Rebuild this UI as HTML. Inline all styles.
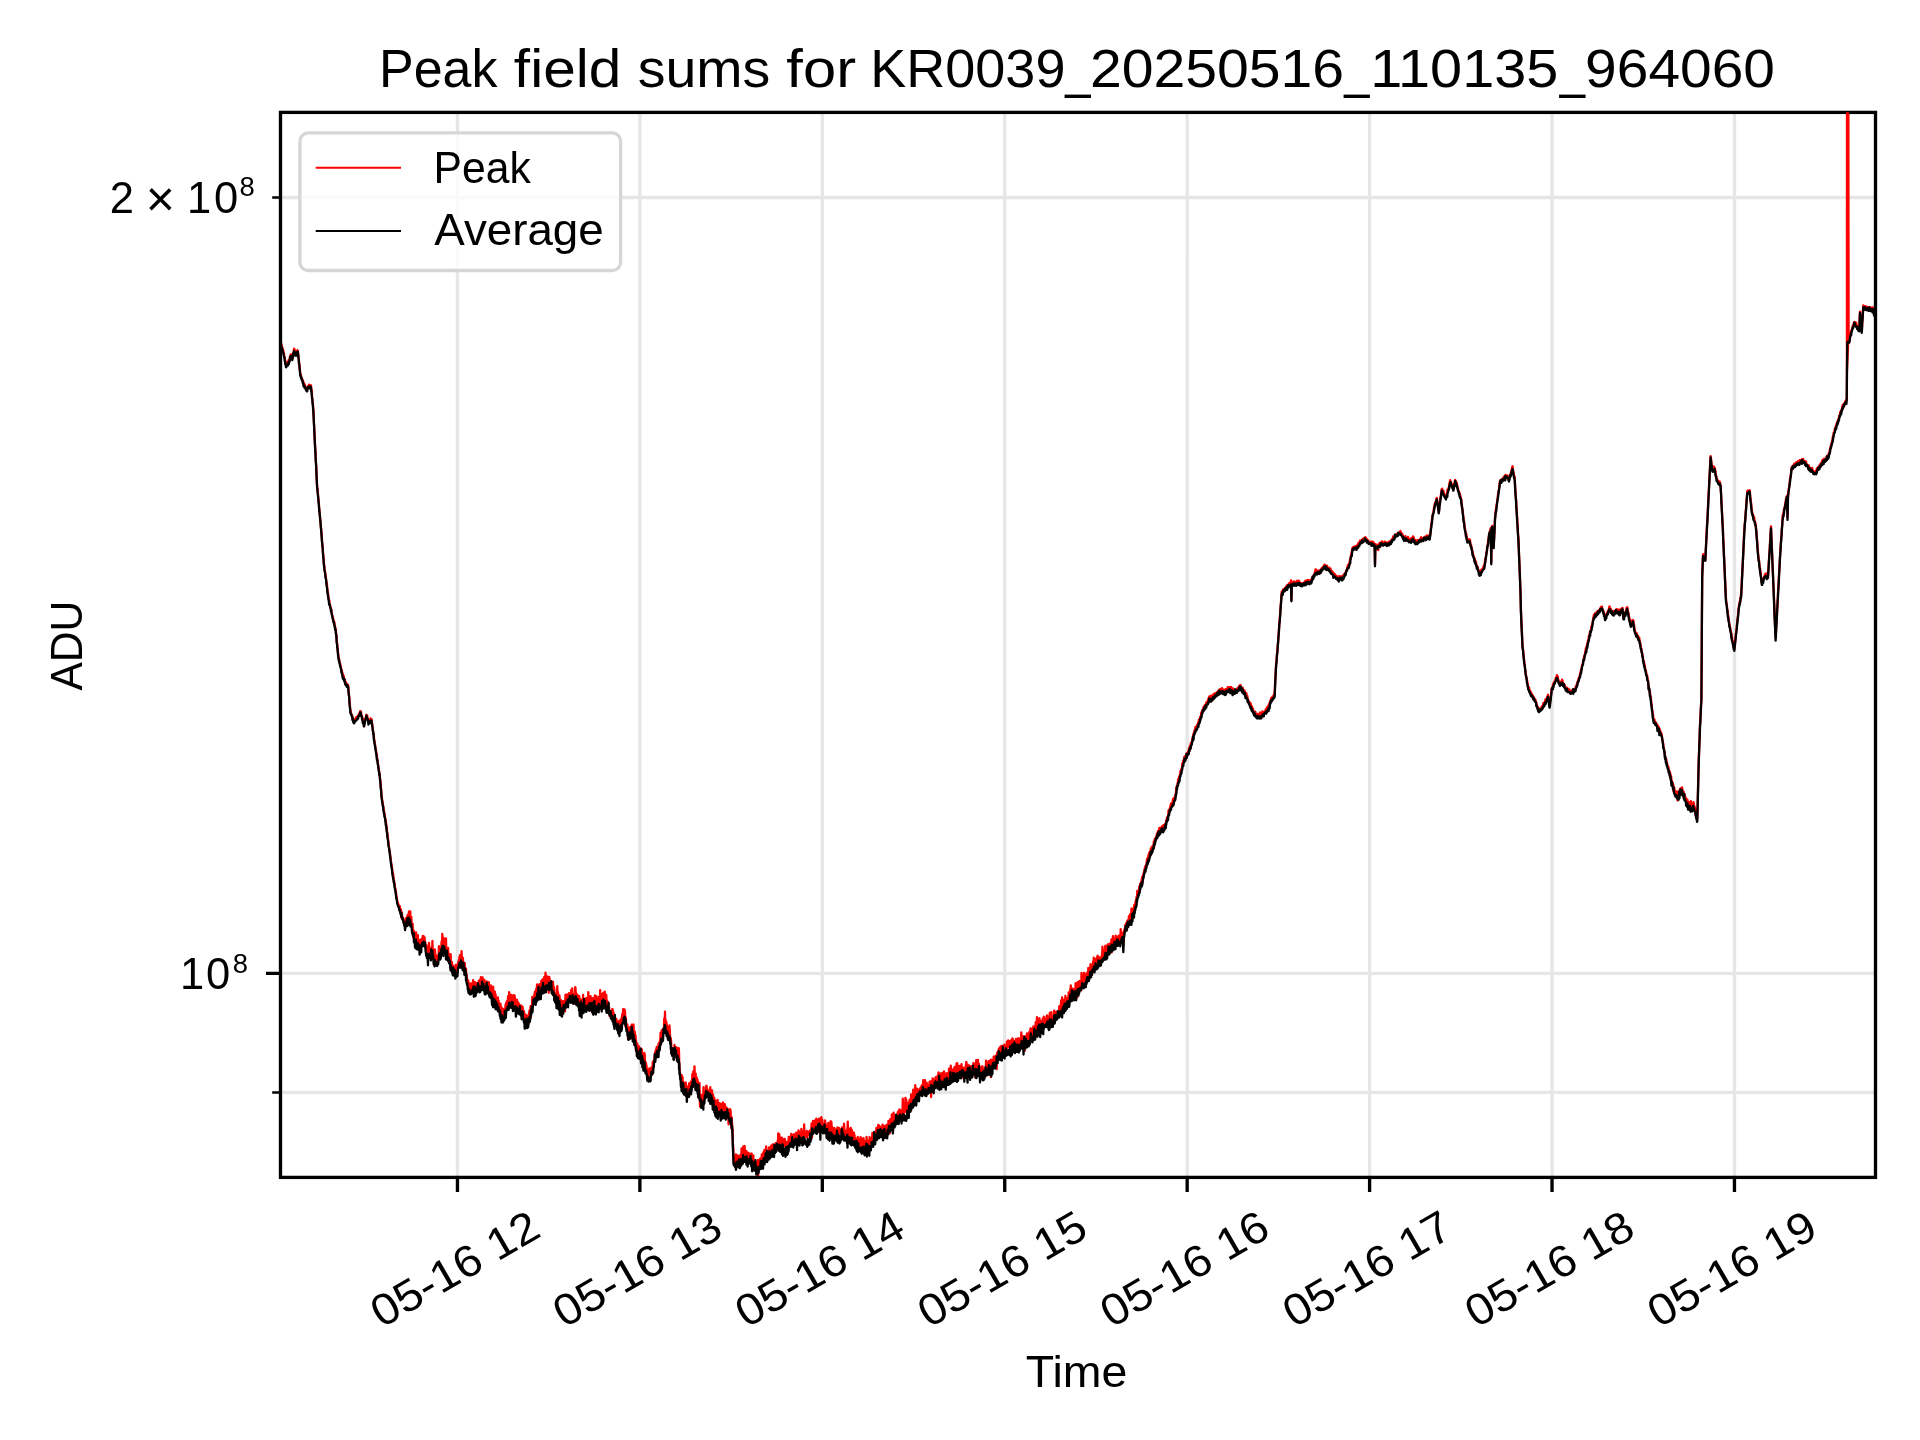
<!DOCTYPE html>
<html><head><meta charset="utf-8"><title>Peak field sums</title>
<style>html,body{margin:0;padding:0;background:#fff;width:1920px;height:1440px;overflow:hidden}svg{display:block;will-change:transform}text{font-family:"Liberation Sans",sans-serif}</style>
</head><body>
<svg width="1920" height="1440" viewBox="0 0 1920 1440">
<rect width="1920" height="1440" fill="#ffffff"/>
<defs><clipPath id="ax"><rect x="280.50" y="112.40" width="1595.00" height="1065.00"/></clipPath></defs>
<path d="M457.45 112.40V1177.40M639.88 112.40V1177.40M822.31 112.40V1177.40M1004.74 112.40V1177.40M1187.17 112.40V1177.40M1369.60 112.40V1177.40M1552.03 112.40V1177.40M1734.46 112.40V1177.40M280.50 197.50H1875.50M280.50 973.45H1875.50M280.50 1092.40H1875.50" stroke="#e6e6e6" stroke-width="3.333" fill="none" clip-path="url(#ax)"/>
<g clip-path="url(#ax)" fill="none" stroke-width="2.3" stroke-linejoin="round" stroke-linecap="butt">
<path d="M280.50 344.08L280.75 342.98L281.00 342.43L281.25 345.25L281.50 344.55L281.75 346.04L282.00 347.37L282.25 349.71L282.50 347.84L282.75 349.04L283.00 350.23L283.25 350.36L283.50 352.03L283.75 353.64L284.00 353.46L284.25 356.23L284.50 356.61L284.75 357.55L285.00 360.21L285.25 360.93L285.50 361.98L285.75 363.79L286.00 365.79L286.26 365.45L286.52 363.84L286.77 362.60L287.03 362.34L287.29 362.97L287.55 363.47L287.81 363.11L288.07 362.15L288.33 361.98L288.58 360.05L288.84 360.96L289.10 360.26L289.37 360.06L289.64 359.73L289.91 356.96L290.19 357.43L290.46 355.69L290.73 354.51L291.00 354.25L291.26 354.96L291.52 356.69L291.78 356.73L292.04 357.38L292.30 358.73L292.56 356.84L292.81 355.29L293.07 354.60L293.33 352.38L293.59 351.57L293.84 350.98L294.10 348.61L294.37 349.65L294.64 349.58L294.91 352.14L295.19 352.07L295.46 352.29L295.73 353.23L296.00 354.63L296.27 353.73L296.54 353.61L296.81 352.61L297.09 352.21L297.36 350.26L297.63 351.12L297.90 351.04L298.15 354.07L298.40 356.03L298.65 357.64L298.90 360.68L299.15 361.83L299.40 365.75L299.65 367.26L299.90 369.61L300.15 372.23L300.40 375.40L300.66 374.90L300.93 374.74L301.19 376.85L301.46 378.43L301.72 378.02L301.99 379.23L302.25 380.27L302.51 379.64L302.78 381.18L303.04 381.07L303.31 382.76L303.57 382.45L303.84 383.77L304.10 384.40L304.36 383.77L304.63 384.75L304.89 384.69L305.15 386.74L305.42 386.34L305.68 388.40L305.95 387.36L306.21 389.61L306.47 389.79L306.74 388.34L307.00 387.86L307.30 389.01L307.60 387.56L307.90 387.06L308.16 386.21L308.42 385.86L308.67 386.96L308.93 384.76L309.19 387.05L309.45 386.90L309.71 386.91L309.97 386.73L310.23 385.92L310.48 385.21L310.74 385.80L311.00 385.46L311.26 389.94L311.51 389.39L311.77 390.72L312.02 395.43L312.28 399.21L312.53 400.02L312.79 403.39L313.04 405.69L313.30 408.13L313.57 414.71L313.83 419.75L314.10 425.72L314.37 430.28L314.63 436.58L314.90 442.64L315.16 446.73L315.41 450.65L315.67 456.65L315.92 461.86L316.18 465.78L316.43 471.79L316.69 476.10L316.94 483.89L317.20 488.35L317.46 488.62L317.72 490.84L317.98 494.08L318.25 497.20L318.51 500.81L318.77 502.19L319.03 506.19L319.29 509.16L319.55 512.29L319.82 515.36L320.08 516.81L320.34 519.75L320.60 523.35L320.86 526.74L321.12 528.31L321.38 532.23L321.65 534.06L321.91 538.22L322.17 542.60L322.43 544.60L322.69 546.99L322.95 552.13L323.22 554.19L323.48 557.15L323.74 561.41L324.00 563.51L324.26 565.69L324.51 568.70L324.77 570.84L325.02 571.07L325.28 573.38L325.53 575.16L325.79 576.43L326.04 579.59L326.30 580.91L326.56 582.69L326.81 583.01L327.07 586.05L327.32 589.20L327.58 590.34L327.83 593.78L328.09 593.68L328.34 595.83L328.60 598.68L328.86 599.48L329.11 599.88L329.37 601.17L329.62 603.44L329.88 605.17L330.13 605.64L330.39 606.53L330.64 607.29L330.90 608.33L331.16 609.20L331.41 610.77L331.67 612.61L331.92 614.62L332.18 615.49L332.43 615.49L332.69 616.54L332.94 617.51L333.20 619.20L333.46 619.66L333.71 621.00L333.97 622.45L334.22 622.14L334.48 623.44L334.73 625.79L334.99 627.15L335.24 626.75L335.50 630.16L335.75 629.11L336.00 632.65L336.25 635.65L336.50 636.08L336.75 641.61L337.00 642.67L337.25 644.12L337.50 648.70L337.75 650.23L338.00 652.28L338.25 654.55L338.50 656.60L338.76 658.70L339.02 658.27L339.28 660.35L339.54 662.28L339.80 663.23L340.06 663.71L340.32 664.22L340.58 665.64L340.84 666.92L341.10 669.13L341.36 669.76L341.62 669.52L341.88 672.84L342.14 672.03L342.40 673.44L342.66 674.94L342.92 674.08L343.18 675.49L343.45 676.98L343.71 675.80L343.97 678.48L344.23 679.37L344.49 680.35L344.75 679.55L345.02 680.82L345.28 683.43L345.54 682.66L345.80 683.50L346.06 682.30L346.31 684.55L346.57 683.92L346.82 684.37L347.08 684.46L347.33 684.42L347.59 684.78L347.84 685.56L348.10 685.04L348.36 687.13L348.61 692.15L348.87 694.39L349.12 695.84L349.38 698.98L349.63 702.92L349.89 704.73L350.14 708.07L350.40 710.30L350.66 710.52L350.92 712.05L351.18 714.70L351.45 714.29L351.71 714.54L351.97 715.18L352.23 715.85L352.49 717.22L352.75 719.40L353.02 718.48L353.28 719.06L353.54 720.28L353.80 721.55L354.06 720.61L354.32 720.36L354.58 719.59L354.85 720.23L355.11 720.44L355.37 718.67L355.63 719.10L355.89 719.49L356.15 717.79L356.42 716.85L356.68 717.08L356.94 717.99L357.20 717.74L357.45 717.04L357.70 717.23L357.95 716.63L358.20 715.52L358.45 715.65L358.70 714.45L358.95 714.33L359.20 713.75L359.45 714.26L359.70 712.68L359.95 712.97L360.20 711.24L360.45 711.46L360.70 711.28L360.96 711.97L361.22 714.58L361.48 714.56L361.75 716.05L362.01 716.60L362.27 719.46L362.53 717.80L362.79 719.91L363.05 721.80L363.32 722.41L363.58 721.12L363.84 722.78L364.10 726.28L364.36 723.30L364.61 722.32L364.87 718.86L365.12 719.52L365.38 718.65L365.63 718.55L365.89 717.09L366.14 715.24L366.40 714.77L366.66 715.01L366.91 715.78L367.17 715.58L367.42 716.85L367.68 718.76L367.93 720.01L368.19 720.32L368.44 721.47L368.70 722.17L368.97 719.94L369.24 722.46L369.51 721.27L369.78 720.06L370.05 719.84L370.32 720.14L370.59 718.38L370.86 720.76L371.13 719.62L371.40 719.01L371.67 720.05L371.93 722.80L372.20 723.37L372.47 726.48L372.73 727.62L373.00 730.74L373.27 732.49L373.53 733.57L373.80 735.39L374.07 738.72L374.33 739.92L374.60 741.90L374.86 743.93L375.12 745.00L375.38 748.16L375.64 749.28L375.90 749.52L376.16 751.58L376.42 753.73L376.68 754.30L376.94 756.66L377.20 758.49L377.46 761.21L377.72 762.19L377.98 764.39L378.24 765.21L378.50 767.24L378.76 768.63L379.02 770.16L379.28 772.80L379.54 772.92L379.80 775.48L380.06 779.01L380.32 780.13L380.59 782.52L380.85 786.85L381.11 789.10L381.38 792.65L381.64 796.70L381.90 798.16L382.16 799.69L382.41 801.57L382.67 802.87L382.92 804.28L383.18 805.92L383.44 807.21L383.69 809.77L383.95 810.69L384.21 811.84L384.46 813.54L384.72 814.45L384.98 817.58L385.23 818.21L385.49 820.05L385.74 820.90L386.00 822.71L386.26 824.43L386.52 826.80L386.79 827.98L387.05 832.03L387.31 833.41L387.58 835.24L387.84 837.65L388.10 839.49L388.36 842.12L388.62 843.84L388.89 846.59L389.15 847.49L389.41 849.98L389.68 851.23L389.94 853.14L390.20 854.87L390.46 857.00L390.73 859.58L390.99 861.05L391.25 863.58L391.51 864.34L391.78 866.74L392.04 867.29L392.30 870.85L392.56 873.41L392.82 872.74L393.08 873.87L393.34 875.63L393.60 878.15L393.86 882.02L394.12 881.29L394.38 882.42L394.64 884.61L394.90 886.67L395.16 888.06L395.42 888.44L395.68 891.05L395.94 891.92L396.20 894.79L396.46 896.19L396.72 898.07L396.98 899.27L397.24 901.20L397.50 901.66L397.76 903.01L398.02 903.34L398.29 903.94L398.55 904.68L398.81 905.78L399.07 906.28L399.34 908.42L399.60 905.78L399.86 906.75L400.12 910.43L400.39 910.41L400.65 910.48L400.91 909.34L401.18 917.46L401.44 911.75L401.70 913.23L401.96 914.01L402.22 917.44L402.48 916.82L402.73 918.12L402.99 918.74L403.25 918.13L403.51 919.99L403.77 921.96L404.02 924.47L404.28 922.50L404.54 925.18L404.80 924.33L405.06 923.06L405.32 923.31L405.58 921.81L405.84 920.74L406.10 918.21L406.36 920.14L406.62 922.54L406.88 921.05L407.14 917.17L407.40 917.57L407.66 914.98L407.92 922.18L408.18 920.19L408.44 916.51L408.70 915.28L408.96 911.47L409.22 914.42L409.48 916.35L409.74 918.82L410.00 914.44L410.26 911.45L410.52 919.77L410.79 918.85L411.05 921.63L411.31 916.78L411.57 922.50L411.84 926.48L412.10 928.06L412.36 926.73L412.62 923.72L412.89 931.83L413.15 936.82L413.41 934.15L413.68 930.38L413.94 931.89L414.20 935.08L414.46 932.91L414.72 938.87L414.98 935.35L415.24 940.34L415.50 944.60L415.76 939.87L416.02 932.35L416.28 935.24L416.54 942.05L416.80 939.69L417.06 943.66L417.32 936.96L417.58 947.31L417.84 935.15L418.10 944.54L418.36 948.69L418.62 946.59L418.88 941.63L419.14 947.91L419.40 944.12L419.66 941.44L419.91 940.18L420.17 946.80L420.42 943.63L420.68 946.69L420.94 940.38L421.19 939.12L421.45 945.38L421.71 939.37L421.96 939.16L422.22 938.62L422.48 940.34L422.73 936.01L422.99 936.87L423.24 937.76L423.50 937.45L423.77 936.40L424.03 940.70L424.30 939.61L424.57 937.30L424.83 941.90L425.10 945.17L425.37 942.50L425.63 948.38L425.90 946.05L426.17 949.91L426.43 945.12L426.70 950.47L426.96 948.61L427.22 947.02L427.48 949.02L427.74 952.31L428.00 949.09L428.26 949.97L428.52 946.49L428.78 953.65L429.04 942.98L429.30 953.86L429.56 950.83L429.82 950.99L430.08 953.72L430.34 949.21L430.60 953.14L430.86 954.69L431.12 959.33L431.38 953.02L431.64 947.09L431.90 950.74L432.16 953.46L432.42 940.92L432.68 952.68L432.94 954.18L433.20 952.07L433.46 958.30L433.72 955.61L433.98 956.55L434.24 951.16L434.50 958.66L434.76 949.30L435.02 950.14L435.28 955.57L435.54 958.09L435.80 957.89L436.06 958.81L436.32 955.62L436.58 961.54L436.84 959.22L437.10 958.91L437.36 958.96L437.62 955.46L437.88 956.66L438.14 958.64L438.40 955.91L438.66 955.09L438.92 946.20L439.18 953.04L439.44 952.85L439.70 951.42L439.96 954.92L440.22 950.03L440.48 948.61L440.74 949.96L441.00 952.32L441.26 951.52L441.52 941.71L441.78 950.25L442.04 946.42L442.30 933.86L442.56 942.68L442.82 941.99L443.09 941.35L443.35 943.21L443.61 937.87L443.88 941.00L444.14 941.49L444.40 945.19L444.66 944.97L444.93 943.96L445.19 945.38L445.45 951.41L445.71 946.70L445.98 938.45L446.24 948.15L446.50 947.98L446.76 952.10L447.02 948.27L447.28 957.91L447.54 959.62L447.80 954.67L448.06 947.87L448.32 954.22L448.58 953.36L448.84 960.94L449.10 957.68L449.36 954.64L449.62 962.43L449.88 954.78L450.14 964.11L450.40 962.46L450.66 954.27L450.92 965.36L451.18 969.75L451.44 963.04L451.70 961.81L451.96 962.42L452.22 968.82L452.48 967.78L452.74 969.54L453.00 965.63L453.26 971.26L453.52 967.65L453.78 970.60L454.04 970.82L454.30 968.22L454.56 967.46L454.82 970.58L455.08 967.21L455.34 969.90L455.60 964.85L455.86 967.50L456.12 966.80L456.38 970.94L456.64 966.74L456.90 973.93L457.16 966.90L457.42 972.15L457.67 965.91L457.93 963.28L458.19 965.15L458.45 961.47L458.71 964.85L458.97 959.78L459.23 959.81L459.48 956.99L459.74 957.54L460.00 955.21L460.26 960.13L460.52 958.57L460.79 955.28L461.05 955.06L461.31 960.15L461.57 951.27L461.84 960.54L462.10 956.85L462.36 967.14L462.62 962.13L462.89 957.91L463.15 963.95L463.41 965.72L463.68 964.63L463.94 965.34L464.20 964.55L464.46 966.74L464.72 962.98L464.98 974.35L465.24 967.75L465.50 974.48L465.76 974.73L466.02 968.56L466.28 976.40L466.54 974.58L466.80 974.97L467.06 980.72L467.32 981.13L467.58 981.35L467.84 979.86L468.10 980.55L468.36 981.13L468.62 984.66L468.88 990.40L469.14 986.59L469.40 990.73L469.66 987.21L469.92 987.90L470.18 991.16L470.44 989.06L470.70 983.39L470.96 992.15L471.22 993.48L471.48 989.25L471.74 991.74L472.00 987.03L472.26 990.57L472.52 983.07L472.78 984.81L473.04 980.26L473.30 988.07L473.56 989.79L473.82 985.67L474.08 991.16L474.34 985.80L474.60 982.41L474.86 985.36L475.12 982.24L475.38 990.66L475.64 984.54L475.90 984.67L476.16 983.09L476.42 986.32L476.68 985.29L476.93 988.69L477.19 987.67L477.45 988.35L477.71 984.75L477.97 988.83L478.23 982.89L478.49 984.13L478.75 980.90L479.01 984.73L479.26 988.15L479.52 980.17L479.78 981.75L480.03 985.19L480.29 982.09L480.55 983.77L480.80 977.20L481.06 983.74L481.32 979.18L481.57 982.86L481.83 983.26L482.09 985.05L482.35 987.90L482.60 977.47L482.86 987.32L483.12 985.69L483.37 984.02L483.63 982.51L483.89 979.67L484.14 987.00L484.40 979.85L484.66 989.46L484.92 984.97L485.17 984.67L485.43 984.58L485.69 986.95L485.95 987.18L486.21 983.27L486.47 986.51L486.73 981.40L486.98 983.86L487.24 986.44L487.50 990.24L487.76 986.07L488.02 990.76L488.27 990.36L488.53 986.82L488.79 982.13L489.05 989.53L489.31 992.86L489.57 987.50L489.83 987.20L490.08 987.82L490.34 985.73L490.60 988.11L490.85 985.51L491.10 991.73L491.36 991.74L491.61 991.15L491.86 989.51L492.11 992.48L492.36 998.56L492.62 997.14L492.87 993.72L493.12 986.77L493.37 993.19L493.62 990.83L493.88 995.97L494.13 997.72L494.38 1001.66L494.63 1000.84L494.88 991.61L495.14 996.00L495.39 995.76L495.64 994.55L495.89 1001.63L496.14 998.64L496.40 1003.27L496.65 999.02L496.90 1000.27L497.15 1006.77L497.41 998.45L497.66 998.88L497.92 997.45L498.17 1000.80L498.42 1002.15L498.68 1000.97L498.93 1007.14L499.19 1005.97L499.44 1007.62L499.70 1006.33L499.95 1010.44L500.20 1011.57L500.46 1003.69L500.71 1011.10L500.97 1010.68L501.22 1006.95L501.48 1009.54L501.73 1008.10L501.98 1015.35L502.24 1009.96L502.49 1012.81L502.75 1010.21L503.00 1014.77L503.26 1017.40L503.51 1008.86L503.77 1017.03L504.02 1014.18L504.28 1016.65L504.54 1012.78L504.79 1010.37L505.05 1013.91L505.30 1009.75L505.56 1004.89L505.82 1005.49L506.07 1003.03L506.33 1005.89L506.58 1005.74L506.84 1001.11L507.10 1006.87L507.35 1009.50L507.61 1002.72L507.86 1000.82L508.12 996.05L508.38 997.64L508.63 997.69L508.89 1000.13L509.14 992.23L509.40 994.75L509.65 1001.01L509.90 997.49L510.15 1000.35L510.41 999.50L510.66 999.36L510.91 998.84L511.16 1001.55L511.41 994.84L511.66 998.25L511.92 995.92L512.17 1002.24L512.42 1003.12L512.67 1001.95L512.92 1001.63L513.17 1002.73L513.43 1000.78L513.68 995.14L513.93 1007.43L514.18 1005.97L514.43 998.65L514.68 995.71L514.94 1003.37L515.19 999.04L515.44 1005.49L515.69 1001.27L515.94 1005.08L516.19 1006.89L516.45 1009.37L516.70 1007.08L516.95 999.76L517.20 1007.93L517.46 1004.48L517.72 1007.59L517.98 1009.05L518.23 1002.48L518.49 1004.51L518.75 1004.73L519.01 1004.04L519.27 1008.03L519.52 1011.17L519.78 1004.97L520.04 1011.89L520.30 1013.77L520.56 1006.60L520.82 1013.87L521.08 1011.83L521.33 1005.76L521.59 1009.61L521.85 1011.43L522.11 1009.81L522.37 1010.63L522.62 1006.94L522.88 1010.70L523.14 1011.81L523.40 1015.90L523.66 1016.32L523.91 1010.87L524.17 1013.75L524.42 1015.81L524.68 1020.28L524.93 1016.83L525.19 1022.97L525.44 1014.53L525.70 1015.51L525.96 1019.56L526.21 1016.01L526.47 1015.61L526.72 1020.34L526.98 1015.72L527.23 1024.95L527.49 1020.64L527.74 1020.11L528.00 1018.58L528.25 1017.19L528.51 1023.32L528.76 1021.66L529.01 1012.60L529.26 1016.48L529.52 1010.28L529.77 1013.33L530.02 1017.34L530.27 1016.96L530.53 1006.20L530.78 1017.10L531.03 1007.20L531.28 1007.75L531.54 1005.67L531.79 1006.89L532.04 1006.47L532.29 997.01L532.55 1006.89L532.80 998.06L533.06 998.69L533.32 1001.73L533.58 999.77L533.84 999.23L534.11 1000.86L534.37 994.03L534.63 997.73L534.89 991.73L535.15 992.31L535.41 994.92L535.67 1000.02L535.93 997.91L536.19 989.62L536.46 988.32L536.72 993.23L536.98 985.23L537.24 984.46L537.50 988.87L537.75 988.13L538.00 993.14L538.25 987.43L538.50 988.37L538.75 989.66L539.00 986.85L539.25 994.13L539.50 984.21L539.75 986.53L540.00 987.00L540.25 985.68L540.50 984.24L540.75 990.15L541.00 988.49L541.25 981.02L541.50 985.18L541.75 982.17L542.00 981.53L542.25 988.66L542.50 979.34L542.75 985.38L543.00 984.41L543.25 985.96L543.50 985.83L543.75 987.26L544.00 982.63L544.25 976.87L544.50 983.71L544.75 983.29L545.00 984.76L545.25 983.44L545.50 972.71L545.75 977.06L546.00 986.87L546.25 982.97L546.50 984.46L546.75 981.73L547.00 982.55L547.25 976.48L547.50 979.97L547.75 986.37L548.00 979.88L548.25 987.10L548.50 983.76L548.75 992.82L549.00 979.68L549.25 977.01L549.50 980.01L549.75 978.87L550.00 982.35L550.25 983.08L550.50 983.23L550.75 982.67L551.00 986.35L551.25 981.20L551.50 981.29L551.75 983.28L552.00 983.59L552.25 989.02L552.50 986.12L552.75 989.30L553.00 981.79L553.25 988.99L553.50 993.59L553.75 986.75L554.00 992.70L554.25 988.14L554.50 991.40L554.75 993.28L555.00 998.60L555.25 1001.87L555.50 994.80L555.75 994.01L556.00 995.80L556.25 998.19L556.50 996.55L556.75 1001.31L557.00 997.30L557.25 986.06L557.50 995.22L557.75 998.73L558.00 992.27L558.25 998.37L558.50 998.06L558.75 999.74L559.00 1003.87L559.25 1000.72L559.50 995.34L559.75 1005.41L560.00 1003.70L560.25 999.30L560.50 1005.32L560.75 1012.60L561.00 1000.04L561.25 1008.84L561.50 1005.45L561.75 1007.08L562.00 1001.98L562.25 1007.76L562.50 1001.77L562.75 1001.27L563.00 1005.02L563.25 1010.40L563.50 1004.04L563.75 1001.05L564.00 1001.03L564.25 1002.35L564.50 1001.40L564.75 1002.76L565.00 1011.38L565.25 1000.75L565.50 994.57L565.75 999.20L566.00 998.39L566.25 999.55L566.50 1002.43L566.75 997.07L567.00 998.42L567.25 1002.81L567.50 994.52L567.75 998.24L568.00 995.77L568.25 995.95L568.50 999.87L568.75 996.59L569.00 993.11L569.25 995.56L569.50 998.54L569.75 996.07L570.00 997.20L570.25 998.27L570.50 998.19L570.75 998.17L571.00 998.27L571.25 989.97L571.50 994.04L571.75 997.34L572.00 996.64L572.25 988.46L572.50 995.21L572.75 996.95L573.00 996.83L573.25 993.95L573.50 995.23L573.75 1003.76L574.00 994.25L574.25 995.85L574.50 999.51L574.75 994.92L575.00 995.14L575.25 987.15L575.50 987.92L575.75 994.26L576.00 992.85L576.25 995.04L576.50 998.75L576.75 1000.47L577.00 995.28L577.25 995.36L577.50 994.66L577.75 1004.41L578.00 997.92L578.25 997.78L578.50 1000.29L578.75 1000.92L579.00 1004.21L579.25 996.09L579.50 1002.78L579.75 1001.14L580.00 1006.53L580.25 1011.97L580.50 1002.62L580.75 999.69L581.00 1005.09L581.25 1012.77L581.50 1003.37L581.76 1002.30L582.01 1008.03L582.26 1006.60L582.51 1000.14L582.77 1003.56L583.02 994.98L583.27 998.70L583.52 1005.98L583.78 1000.94L584.03 1003.08L584.28 1002.36L584.54 1003.10L584.79 1003.22L585.04 1006.63L585.29 998.94L585.55 1001.65L585.80 1001.79L586.05 1006.90L586.30 997.84L586.56 1003.40L586.81 1004.88L587.06 999.47L587.31 1005.89L587.57 1001.33L587.82 1000.43L588.07 1005.56L588.33 992.16L588.58 1003.46L588.83 1004.40L589.08 999.43L589.34 1005.53L589.59 1001.12L589.84 1010.59L590.09 1002.59L590.35 1000.72L590.60 996.20L590.85 1007.29L591.10 998.61L591.36 1000.64L591.61 1002.75L591.86 1002.67L592.11 1002.40L592.36 1007.60L592.62 998.05L592.87 1007.00L593.12 1005.78L593.37 1003.92L593.62 1000.84L593.88 998.55L594.13 1009.58L594.38 1007.64L594.63 998.61L594.88 995.43L595.14 999.21L595.39 1000.14L595.64 1004.14L595.89 1008.90L596.14 1002.65L596.40 996.07L596.65 1002.94L596.90 1005.25L597.15 1002.52L597.40 999.43L597.65 1005.13L597.91 1005.02L598.16 1006.32L598.41 1004.53L598.66 1002.64L598.91 996.80L599.16 1004.00L599.42 1005.00L599.67 1009.56L599.92 1001.28L600.17 990.18L600.42 1002.93L600.67 999.36L600.93 996.97L601.18 993.87L601.43 998.87L601.68 1009.21L601.93 996.25L602.18 998.64L602.44 998.81L602.69 997.78L602.94 993.11L603.19 998.53L603.44 1000.79L603.69 992.55L603.95 995.72L604.20 996.45L604.45 994.69L604.70 991.53L604.96 997.34L605.22 997.85L605.48 1001.06L605.74 1002.05L606.01 1001.74L606.27 994.96L606.53 1001.83L606.79 1005.15L607.05 1000.57L607.31 1007.00L607.57 1002.73L607.83 1002.39L608.09 1001.99L608.36 1006.74L608.62 1007.57L608.88 1007.71L609.14 1007.30L609.40 1012.83L609.66 1016.14L609.92 1015.44L610.17 1011.63L610.43 1013.23L610.69 1014.91L610.95 1012.32L611.21 1015.78L611.47 1017.03L611.73 1011.48L611.98 1013.11L612.24 1009.06L612.50 1009.13L612.76 1010.05L613.02 1014.27L613.27 1019.24L613.53 1012.34L613.79 1016.23L614.05 1016.50L614.31 1015.71L614.57 1016.76L614.83 1019.34L615.08 1017.83L615.34 1020.95L615.60 1020.17L615.86 1021.14L616.12 1018.87L616.38 1026.14L616.64 1019.48L616.89 1024.10L617.15 1024.32L617.41 1025.43L617.67 1022.84L617.93 1022.52L618.19 1024.41L618.45 1025.81L618.71 1025.85L618.96 1027.77L619.22 1020.93L619.48 1026.75L619.74 1032.67L620.00 1021.00L620.26 1020.32L620.52 1021.08L620.79 1023.27L621.05 1019.28L621.31 1024.09L621.58 1018.23L621.84 1021.28L622.10 1014.52L622.36 1015.97L622.62 1018.32L622.89 1016.55L623.15 1009.10L623.41 1018.75L623.68 1011.88L623.94 1011.17L624.20 1014.69L624.46 1009.36L624.71 1018.56L624.97 1010.61L625.23 1017.38L625.48 1026.37L625.74 1017.32L625.99 1021.68L626.25 1023.81L626.51 1027.83L626.76 1024.17L627.02 1030.28L627.27 1024.34L627.53 1029.21L627.79 1029.11L628.04 1039.11L628.30 1037.38L628.56 1037.82L628.82 1033.62L629.09 1027.40L629.35 1029.57L629.61 1029.87L629.88 1039.03L630.14 1030.76L630.40 1032.66L630.66 1029.65L630.92 1026.28L631.19 1027.87L631.45 1028.89L631.71 1024.76L631.98 1027.28L632.24 1024.94L632.50 1029.86L632.75 1028.68L633.01 1034.36L633.26 1025.88L633.52 1024.53L633.77 1031.02L634.02 1031.78L634.28 1037.16L634.53 1040.36L634.78 1031.67L635.04 1038.04L635.29 1040.55L635.55 1035.42L635.80 1044.05L636.06 1040.38L636.32 1051.19L636.59 1045.29L636.85 1043.02L637.11 1047.55L637.38 1044.16L637.64 1049.99L637.90 1053.47L638.16 1050.73L638.42 1050.36L638.69 1048.75L638.95 1046.42L639.21 1052.39L639.48 1049.58L639.74 1052.64L640.00 1048.51L640.26 1052.30L640.52 1053.13L640.79 1057.06L641.05 1048.75L641.31 1057.46L641.58 1054.76L641.84 1049.35L642.10 1057.13L642.36 1055.50L642.62 1059.01L642.89 1054.81L643.15 1058.91L643.41 1054.94L643.68 1063.49L643.94 1059.45L644.20 1053.02L644.46 1053.71L644.71 1054.49L644.97 1061.37L645.23 1066.30L645.48 1065.77L645.74 1062.46L645.99 1062.97L646.25 1067.58L646.51 1065.49L646.76 1069.79L647.02 1069.29L647.27 1069.61L647.53 1073.51L647.79 1070.79L648.04 1077.17L648.30 1081.16L648.56 1071.59L648.82 1073.01L649.08 1074.61L649.35 1068.41L649.61 1071.45L649.87 1069.69L650.13 1069.68L650.39 1069.80L650.65 1068.38L650.92 1073.49L651.18 1070.03L651.44 1068.29L651.70 1067.05L651.95 1067.58L652.21 1069.59L652.46 1074.15L652.72 1062.29L652.97 1062.20L653.22 1061.49L653.48 1062.77L653.73 1064.14L653.98 1062.61L654.24 1061.35L654.49 1060.39L654.75 1056.60L655.00 1053.55L655.25 1052.03L655.50 1055.31L655.75 1052.59L656.00 1049.50L656.25 1052.97L656.50 1048.86L656.75 1046.88L657.00 1052.71L657.25 1048.44L657.50 1051.31L657.75 1051.71L658.00 1048.03L658.25 1049.62L658.50 1045.70L658.75 1043.23L659.00 1048.01L659.25 1043.01L659.50 1046.20L659.75 1043.47L660.00 1040.35L660.25 1044.70L660.50 1032.80L660.75 1041.15L661.00 1032.84L661.25 1039.66L661.50 1038.24L661.75 1030.23L662.00 1033.83L662.25 1034.15L662.50 1033.24L662.75 1030.07L663.00 1030.36L663.25 1029.76L663.50 1028.96L663.75 1029.19L664.00 1026.41L664.25 1018.46L664.50 1028.86L664.75 1024.32L665.00 1011.74L665.25 1024.01L665.50 1019.39L665.75 1024.88L666.00 1026.41L666.25 1021.74L666.50 1023.14L666.75 1024.23L667.00 1030.44L667.25 1026.59L667.50 1031.15L667.75 1031.11L668.00 1031.34L668.25 1038.59L668.50 1032.34L668.75 1039.16L669.00 1039.32L669.25 1034.26L669.50 1025.45L669.75 1030.19L670.00 1034.85L670.28 1038.81L670.57 1041.34L670.85 1038.31L671.13 1042.56L671.42 1053.64L671.70 1048.23L671.95 1053.51L672.21 1052.05L672.46 1048.18L672.72 1049.29L672.97 1050.53L673.22 1053.72L673.48 1050.00L673.73 1049.06L673.98 1047.39L674.24 1054.44L674.49 1044.93L674.75 1050.93L675.00 1049.45L675.25 1054.94L675.51 1050.70L675.76 1054.56L676.02 1047.07L676.27 1052.15L676.52 1055.09L676.78 1050.90L677.03 1052.57L677.28 1049.63L677.54 1055.77L677.79 1057.99L678.05 1047.91L678.30 1050.76L678.55 1062.31L678.80 1048.22L679.05 1053.47L679.30 1064.57L679.55 1067.20L679.80 1073.04L680.05 1072.98L680.30 1076.66L680.55 1074.71L680.80 1076.07L681.05 1076.65L681.30 1083.62L681.55 1083.65L681.80 1075.25L682.05 1081.18L682.30 1078.51L682.55 1077.09L682.80 1086.38L683.05 1086.12L683.30 1082.67L683.55 1084.36L683.80 1086.81L684.05 1085.53L684.30 1084.57L684.55 1086.32L684.80 1087.96L685.05 1082.39L685.30 1090.26L685.55 1089.02L685.80 1082.62L686.06 1085.42L686.32 1088.46L686.59 1089.03L686.85 1092.14L687.11 1093.52L687.38 1092.58L687.64 1089.48L687.90 1088.89L688.16 1086.29L688.42 1087.69L688.69 1086.50L688.95 1087.27L689.21 1083.26L689.48 1090.56L689.74 1089.15L690.00 1088.61L690.26 1084.16L690.52 1088.20L690.79 1087.95L691.05 1081.34L691.31 1083.84L691.58 1086.09L691.84 1083.10L692.10 1081.71L692.36 1074.14L692.62 1078.94L692.89 1075.28L693.15 1073.89L693.41 1071.25L693.68 1072.73L693.94 1074.36L694.20 1078.54L694.45 1066.36L694.71 1073.09L694.96 1075.40L695.22 1074.04L695.47 1077.38L695.72 1073.65L695.98 1082.09L696.23 1084.60L696.48 1082.27L696.74 1077.69L696.99 1080.86L697.25 1079.69L697.50 1079.61L697.75 1083.82L698.00 1081.81L698.25 1087.34L698.50 1092.04L698.75 1088.47L699.00 1090.54L699.25 1090.34L699.50 1083.09L699.75 1097.99L700.00 1106.51L700.25 1095.48L700.50 1096.81L700.75 1096.48L701.00 1095.14L701.25 1099.76L701.50 1099.49L701.75 1104.41L702.00 1102.33L702.25 1098.81L702.50 1094.54L702.76 1101.51L703.02 1098.00L703.29 1099.82L703.55 1087.14L703.81 1093.10L704.08 1099.57L704.34 1098.59L704.60 1094.18L704.86 1093.68L705.12 1093.72L705.39 1096.77L705.65 1093.13L705.91 1096.60L706.18 1085.94L706.44 1085.68L706.70 1086.75L706.96 1089.92L707.21 1090.66L707.47 1089.33L707.73 1091.58L707.98 1093.12L708.24 1094.60L708.49 1091.41L708.75 1092.15L709.01 1092.20L709.26 1093.26L709.52 1090.71L709.77 1092.47L710.03 1097.10L710.29 1087.19L710.54 1092.76L710.80 1092.44L711.05 1091.25L711.30 1094.61L711.55 1096.67L711.80 1094.14L712.05 1090.34L712.30 1099.38L712.55 1095.71L712.80 1103.75L713.05 1094.46L713.30 1103.25L713.55 1105.55L713.80 1106.06L714.05 1106.42L714.30 1097.80L714.55 1103.76L714.80 1107.54L715.05 1107.90L715.30 1106.64L715.55 1100.60L715.80 1105.43L716.06 1107.97L716.32 1107.52L716.57 1111.66L716.83 1106.12L717.09 1105.96L717.35 1107.43L717.60 1099.95L717.86 1112.36L718.12 1112.99L718.38 1102.88L718.63 1111.14L718.89 1105.62L719.15 1110.54L719.41 1105.31L719.67 1105.02L719.92 1103.28L720.18 1109.34L720.44 1111.59L720.70 1107.04L720.95 1103.94L721.21 1115.46L721.47 1110.93L721.73 1115.23L721.98 1108.23L722.24 1111.58L722.50 1104.95L722.75 1110.60L723.00 1102.51L723.25 1108.16L723.50 1112.72L723.75 1107.12L724.00 1109.51L724.25 1104.56L724.50 1110.23L724.75 1104.14L725.00 1108.12L725.25 1110.87L725.50 1112.98L725.75 1110.67L726.00 1108.82L726.25 1107.33L726.50 1110.05L726.75 1113.06L727.00 1110.94L727.25 1108.96L727.50 1108.62L727.76 1112.08L728.01 1109.83L728.27 1110.04L728.52 1124.33L728.78 1114.79L729.03 1110.38L729.29 1113.39L729.54 1113.04L729.80 1114.46L730.06 1109.27L730.31 1113.72L730.57 1109.98L730.82 1119.69L731.08 1117.43L731.33 1128.56L731.59 1116.95L731.84 1121.91L732.10 1123.38L732.35 1130.42L732.60 1129.04L732.85 1143.17L733.10 1146.55L733.35 1147.72L733.60 1163.02L733.86 1157.50L734.12 1157.72L734.38 1159.66L734.64 1161.39L734.91 1156.95L735.17 1163.08L735.43 1163.94L735.69 1166.83L735.95 1154.36L736.21 1160.02L736.47 1157.77L736.73 1157.48L736.99 1161.46L737.26 1158.73L737.52 1158.33L737.78 1155.46L738.04 1159.08L738.30 1157.05L738.55 1158.88L738.80 1162.11L739.06 1158.62L739.31 1162.70L739.56 1156.20L739.81 1159.76L740.06 1162.04L740.32 1157.37L740.57 1154.77L740.82 1156.62L741.07 1155.33L741.32 1157.72L741.58 1148.30L741.83 1152.31L742.08 1155.23L742.33 1162.11L742.58 1148.33L742.84 1152.70L743.09 1159.77L743.34 1146.36L743.59 1156.83L743.84 1156.73L744.10 1153.07L744.35 1156.19L744.60 1145.93L744.86 1151.42L745.12 1157.27L745.38 1151.25L745.63 1152.71L745.89 1153.87L746.15 1150.98L746.41 1156.77L746.67 1151.61L746.92 1156.74L747.18 1153.38L747.44 1153.63L747.70 1158.96L747.96 1157.02L748.22 1158.36L748.48 1152.79L748.73 1153.26L748.99 1158.37L749.25 1158.37L749.51 1153.55L749.77 1163.32L750.02 1157.15L750.28 1160.77L750.54 1154.75L750.80 1154.71L751.05 1158.91L751.30 1157.42L751.56 1153.38L751.81 1159.54L752.06 1158.99L752.31 1160.35L752.56 1165.41L752.82 1162.16L753.07 1164.02L753.32 1155.33L753.57 1163.66L753.82 1163.23L754.08 1170.31L754.33 1162.71L754.58 1161.79L754.83 1162.24L755.08 1161.55L755.34 1165.16L755.59 1169.59L755.84 1163.98L756.09 1162.79L756.34 1168.55L756.60 1169.44L756.85 1164.72L757.10 1164.05L757.36 1165.80L757.62 1160.16L757.88 1164.43L758.13 1175.88L758.39 1160.16L758.65 1161.91L758.91 1160.51L759.17 1160.89L759.42 1160.70L759.68 1165.21L759.94 1166.15L760.20 1158.72L760.46 1162.08L760.72 1160.27L760.98 1160.55L761.23 1159.26L761.49 1162.98L761.75 1154.51L762.01 1157.93L762.27 1162.01L762.52 1156.84L762.78 1159.87L763.04 1163.13L763.30 1152.50L763.56 1153.34L763.82 1156.30L764.08 1159.13L764.34 1149.93L764.60 1156.48L764.86 1154.90L765.12 1157.16L765.38 1155.30L765.64 1150.78L765.90 1155.00L766.16 1146.49L766.42 1154.95L766.68 1156.36L766.94 1154.19L767.20 1152.02L767.46 1154.60L767.72 1151.26L767.98 1152.38L768.24 1155.99L768.50 1153.98L768.75 1151.42L769.00 1147.28L769.25 1151.38L769.50 1149.30L769.75 1151.88L770.00 1149.43L770.25 1150.75L770.50 1149.86L770.75 1155.95L771.00 1147.29L771.25 1145.66L771.50 1147.18L771.75 1146.60L772.00 1147.40L772.25 1149.29L772.50 1144.61L772.75 1148.09L773.00 1144.78L773.25 1151.25L773.50 1144.50L773.75 1151.50L774.00 1146.13L774.25 1147.90L774.50 1153.26L774.75 1148.33L775.00 1148.16L775.25 1145.39L775.50 1146.39L775.75 1143.08L776.00 1147.04L776.25 1144.54L776.50 1144.03L776.75 1144.13L777.00 1143.12L777.25 1143.37L777.50 1144.36L777.75 1140.43L778.00 1145.29L778.25 1133.44L778.50 1146.27L778.75 1150.57L779.00 1137.19L779.25 1134.07L779.50 1142.15L779.75 1146.46L780.00 1140.20L780.25 1145.84L780.50 1137.73L780.75 1140.61L781.00 1142.22L781.25 1146.73L781.50 1142.85L781.75 1137.53L782.00 1143.51L782.25 1143.80L782.50 1140.58L782.75 1138.94L783.00 1144.07L783.25 1140.35L783.50 1141.23L783.75 1143.96L784.00 1146.21L784.25 1145.16L784.50 1145.17L784.75 1138.98L785.00 1140.60L785.25 1145.93L785.50 1144.88L785.75 1143.47L786.00 1145.24L786.25 1146.12L786.50 1148.74L786.75 1141.85L787.00 1145.26L787.25 1149.99L787.50 1142.70L787.75 1143.32L788.00 1143.58L788.25 1143.16L788.50 1144.06L788.75 1136.97L789.00 1145.04L789.25 1137.46L789.50 1137.05L789.75 1141.44L790.00 1139.68L790.25 1143.07L790.50 1141.61L790.75 1137.59L791.00 1142.73L791.25 1133.83L791.50 1135.73L791.75 1141.47L792.00 1141.30L792.25 1143.59L792.50 1143.15L792.75 1136.07L793.00 1138.52L793.25 1138.23L793.51 1135.16L793.76 1134.30L794.01 1137.96L794.26 1139.52L794.51 1135.35L794.76 1137.07L795.02 1136.26L795.27 1139.29L795.52 1134.11L795.77 1138.65L796.02 1136.81L796.27 1132.72L796.52 1137.84L796.78 1138.14L797.03 1135.54L797.28 1136.34L797.53 1140.67L797.78 1137.74L798.03 1132.35L798.28 1133.40L798.54 1130.45L798.79 1131.42L799.04 1141.73L799.29 1135.20L799.54 1139.88L799.79 1134.99L800.05 1137.87L800.30 1141.02L800.55 1134.05L800.80 1134.39L801.06 1137.79L801.32 1128.95L801.57 1133.51L801.83 1131.07L802.09 1136.21L802.35 1143.50L802.61 1137.60L802.87 1135.94L803.12 1138.20L803.38 1132.16L803.64 1135.78L803.90 1133.24L804.16 1124.43L804.42 1134.51L804.67 1134.71L804.93 1131.62L805.19 1134.93L805.45 1136.10L805.71 1135.37L805.97 1137.17L806.23 1135.02L806.48 1133.39L806.74 1131.00L807.00 1137.39L807.25 1133.53L807.50 1136.96L807.76 1134.09L808.01 1134.56L808.26 1134.20L808.51 1131.54L808.76 1132.19L809.02 1134.42L809.27 1134.91L809.52 1134.12L809.77 1133.27L810.02 1130.55L810.28 1135.67L810.53 1130.28L810.78 1129.59L811.03 1133.08L811.28 1134.68L811.54 1123.48L811.79 1128.27L812.04 1137.75L812.29 1126.14L812.54 1125.58L812.80 1128.59L813.05 1120.79L813.30 1124.17L813.55 1129.85L813.80 1124.21L814.06 1122.11L814.31 1127.10L814.56 1124.69L814.81 1120.75L815.06 1129.00L815.31 1130.27L815.57 1124.27L815.82 1120.29L816.07 1124.40L816.32 1118.59L816.57 1123.00L816.82 1122.81L817.08 1123.87L817.33 1127.49L817.58 1124.73L817.83 1125.84L818.08 1119.75L818.33 1126.08L818.59 1125.30L818.84 1132.12L819.09 1118.64L819.34 1123.45L819.59 1123.14L819.84 1122.59L820.10 1120.75L820.35 1126.05L820.60 1118.75L820.86 1122.27L821.12 1117.92L821.38 1117.10L821.64 1125.83L821.90 1126.70L822.16 1119.52L822.42 1124.34L822.68 1131.97L822.94 1126.18L823.20 1124.49L823.46 1129.32L823.72 1128.97L823.98 1125.14L824.24 1131.31L824.50 1125.99L824.76 1123.52L825.02 1120.31L825.28 1122.10L825.54 1132.22L825.80 1132.50L826.05 1126.19L826.31 1130.86L826.56 1126.12L826.82 1127.45L827.07 1126.05L827.33 1129.33L827.58 1124.30L827.84 1126.28L828.09 1125.08L828.35 1122.83L828.60 1126.11L828.85 1130.03L829.11 1127.27L829.36 1124.49L829.62 1130.90L829.87 1134.00L830.13 1132.85L830.38 1128.30L830.64 1121.26L830.89 1132.43L831.15 1130.91L831.40 1121.88L831.65 1133.78L831.91 1126.23L832.16 1129.69L832.42 1132.32L832.67 1135.42L832.93 1128.77L833.18 1132.64L833.44 1136.67L833.69 1134.83L833.95 1129.78L834.20 1127.95L834.45 1134.99L834.70 1129.24L834.95 1131.43L835.21 1134.24L835.46 1135.88L835.71 1133.62L835.96 1138.05L836.21 1131.78L836.46 1129.46L836.72 1137.98L836.97 1130.79L837.22 1128.02L837.47 1127.48L837.72 1129.91L837.97 1128.88L838.22 1137.83L838.48 1137.57L838.73 1133.91L838.98 1127.78L839.23 1133.71L839.48 1128.64L839.73 1131.20L839.98 1131.18L840.24 1130.74L840.49 1132.96L840.74 1133.33L840.99 1132.72L841.24 1133.58L841.49 1133.87L841.75 1132.81L842.00 1127.49L842.25 1129.45L842.50 1127.54L842.75 1137.69L843.00 1128.85L843.25 1130.28L843.50 1131.95L843.75 1131.32L844.00 1123.68L844.25 1126.97L844.50 1132.19L844.75 1129.91L845.00 1137.20L845.25 1131.16L845.50 1131.47L845.75 1130.77L846.00 1138.05L846.25 1132.24L846.50 1131.43L846.75 1135.65L847.00 1132.21L847.25 1132.79L847.50 1128.92L847.75 1121.57L848.00 1137.22L848.25 1131.37L848.50 1136.94L848.75 1130.26L849.00 1134.65L849.25 1130.79L849.50 1128.85L849.75 1134.64L850.00 1134.50L850.25 1133.63L850.50 1139.87L850.75 1127.79L851.00 1130.93L851.25 1137.07L851.50 1133.61L851.75 1135.93L852.00 1130.05L852.25 1134.23L852.50 1135.33L852.75 1141.30L853.00 1137.55L853.25 1139.91L853.50 1141.54L853.75 1143.12L854.00 1132.72L854.25 1137.84L854.50 1135.34L854.75 1141.89L855.00 1139.04L855.25 1137.90L855.50 1142.60L855.75 1143.30L856.00 1144.60L856.25 1141.79L856.50 1145.61L856.75 1143.12L857.00 1142.71L857.25 1139.68L857.50 1147.20L857.76 1137.01L858.01 1141.27L858.26 1142.71L858.51 1139.36L858.76 1143.39L859.02 1145.64L859.27 1144.92L859.52 1139.69L859.77 1145.92L860.02 1144.51L860.28 1142.36L860.53 1137.16L860.78 1143.11L861.03 1145.24L861.28 1143.18L861.54 1138.58L861.79 1138.59L862.04 1148.90L862.29 1149.79L862.54 1142.33L862.80 1141.54L863.05 1145.10L863.30 1143.88L863.55 1138.03L863.80 1147.30L864.06 1140.91L864.31 1148.52L864.56 1140.99L864.81 1145.18L865.06 1142.89L865.31 1141.47L865.57 1142.18L865.82 1142.03L866.07 1146.57L866.32 1143.83L866.57 1136.89L866.82 1146.48L867.08 1145.82L867.33 1142.08L867.58 1140.29L867.83 1143.02L868.08 1144.04L868.33 1143.25L868.59 1147.97L868.84 1145.54L869.09 1148.88L869.34 1143.85L869.59 1137.08L869.84 1142.16L870.10 1140.22L870.35 1143.27L870.60 1143.97L870.85 1138.06L871.11 1142.50L871.36 1139.41L871.62 1137.98L871.87 1142.84L872.13 1139.24L872.38 1132.97L872.64 1142.60L872.89 1141.10L873.15 1139.65L873.40 1138.21L873.65 1142.82L873.91 1135.26L874.16 1132.04L874.42 1135.09L874.67 1135.24L874.93 1136.06L875.18 1134.41L875.44 1139.65L875.69 1135.02L875.95 1130.79L876.20 1129.97L876.45 1128.01L876.71 1132.46L876.96 1131.77L877.22 1129.99L877.47 1130.20L877.73 1128.77L877.98 1133.63L878.24 1124.94L878.49 1133.71L878.75 1125.25L879.00 1125.28L879.25 1130.11L879.51 1126.13L879.76 1126.61L880.02 1130.50L880.27 1126.54L880.52 1132.26L880.78 1130.85L881.03 1128.91L881.28 1128.78L881.54 1132.72L881.79 1130.38L882.05 1131.14L882.30 1132.97L882.55 1124.64L882.81 1136.96L883.06 1132.98L883.32 1130.30L883.57 1132.19L883.82 1134.42L884.08 1127.73L884.33 1132.38L884.58 1130.27L884.84 1125.86L885.09 1132.19L885.35 1128.50L885.60 1133.73L885.86 1130.37L886.12 1133.07L886.38 1133.42L886.64 1124.90L886.90 1137.81L887.16 1126.28L887.42 1128.56L887.68 1127.36L887.94 1125.35L888.20 1126.84L888.46 1120.84L888.72 1123.69L888.98 1127.45L889.24 1124.61L889.50 1128.02L889.76 1133.45L890.02 1122.58L890.28 1119.09L890.54 1124.29L890.80 1128.47L891.05 1123.51L891.31 1124.44L891.56 1122.10L891.82 1114.30L892.07 1124.53L892.33 1115.37L892.58 1122.16L892.84 1121.86L893.09 1124.94L893.35 1118.76L893.60 1112.74L893.85 1119.43L894.11 1120.71L894.36 1117.73L894.62 1116.23L894.87 1115.54L895.13 1121.46L895.38 1120.29L895.64 1122.97L895.89 1118.35L896.15 1119.43L896.40 1118.88L896.65 1118.52L896.91 1114.90L897.16 1115.89L897.42 1119.65L897.67 1113.28L897.93 1112.03L898.18 1111.43L898.44 1117.35L898.69 1113.26L898.95 1113.78L899.20 1115.09L899.46 1109.29L899.72 1113.94L899.98 1112.68L900.23 1111.85L900.49 1113.30L900.75 1115.26L901.01 1110.48L901.27 1112.43L901.52 1112.52L901.78 1111.27L902.04 1115.67L902.30 1110.64L902.56 1109.44L902.82 1098.67L903.08 1108.63L903.33 1118.22L903.59 1113.88L903.85 1117.72L904.11 1110.08L904.37 1112.58L904.62 1107.80L904.88 1103.84L905.14 1110.85L905.40 1097.85L905.66 1109.66L905.92 1111.43L906.19 1099.52L906.45 1110.53L906.71 1102.75L906.98 1106.64L907.24 1108.58L907.50 1109.12L907.76 1109.93L908.02 1110.68L908.29 1105.13L908.55 1105.20L908.81 1102.07L909.08 1111.48L909.34 1106.44L909.60 1099.77L909.86 1106.69L910.12 1099.48L910.38 1103.58L910.64 1102.60L910.90 1108.00L911.16 1094.42L911.42 1098.83L911.67 1098.35L911.93 1097.55L912.19 1101.74L912.45 1097.18L912.71 1102.31L912.97 1096.46L913.23 1089.63L913.49 1100.23L913.75 1098.81L914.00 1098.74L914.25 1092.01L914.50 1101.84L914.75 1096.22L915.00 1100.60L915.25 1085.27L915.50 1096.17L915.75 1093.20L916.00 1096.04L916.25 1102.70L916.50 1090.23L916.75 1091.72L917.00 1088.54L917.25 1093.65L917.50 1091.52L917.75 1089.72L918.00 1095.22L918.25 1096.23L918.50 1090.51L918.75 1093.10L919.00 1090.13L919.25 1096.31L919.50 1089.04L919.75 1094.07L920.00 1088.50L920.25 1090.95L920.50 1092.33L920.75 1090.02L921.01 1090.16L921.26 1086.51L921.51 1088.39L921.76 1086.05L922.01 1085.05L922.26 1091.12L922.52 1089.35L922.77 1089.69L923.02 1085.44L923.27 1080.04L923.52 1083.31L923.77 1087.64L924.02 1087.32L924.28 1085.90L924.53 1091.00L924.78 1091.92L925.03 1080.19L925.28 1085.60L925.53 1091.77L925.78 1082.47L926.04 1084.82L926.29 1086.41L926.54 1090.88L926.79 1082.84L927.04 1088.70L927.29 1084.42L927.55 1086.37L927.80 1087.07L928.05 1088.77L928.30 1086.73L928.55 1087.10L928.81 1090.28L929.06 1085.94L929.32 1089.98L929.57 1081.99L929.83 1085.91L930.08 1081.31L930.34 1083.86L930.59 1090.58L930.85 1082.93L931.10 1097.03L931.35 1084.85L931.61 1088.08L931.86 1081.01L932.12 1085.86L932.37 1085.86L932.63 1078.38L932.88 1086.71L933.14 1087.22L933.39 1080.56L933.65 1086.97L933.90 1079.56L934.15 1085.66L934.41 1085.28L934.66 1081.73L934.92 1084.68L935.17 1079.18L935.43 1080.57L935.68 1077.12L935.94 1081.69L936.19 1077.37L936.45 1081.27L936.70 1083.41L936.95 1078.61L937.20 1086.73L937.46 1085.02L937.71 1075.42L937.96 1075.04L938.21 1080.13L938.46 1072.29L938.72 1082.56L938.97 1081.35L939.22 1079.56L939.47 1076.29L939.72 1085.44L939.98 1079.38L940.23 1077.64L940.48 1075.98L940.73 1073.46L940.98 1079.81L941.24 1083.72L941.49 1077.66L941.74 1077.24L941.99 1079.04L942.24 1079.78L942.50 1072.94L942.75 1080.78L943.00 1076.20L943.25 1086.20L943.50 1079.44L943.75 1077.59L944.00 1071.30L944.25 1081.25L944.50 1073.24L944.75 1084.08L945.00 1073.50L945.25 1077.18L945.50 1081.65L945.75 1076.96L946.00 1081.24L946.25 1080.59L946.50 1078.83L946.75 1074.56L947.00 1073.09L947.25 1077.10L947.50 1082.89L947.75 1079.04L948.00 1075.28L948.25 1075.32L948.50 1076.49L948.75 1076.59L949.00 1068.62L949.25 1076.28L949.50 1077.04L949.75 1074.54L950.00 1072.43L950.25 1077.97L950.50 1075.06L950.75 1065.76L951.00 1068.45L951.25 1076.22L951.50 1073.83L951.75 1073.39L952.00 1072.20L952.25 1076.17L952.50 1073.08L952.75 1075.52L953.00 1069.66L953.25 1075.06L953.50 1069.41L953.75 1078.08L954.00 1068.06L954.25 1075.57L954.50 1075.13L954.75 1066.95L955.00 1074.62L955.25 1068.31L955.50 1071.98L955.75 1073.91L956.00 1068.65L956.25 1073.23L956.50 1063.49L956.75 1067.83L957.00 1072.52L957.25 1063.07L957.50 1070.22L957.75 1074.57L958.00 1072.65L958.25 1070.43L958.50 1066.47L958.75 1066.33L959.00 1068.06L959.26 1065.99L959.51 1073.19L959.76 1067.80L960.01 1066.37L960.26 1071.61L960.51 1075.56L960.77 1071.19L961.02 1073.49L961.27 1072.73L961.52 1064.13L961.77 1074.00L962.02 1069.66L962.28 1077.48L962.53 1072.65L962.78 1070.43L963.03 1073.51L963.28 1067.53L963.53 1073.35L963.79 1070.18L964.04 1070.82L964.29 1069.35L964.54 1071.07L964.79 1075.00L965.04 1068.18L965.30 1073.34L965.55 1070.72L965.80 1065.07L966.05 1070.47L966.31 1061.85L966.56 1066.74L966.82 1066.81L967.07 1072.25L967.33 1064.44L967.58 1068.49L967.84 1065.94L968.09 1071.71L968.35 1071.44L968.60 1073.07L968.85 1073.84L969.11 1065.52L969.36 1069.42L969.62 1068.23L969.87 1072.16L970.13 1066.03L970.38 1067.04L970.64 1068.00L970.89 1067.17L971.15 1069.73L971.40 1066.22L971.65 1066.95L971.91 1071.59L972.16 1068.00L972.42 1069.40L972.67 1067.13L972.93 1068.64L973.18 1067.57L973.44 1062.98L973.69 1071.97L973.95 1063.80L974.20 1070.28L974.45 1070.37L974.70 1066.16L974.95 1069.03L975.21 1071.84L975.46 1077.68L975.71 1066.86L975.96 1066.23L976.21 1060.21L976.46 1066.28L976.71 1069.57L976.96 1072.03L977.22 1075.02L977.47 1072.29L977.72 1065.69L977.97 1059.81L978.22 1070.79L978.47 1065.14L978.72 1065.38L978.98 1063.98L979.23 1066.99L979.48 1068.10L979.73 1070.15L979.98 1067.11L980.23 1071.80L980.48 1067.91L980.74 1071.59L980.99 1069.38L981.24 1073.84L981.49 1068.86L981.74 1071.24L981.99 1070.09L982.24 1066.50L982.49 1066.32L982.75 1074.96L983.00 1069.80L983.25 1069.07L983.50 1073.57L983.75 1078.03L984.01 1071.85L984.26 1072.94L984.52 1069.02L984.77 1068.60L985.02 1068.92L985.28 1071.89L985.53 1068.32L985.79 1067.22L986.04 1060.57L986.29 1072.02L986.55 1073.38L986.80 1069.59L987.06 1075.51L987.31 1070.72L987.56 1068.73L987.82 1069.49L988.07 1063.09L988.33 1062.82L988.58 1061.15L988.84 1072.24L989.09 1070.92L989.34 1066.71L989.60 1064.87L989.85 1067.99L990.11 1063.03L990.36 1067.62L990.61 1060.02L990.87 1077.12L991.12 1059.62L991.38 1066.71L991.63 1067.32L991.88 1061.79L992.14 1068.71L992.39 1068.77L992.65 1060.21L992.90 1062.16L993.15 1059.87L993.40 1061.87L993.66 1056.60L993.91 1062.68L994.16 1063.76L994.41 1061.77L994.66 1056.60L994.92 1061.37L995.17 1057.26L995.42 1062.49L995.67 1055.85L995.92 1056.50L996.18 1058.48L996.43 1059.78L996.68 1069.32L996.93 1053.66L997.18 1056.02L997.44 1052.06L997.69 1055.53L997.94 1052.14L998.19 1054.53L998.44 1058.77L998.70 1050.25L998.95 1048.46L999.20 1053.44L999.46 1050.21L999.72 1048.38L999.98 1050.97L1000.23 1058.86L1000.49 1046.34L1000.75 1050.87L1001.01 1050.51L1001.27 1050.45L1001.52 1048.04L1001.78 1051.01L1002.04 1045.93L1002.30 1047.91L1002.56 1045.98L1002.82 1054.29L1003.08 1047.18L1003.33 1050.88L1003.59 1052.36L1003.85 1054.15L1004.11 1057.56L1004.37 1044.74L1004.62 1055.66L1004.88 1045.86L1005.14 1055.81L1005.40 1051.10L1005.65 1047.44L1005.90 1048.59L1006.16 1047.90L1006.41 1050.89L1006.66 1046.12L1006.91 1041.58L1007.16 1047.91L1007.42 1043.85L1007.67 1043.78L1007.92 1047.37L1008.17 1040.43L1008.42 1045.67L1008.68 1046.57L1008.93 1046.95L1009.18 1043.06L1009.43 1041.96L1009.68 1044.67L1009.94 1041.11L1010.19 1043.12L1010.44 1045.58L1010.69 1044.18L1010.94 1040.89L1011.20 1042.39L1011.45 1039.78L1011.70 1042.79L1011.95 1045.08L1012.20 1038.93L1012.45 1038.41L1012.71 1039.12L1012.96 1042.08L1013.21 1044.31L1013.46 1042.52L1013.71 1044.74L1013.96 1041.54L1014.22 1041.19L1014.47 1043.89L1014.72 1042.38L1014.97 1041.45L1015.22 1043.62L1015.47 1041.27L1015.72 1040.40L1015.98 1038.82L1016.23 1039.26L1016.48 1050.36L1016.73 1043.65L1016.98 1045.50L1017.23 1040.65L1017.48 1040.52L1017.74 1039.87L1017.99 1047.05L1018.24 1038.25L1018.49 1039.44L1018.74 1044.27L1018.99 1040.56L1019.25 1045.10L1019.50 1045.50L1019.75 1038.57L1020.00 1042.59L1020.25 1044.10L1020.50 1046.70L1020.75 1045.39L1021.01 1045.06L1021.26 1032.46L1021.51 1036.85L1021.76 1039.06L1022.01 1040.60L1022.26 1042.25L1022.52 1038.24L1022.77 1043.37L1023.02 1036.07L1023.27 1036.80L1023.52 1041.14L1023.77 1041.25L1024.02 1044.72L1024.28 1038.84L1024.53 1040.62L1024.78 1050.75L1025.03 1039.88L1025.28 1036.17L1025.53 1039.45L1025.78 1039.39L1026.04 1038.30L1026.29 1039.00L1026.54 1038.66L1026.79 1036.59L1027.04 1033.42L1027.29 1046.29L1027.55 1043.42L1027.80 1037.15L1028.05 1034.52L1028.30 1039.88L1028.55 1034.27L1028.81 1033.33L1029.06 1034.24L1029.32 1031.84L1029.57 1037.75L1029.83 1033.93L1030.08 1033.39L1030.34 1029.67L1030.59 1028.45L1030.85 1034.43L1031.10 1036.17L1031.35 1038.60L1031.61 1033.26L1031.86 1034.02L1032.12 1030.10L1032.37 1028.37L1032.63 1038.44L1032.88 1031.85L1033.14 1035.88L1033.39 1026.39L1033.65 1028.01L1033.90 1032.83L1034.15 1032.73L1034.41 1030.52L1034.66 1029.34L1034.92 1026.42L1035.17 1025.96L1035.43 1027.48L1035.68 1022.19L1035.94 1032.86L1036.19 1029.70L1036.45 1029.93L1036.70 1028.48L1036.95 1017.21L1037.20 1019.53L1037.45 1022.60L1037.71 1024.04L1037.96 1025.77L1038.21 1028.47L1038.46 1020.33L1038.71 1030.39L1038.96 1030.55L1039.22 1030.81L1039.47 1018.22L1039.72 1021.52L1039.97 1023.31L1040.22 1023.77L1040.47 1024.27L1040.72 1025.85L1040.98 1031.84L1041.23 1023.80L1041.48 1023.06L1041.73 1020.87L1041.98 1023.42L1042.23 1022.32L1042.48 1026.84L1042.74 1018.73L1042.99 1023.81L1043.24 1019.08L1043.49 1021.10L1043.74 1016.64L1043.99 1019.91L1044.25 1023.16L1044.50 1025.98L1044.75 1025.33L1045.00 1022.82L1045.25 1021.52L1045.50 1018.85L1045.75 1019.84L1046.01 1021.72L1046.26 1020.48L1046.51 1016.74L1046.76 1020.92L1047.01 1015.41L1047.26 1022.58L1047.52 1025.52L1047.77 1018.02L1048.02 1017.89L1048.27 1022.57L1048.52 1028.03L1048.77 1017.07L1049.02 1016.53L1049.28 1015.96L1049.53 1020.51L1049.78 1012.92L1050.03 1016.59L1050.28 1017.60L1050.53 1019.58L1050.78 1014.58L1051.04 1020.13L1051.29 1012.08L1051.54 1017.63L1051.79 1026.81L1052.04 1020.70L1052.29 1022.84L1052.55 1017.96L1052.80 1023.07L1053.05 1016.97L1053.30 1020.45L1053.55 1022.98L1053.80 1019.85L1054.06 1010.67L1054.31 1017.02L1054.56 1017.44L1054.81 1016.45L1055.06 1015.25L1055.32 1011.96L1055.57 1018.25L1055.82 1014.60L1056.07 1016.80L1056.32 1018.15L1056.58 1016.45L1056.83 1012.08L1057.08 1012.23L1057.33 1011.25L1057.58 1012.32L1057.84 1017.92L1058.09 1013.76L1058.34 1011.95L1058.59 1014.33L1058.84 1011.21L1059.10 1009.50L1059.35 1006.23L1059.60 1011.59L1059.85 1008.82L1060.10 1012.82L1060.35 1012.80L1060.61 1011.36L1060.86 1007.14L1061.11 1000.52L1061.36 1003.56L1061.61 1011.81L1061.86 1009.67L1062.12 997.34L1062.37 1006.64L1062.62 1001.12L1062.87 1007.26L1063.12 1005.61L1063.37 1001.41L1063.62 1003.70L1063.88 1006.78L1064.13 1003.69L1064.38 999.71L1064.63 1004.61L1064.88 1002.05L1065.13 999.93L1065.38 995.84L1065.64 1003.66L1065.89 1004.82L1066.14 999.89L1066.39 1005.55L1066.64 1000.32L1066.89 999.82L1067.15 998.12L1067.40 1002.39L1067.65 1002.74L1067.90 1001.67L1068.16 997.27L1068.43 999.46L1068.69 992.37L1068.95 995.62L1069.21 1001.42L1069.47 994.15L1069.74 1001.97L1070.00 996.51L1070.26 989.26L1070.52 993.97L1070.77 985.48L1071.03 990.65L1071.29 988.46L1071.55 992.64L1071.80 993.93L1072.06 994.04L1072.32 993.80L1072.58 997.26L1072.83 988.68L1073.09 989.53L1073.35 997.84L1073.61 992.18L1073.87 993.79L1074.12 991.44L1074.38 991.14L1074.64 996.67L1074.90 992.03L1075.15 989.17L1075.41 987.82L1075.67 983.17L1075.93 988.69L1076.18 990.98L1076.44 989.99L1076.70 990.45L1076.95 991.10L1077.21 997.58L1077.46 985.79L1077.72 982.05L1077.97 987.87L1078.22 987.51L1078.48 993.85L1078.73 982.69L1078.98 985.24L1079.24 985.88L1079.49 980.84L1079.75 987.35L1080.00 984.97L1080.25 985.71L1080.51 985.70L1080.76 985.20L1081.02 987.09L1081.27 990.31L1081.52 973.01L1081.78 987.95L1082.03 980.23L1082.28 985.68L1082.54 982.07L1082.79 978.12L1083.05 980.43L1083.30 986.88L1083.55 982.55L1083.80 975.59L1084.05 972.95L1084.30 980.68L1084.55 976.49L1084.80 979.73L1085.05 974.78L1085.30 977.46L1085.55 980.41L1085.80 973.89L1086.05 979.55L1086.30 978.48L1086.55 975.81L1086.80 977.44L1087.05 974.30L1087.30 977.47L1087.55 972.13L1087.80 978.68L1088.05 976.65L1088.30 967.97L1088.55 972.48L1088.80 968.47L1089.05 970.64L1089.30 970.32L1089.55 967.97L1089.80 971.35L1090.05 971.79L1090.30 967.88L1090.55 964.20L1090.80 972.77L1091.05 967.12L1091.30 966.24L1091.55 968.84L1091.80 966.46L1092.05 965.52L1092.30 969.46L1092.55 971.41L1092.80 970.13L1093.05 961.87L1093.30 965.62L1093.55 961.53L1093.81 957.61L1094.06 968.04L1094.32 958.73L1094.57 968.54L1094.83 958.79L1095.08 967.42L1095.34 966.96L1095.59 961.17L1095.85 959.53L1096.10 959.05L1096.35 964.51L1096.61 963.64L1096.86 957.28L1097.12 964.28L1097.37 962.34L1097.63 955.61L1097.88 961.63L1098.14 964.84L1098.39 963.99L1098.65 957.77L1098.90 958.50L1099.15 957.48L1099.41 961.00L1099.66 961.15L1099.92 957.93L1100.17 963.22L1100.43 957.50L1100.68 958.26L1100.94 958.09L1101.19 957.66L1101.45 956.50L1101.70 960.77L1101.95 954.38L1102.20 953.79L1102.45 946.76L1102.70 953.22L1102.95 959.04L1103.20 956.75L1103.45 957.13L1103.70 953.50L1103.95 950.23L1104.20 957.07L1104.45 951.90L1104.70 955.16L1104.95 952.08L1105.20 946.19L1105.45 945.65L1105.70 954.95L1105.95 949.68L1106.20 952.93L1106.45 951.80L1106.70 949.85L1106.95 948.64L1107.20 945.50L1107.45 948.71L1107.70 951.11L1107.95 952.06L1108.20 944.10L1108.45 945.76L1108.70 946.34L1108.95 947.96L1109.20 945.77L1109.45 944.46L1109.70 945.17L1109.95 943.75L1110.20 945.90L1110.45 943.23L1110.70 946.77L1110.95 945.76L1111.20 944.91L1111.45 939.39L1111.70 952.37L1111.95 941.13L1112.20 946.82L1112.45 943.93L1112.70 944.81L1112.95 936.08L1113.20 942.25L1113.45 942.97L1113.70 943.97L1113.95 941.36L1114.20 940.37L1114.45 941.37L1114.70 939.38L1114.95 938.43L1115.20 940.03L1115.45 940.86L1115.70 935.65L1115.95 940.45L1116.20 941.21L1116.45 941.95L1116.70 939.82L1116.95 945.58L1117.20 942.57L1117.45 937.31L1117.70 940.37L1117.95 939.65L1118.20 936.89L1118.45 935.97L1118.70 939.47L1118.95 939.80L1119.20 935.53L1119.45 937.41L1119.70 939.63L1119.95 939.02L1120.20 941.34L1120.45 937.78L1120.70 929.24L1120.95 937.43L1121.20 938.09L1121.45 932.73L1121.70 933.83L1121.96 935.94L1122.22 942.08L1122.48 932.56L1122.74 943.36L1123.00 939.41L1123.30 945.26L1123.55 943.54L1123.80 934.29L1124.05 932.95L1124.30 929.73L1124.55 931.72L1124.80 928.07L1125.05 931.35L1125.30 924.96L1125.55 925.84L1125.80 928.83L1126.06 923.34L1126.31 925.58L1126.57 924.71L1126.83 923.35L1127.08 923.56L1127.34 920.53L1127.60 925.25L1127.85 920.57L1128.11 923.70L1128.37 920.24L1128.62 924.97L1128.88 916.15L1129.13 921.01L1129.39 919.07L1129.65 921.64L1129.90 920.43L1130.16 914.22L1130.42 919.34L1130.67 917.70L1130.93 919.64L1131.19 916.06L1131.44 908.64L1131.70 912.26L1131.96 916.95L1132.21 912.90L1132.47 913.73L1132.72 910.91L1132.98 914.87L1133.24 911.08L1133.49 912.44L1133.75 907.20L1134.01 910.08L1134.26 904.85L1134.52 906.10L1134.78 904.94L1135.03 905.30L1135.29 906.80L1135.54 901.61L1135.80 900.72L1136.05 904.23L1136.30 901.69L1136.55 896.83L1136.80 898.42L1137.05 896.25L1137.30 890.91L1137.55 896.32L1137.80 894.83L1138.05 895.03L1138.30 891.08L1138.55 892.58L1138.80 890.81L1139.05 889.30L1139.30 886.38L1139.55 891.68L1139.80 888.31L1140.05 888.35L1140.30 883.76L1140.55 886.35L1140.80 884.15L1141.05 882.43L1141.30 881.40L1141.55 883.04L1141.80 879.02L1142.05 878.28L1142.30 876.78L1142.55 882.72L1142.80 876.28L1143.05 877.38L1143.30 874.16L1143.55 875.06L1143.80 872.95L1144.05 871.95L1144.30 870.17L1144.55 871.18L1144.80 867.91L1145.05 870.88L1145.30 866.07L1145.55 867.28L1145.80 866.09L1146.05 865.06L1146.30 864.25L1146.55 865.12L1146.80 860.77L1147.05 859.32L1147.30 858.43L1147.55 860.09L1147.80 858.86L1148.05 858.59L1148.30 855.99L1148.55 855.02L1148.80 858.72L1149.05 853.16L1149.30 857.62L1149.55 854.44L1149.80 851.63L1150.05 853.06L1150.30 853.76L1150.55 854.54L1150.80 848.71L1151.05 853.92L1151.30 850.56L1151.55 847.17L1151.80 847.74L1152.05 849.79L1152.30 847.98L1152.55 846.28L1152.80 846.96L1153.05 846.84L1153.30 845.83L1153.55 846.75L1153.80 841.48L1154.05 847.50L1154.30 841.46L1154.55 841.01L1154.80 839.16L1155.05 839.12L1155.30 838.05L1155.55 838.11L1155.80 838.45L1156.05 838.20L1156.30 837.44L1156.55 835.20L1156.80 838.09L1157.05 833.39L1157.30 834.34L1157.55 835.06L1157.80 831.98L1158.05 831.01L1158.30 832.64L1158.56 830.63L1158.82 830.27L1159.07 830.78L1159.33 827.96L1159.59 830.47L1159.85 829.33L1160.10 828.33L1160.36 829.79L1160.62 829.91L1160.88 829.49L1161.13 828.22L1161.39 828.25L1161.65 826.83L1161.91 826.33L1162.17 828.53L1162.42 827.65L1162.68 826.41L1162.94 825.68L1163.20 828.20L1163.45 825.25L1163.71 829.02L1163.97 829.29L1164.23 827.46L1164.48 824.81L1164.74 826.01L1165.00 826.11L1165.25 823.92L1165.50 825.20L1165.76 823.15L1166.01 823.50L1166.26 820.23L1166.51 820.49L1166.77 819.56L1167.02 817.52L1167.27 818.08L1167.52 819.15L1167.77 816.52L1168.03 816.13L1168.28 813.94L1168.53 810.44L1168.78 812.92L1169.03 811.55L1169.29 812.07L1169.54 809.18L1169.79 809.46L1170.04 807.52L1170.30 806.49L1170.55 808.06L1170.80 804.53L1171.06 803.39L1171.33 805.41L1171.59 804.40L1171.85 804.85L1172.11 803.65L1172.38 803.33L1172.64 802.45L1172.90 799.20L1173.16 798.71L1173.42 801.43L1173.69 798.61L1173.95 801.50L1174.21 797.96L1174.47 798.76L1174.74 797.94L1175.00 799.34L1175.25 797.27L1175.50 794.34L1175.75 794.40L1176.00 792.21L1176.25 788.76L1176.50 786.87L1176.75 788.72L1177.00 785.76L1177.25 786.02L1177.50 783.39L1177.77 783.35L1178.03 781.12L1178.30 778.95L1178.57 781.90L1178.83 779.84L1179.10 776.73L1179.37 776.83L1179.63 776.73L1179.90 774.66L1180.17 774.69L1180.43 770.96L1180.70 772.53L1180.96 772.05L1181.23 769.49L1181.49 769.84L1181.75 768.54L1182.02 767.50L1182.28 763.32L1182.55 765.44L1182.81 764.66L1183.07 762.12L1183.34 760.47L1183.60 760.29L1183.86 760.83L1184.12 759.93L1184.37 756.85L1184.63 756.58L1184.89 757.31L1185.15 757.20L1185.41 755.85L1185.66 757.22L1185.92 756.06L1186.18 758.33L1186.44 753.87L1186.69 753.26L1186.95 754.38L1187.21 754.42L1187.47 753.88L1187.73 753.35L1187.98 751.95L1188.24 751.56L1188.50 752.72L1188.76 750.37L1189.03 748.50L1189.29 749.04L1189.55 746.79L1189.82 746.85L1190.08 746.64L1190.35 745.26L1190.61 748.33L1190.87 742.81L1191.14 743.68L1191.40 743.01L1191.66 742.40L1191.93 741.60L1192.19 739.42L1192.45 740.43L1192.72 737.32L1192.98 738.34L1193.25 734.87L1193.51 733.79L1193.77 733.31L1194.04 732.98L1194.30 732.01L1194.56 730.13L1194.82 730.98L1195.08 732.59L1195.34 727.18L1195.60 729.19L1195.86 729.38L1196.12 728.52L1196.38 727.49L1196.64 726.41L1196.90 726.20L1197.16 724.62L1197.42 726.01L1197.68 724.74L1197.94 724.78L1198.20 722.57L1198.45 722.47L1198.71 722.19L1198.96 719.61L1199.21 720.23L1199.46 720.80L1199.72 718.84L1199.97 718.22L1200.22 716.59L1200.47 717.10L1200.73 716.46L1200.98 717.28L1201.23 712.32L1201.48 714.19L1201.74 713.60L1201.99 713.99L1202.24 710.88L1202.49 711.54L1202.75 709.43L1203.00 709.58L1203.26 709.54L1203.52 707.02L1203.78 706.62L1204.04 707.86L1204.30 706.34L1204.56 705.72L1204.82 706.37L1205.08 705.99L1205.34 704.74L1205.60 705.01L1205.86 704.93L1206.12 704.23L1206.38 702.19L1206.64 702.23L1206.90 703.93L1207.16 702.44L1207.43 702.17L1207.69 702.37L1207.95 699.90L1208.22 700.93L1208.48 699.34L1208.75 697.65L1209.01 699.59L1209.27 696.50L1209.54 698.11L1209.80 697.51L1210.06 697.75L1210.32 698.96L1210.57 698.82L1210.83 698.23L1211.09 695.58L1211.35 697.22L1211.61 696.25L1211.86 698.99L1212.12 696.14L1212.38 696.88L1212.64 695.52L1212.89 696.30L1213.15 696.74L1213.41 694.89L1213.67 693.99L1213.93 696.27L1214.18 695.52L1214.44 694.69L1214.70 694.09L1214.95 695.15L1215.20 693.16L1215.46 694.17L1215.71 694.15L1215.96 693.37L1216.21 693.52L1216.47 694.25L1216.72 692.38L1216.97 692.94L1217.22 693.50L1217.47 691.79L1217.73 693.15L1217.98 692.59L1218.23 690.70L1218.48 692.05L1218.73 692.28L1218.99 691.63L1219.24 691.33L1219.49 691.08L1219.74 689.31L1220.00 690.80L1220.25 690.48L1220.50 688.98L1220.76 689.23L1221.02 689.30L1221.27 689.60L1221.53 689.53L1221.79 690.08L1222.05 688.25L1222.31 690.55L1222.56 689.39L1222.82 689.27L1223.08 690.77L1223.34 690.81L1223.59 690.40L1223.85 690.44L1224.11 691.69L1224.37 690.90L1224.63 690.45L1224.88 690.39L1225.14 689.54L1225.40 690.83L1225.66 689.16L1225.92 690.30L1226.18 689.72L1226.44 690.41L1226.70 688.86L1226.96 689.99L1227.22 688.62L1227.48 690.59L1227.74 687.16L1228.00 689.20L1228.26 688.15L1228.52 688.09L1228.78 687.27L1229.04 688.02L1229.30 688.71L1229.55 690.68L1229.81 689.68L1230.06 687.09L1230.31 689.55L1230.56 690.89L1230.82 687.75L1231.07 686.99L1231.32 688.74L1231.57 688.17L1231.83 691.46L1232.08 691.36L1232.33 691.66L1232.58 689.87L1232.84 690.51L1233.09 688.38L1233.34 691.33L1233.59 691.27L1233.85 691.48L1234.10 691.28L1234.36 693.20L1234.61 692.02L1234.87 689.75L1235.13 690.41L1235.38 690.70L1235.64 690.81L1235.90 691.44L1236.15 689.74L1236.41 691.62L1236.67 689.95L1236.92 688.80L1237.18 689.87L1237.43 688.23L1237.69 689.06L1237.95 687.89L1238.20 687.82L1238.46 687.76L1238.72 686.82L1238.97 686.64L1239.23 686.01L1239.49 686.36L1239.74 685.48L1240.00 686.56L1240.25 685.96L1240.50 685.00L1240.76 686.93L1241.01 687.96L1241.26 688.36L1241.51 688.27L1241.77 688.68L1242.02 690.50L1242.27 689.31L1242.52 689.89L1242.77 687.98L1243.03 690.58L1243.28 689.90L1243.53 690.78L1243.78 691.48L1244.03 691.06L1244.29 691.34L1244.54 690.54L1244.79 692.11L1245.04 691.25L1245.30 694.34L1245.55 693.64L1245.80 692.91L1246.06 695.88L1246.32 693.23L1246.58 694.85L1246.84 695.60L1247.10 696.59L1247.36 696.05L1247.62 698.18L1247.88 699.44L1248.14 699.56L1248.40 701.24L1248.66 701.76L1248.92 703.67L1249.18 702.67L1249.44 701.96L1249.70 703.89L1249.95 703.21L1250.20 703.70L1250.46 703.03L1250.71 703.57L1250.96 705.60L1251.21 706.15L1251.47 707.93L1251.72 706.74L1251.97 706.23L1252.22 707.72L1252.47 709.78L1252.73 708.66L1252.98 708.99L1253.23 710.82L1253.48 711.25L1253.73 711.41L1253.99 711.92L1254.24 712.13L1254.49 712.23L1254.74 712.56L1255.00 712.54L1255.25 711.57L1255.50 714.25L1255.76 713.33L1256.02 715.89L1256.28 715.78L1256.54 713.76L1256.80 716.09L1257.06 715.12L1257.32 715.93L1257.58 716.13L1257.84 716.42L1258.10 715.58L1258.36 713.90L1258.62 716.23L1258.88 714.84L1259.14 715.79L1259.40 717.54L1259.66 715.46L1259.92 715.27L1260.17 712.50L1260.43 716.54L1260.69 716.11L1260.95 715.57L1261.21 715.37L1261.46 715.51L1261.72 715.06L1261.98 714.34L1262.24 713.63L1262.49 711.45L1262.75 712.12L1263.01 712.95L1263.27 713.10L1263.53 712.98L1263.78 712.30L1264.04 712.57L1264.30 712.81L1264.55 712.01L1264.81 711.54L1265.06 711.59L1265.31 712.71L1265.56 709.39L1265.82 711.33L1266.07 709.35L1266.32 709.60L1266.57 708.44L1266.83 709.58L1267.08 707.07L1267.33 707.09L1267.58 708.67L1267.84 707.96L1268.09 706.23L1268.34 706.77L1268.59 707.73L1268.85 704.36L1269.10 705.27L1269.35 705.42L1269.60 702.57L1269.85 702.82L1270.10 702.75L1270.35 700.64L1270.60 700.46L1270.85 700.24L1271.10 698.07L1271.36 697.90L1271.62 698.97L1271.88 697.53L1272.15 697.36L1272.41 697.23L1272.67 696.40L1272.93 696.69L1273.19 697.22L1273.45 695.49L1273.72 695.64L1273.98 695.11L1274.24 695.64L1274.50 692.86L1274.78 690.40L1275.06 684.65L1275.34 678.51L1275.62 673.22L1275.90 668.24L1276.17 663.53L1276.43 661.38L1276.70 657.59L1276.97 654.66L1277.23 652.30L1277.50 648.29L1277.77 644.05L1278.03 644.37L1278.30 637.22L1278.56 635.09L1278.82 630.74L1279.08 627.58L1279.35 622.96L1279.61 620.88L1279.87 616.26L1280.13 614.34L1280.39 609.86L1280.65 605.89L1280.92 603.31L1281.18 598.26L1281.44 595.95L1281.70 591.75L1281.96 593.61L1282.23 593.42L1282.49 591.56L1282.75 590.70L1283.02 589.45L1283.28 589.86L1283.55 589.37L1283.81 590.37L1284.07 589.18L1284.34 589.13L1284.60 589.49L1284.85 588.30L1285.11 587.83L1285.36 587.78L1285.61 588.59L1285.86 587.15L1286.12 588.15L1286.37 586.20L1286.62 587.78L1286.87 586.68L1287.13 585.99L1287.38 584.80L1287.63 585.25L1287.88 585.37L1288.14 585.38L1288.39 584.63L1288.64 585.06L1288.89 584.42L1289.15 583.18L1289.40 584.37L1289.67 583.53L1289.93 583.90L1290.20 582.72L1290.47 582.99L1290.73 583.99L1291.00 580.43L1291.40 600.20L1291.80 582.93L1292.05 582.79L1292.30 582.72L1292.55 582.31L1292.80 582.91L1293.05 582.12L1293.30 581.93L1293.56 583.95L1293.82 581.47L1294.07 583.50L1294.33 584.01L1294.59 582.36L1294.85 583.13L1295.11 583.16L1295.36 582.49L1295.62 583.11L1295.88 583.38L1296.14 582.33L1296.39 582.46L1296.65 580.92L1296.91 581.58L1297.17 582.80L1297.43 581.64L1297.68 581.44L1297.94 581.66L1298.20 580.72L1298.46 582.34L1298.72 582.50L1298.98 580.90L1299.24 581.82L1299.50 581.93L1299.76 582.31L1300.02 582.94L1300.28 583.57L1300.54 583.29L1300.80 583.20L1301.06 584.60L1301.32 583.72L1301.58 583.53L1301.84 584.08L1302.10 584.13L1302.35 584.30L1302.61 584.31L1302.86 585.12L1303.11 583.33L1303.36 582.83L1303.62 583.57L1303.87 582.87L1304.12 583.22L1304.37 583.01L1304.63 582.18L1304.88 581.21L1305.13 582.97L1305.38 582.82L1305.64 580.77L1305.89 582.21L1306.14 582.01L1306.39 581.56L1306.65 580.89L1306.90 581.25L1307.16 580.16L1307.42 580.73L1307.68 579.97L1307.95 580.08L1308.21 582.53L1308.47 581.56L1308.73 580.31L1308.99 580.33L1309.25 580.83L1309.52 581.27L1309.78 581.79L1310.04 580.47L1310.30 582.26L1310.56 581.80L1310.81 580.76L1311.07 580.75L1311.33 579.28L1311.59 578.86L1311.84 579.70L1312.10 579.03L1312.36 577.95L1312.61 577.26L1312.87 576.23L1313.13 577.41L1313.39 577.04L1313.64 575.91L1313.90 574.96L1314.16 574.33L1314.41 574.90L1314.67 572.79L1314.93 573.50L1315.19 572.14L1315.44 569.30L1315.70 569.38L1315.96 571.07L1316.22 570.75L1316.48 571.11L1316.74 572.42L1317.00 571.18L1317.26 572.13L1317.52 570.70L1317.78 571.85L1318.04 570.72L1318.30 570.81L1318.56 571.45L1318.82 571.19L1319.08 570.62L1319.34 570.58L1319.60 571.43L1319.85 571.79L1320.11 571.39L1320.36 569.96L1320.61 571.13L1320.86 570.13L1321.12 570.09L1321.37 568.68L1321.62 568.21L1321.87 568.74L1322.13 568.66L1322.38 568.08L1322.63 567.09L1322.88 568.01L1323.14 567.38L1323.39 566.45L1323.64 565.97L1323.89 565.35L1324.15 565.67L1324.40 564.60L1324.66 565.16L1324.92 565.52L1325.17 565.71L1325.43 565.77L1325.69 565.59L1325.95 566.99L1326.21 566.59L1326.46 566.77L1326.72 568.35L1326.98 565.74L1327.24 566.97L1327.49 568.05L1327.75 568.19L1328.01 568.15L1328.27 568.19L1328.53 570.05L1328.78 567.61L1329.04 567.66L1329.30 569.05L1329.55 568.73L1329.80 569.52L1330.06 570.24L1330.31 570.36L1330.56 568.53L1330.81 570.85L1331.06 571.63L1331.31 570.64L1331.57 571.45L1331.82 570.94L1332.07 572.95L1332.32 572.54L1332.57 572.45L1332.83 572.68L1333.08 572.76L1333.33 572.53L1333.58 574.01L1333.83 573.67L1334.09 574.56L1334.34 574.42L1334.59 575.10L1334.84 574.82L1335.09 574.34L1335.34 576.25L1335.60 576.18L1335.85 576.21L1336.10 577.68L1336.36 575.98L1336.63 577.16L1336.89 576.97L1337.15 578.46L1337.42 578.31L1337.68 577.43L1337.95 576.45L1338.21 577.54L1338.47 577.80L1338.74 577.85L1339.00 577.57L1339.26 577.74L1339.52 577.47L1339.77 576.22L1340.03 578.30L1340.29 576.98L1340.55 576.72L1340.81 576.81L1341.06 577.17L1341.32 577.51L1341.58 578.18L1341.84 577.72L1342.09 576.63L1342.35 575.60L1342.61 576.07L1342.87 576.91L1343.13 575.60L1343.38 575.62L1343.64 577.09L1343.90 574.86L1344.15 575.46L1344.40 574.70L1344.66 573.34L1344.91 574.64L1345.16 573.11L1345.41 572.94L1345.67 572.23L1345.92 571.92L1346.17 570.28L1346.42 570.15L1346.67 570.10L1346.93 569.73L1347.18 569.97L1347.43 567.31L1347.68 565.92L1347.93 564.97L1348.19 565.39L1348.44 565.81L1348.69 564.48L1348.94 564.25L1349.20 565.00L1349.45 562.45L1349.70 562.18L1349.96 559.59L1350.23 559.39L1350.49 559.17L1350.75 557.31L1351.02 554.89L1351.28 553.89L1351.55 553.54L1351.81 551.05L1352.07 550.62L1352.34 548.40L1352.60 547.71L1352.86 547.86L1353.12 547.12L1353.37 548.48L1353.63 548.64L1353.89 546.98L1354.15 548.22L1354.41 546.52L1354.66 547.63L1354.92 547.01L1355.18 546.81L1355.44 546.50L1355.69 547.32L1355.95 546.21L1356.21 546.12L1356.47 546.74L1356.73 546.85L1356.98 545.10L1357.24 546.84L1357.50 545.80L1357.76 544.52L1358.03 544.93L1358.29 543.19L1358.55 543.39L1358.82 543.85L1359.08 543.77L1359.35 543.20L1359.61 541.69L1359.87 540.67L1360.14 541.14L1360.40 542.23L1360.66 540.89L1360.92 540.89L1361.17 540.93L1361.43 541.09L1361.69 541.17L1361.95 539.71L1362.21 540.29L1362.46 541.69L1362.72 540.68L1362.98 538.64L1363.24 538.94L1363.49 538.52L1363.75 538.53L1364.01 538.86L1364.27 539.85L1364.53 538.21L1364.78 538.35L1365.04 538.01L1365.30 537.17L1365.56 537.58L1365.82 540.61L1366.08 539.00L1366.34 538.64L1366.60 538.76L1366.86 539.19L1367.12 540.15L1367.38 539.81L1367.64 540.53L1367.90 540.37L1368.16 540.47L1368.42 541.09L1368.68 542.23L1368.94 542.04L1369.20 541.92L1369.46 542.28L1369.72 542.04L1369.98 541.84L1370.24 544.16L1370.50 541.81L1370.76 542.04L1371.02 541.62L1371.28 542.53L1371.54 543.56L1371.80 543.50L1372.06 541.54L1372.32 543.80L1372.58 542.74L1372.84 543.11L1373.10 541.92L1373.35 543.16L1373.60 542.72L1373.85 542.80L1374.10 544.92L1374.35 544.03L1374.60 543.75L1375.00 564.27L1375.40 544.76L1375.65 544.15L1375.90 544.45L1376.15 545.56L1376.40 546.34L1376.65 545.95L1376.90 545.86L1377.16 545.86L1377.42 545.93L1377.67 545.07L1377.93 545.50L1378.19 550.09L1378.45 545.76L1378.71 544.04L1378.96 544.79L1379.22 543.84L1379.48 544.82L1379.74 542.82L1379.99 544.58L1380.25 543.64L1380.51 543.99L1380.77 542.51L1381.03 543.58L1381.28 543.71L1381.54 543.45L1381.80 543.01L1382.05 541.34L1382.30 543.78L1382.55 542.25L1382.81 542.21L1383.06 543.80L1383.31 542.97L1383.56 543.77L1383.81 543.20L1384.06 542.69L1384.32 543.65L1384.57 543.65L1384.82 541.54L1385.07 542.98L1385.32 542.81L1385.57 542.27L1385.83 543.35L1386.08 542.80L1386.33 542.92L1386.58 543.55L1386.83 542.70L1387.08 542.43L1387.34 544.34L1387.59 543.38L1387.84 542.85L1388.09 543.81L1388.34 543.60L1388.59 541.82L1388.85 542.01L1389.10 544.42L1389.35 542.11L1389.60 543.33L1389.85 543.01L1390.10 542.27L1390.36 540.95L1390.61 541.91L1390.86 540.75L1391.11 541.92L1391.37 540.67L1391.62 541.52L1391.87 540.93L1392.12 539.52L1392.37 538.62L1392.63 539.36L1392.88 538.39L1393.13 536.34L1393.38 538.12L1393.63 537.92L1393.89 537.33L1394.14 537.95L1394.39 537.87L1394.64 535.92L1394.90 535.53L1395.15 534.98L1395.40 535.93L1395.66 535.55L1395.92 534.41L1396.17 535.91L1396.43 535.06L1396.69 533.89L1396.95 534.40L1397.21 534.90L1397.46 534.00L1397.72 534.05L1397.98 534.50L1398.24 532.80L1398.49 534.18L1398.75 533.38L1399.01 533.78L1399.27 533.08L1399.53 533.11L1399.78 532.29L1400.04 532.33L1400.30 531.00L1400.56 532.35L1400.82 533.49L1401.08 532.45L1401.34 534.59L1401.60 533.23L1401.86 534.58L1402.12 535.53L1402.38 534.12L1402.64 534.53L1402.90 535.92L1403.16 536.33L1403.42 536.72L1403.68 536.87L1403.94 536.82L1404.20 537.46L1404.45 537.71L1404.70 538.14L1404.96 538.37L1405.21 537.29L1405.46 536.09L1405.71 538.18L1405.97 538.70L1406.22 537.81L1406.47 539.69L1406.72 539.71L1406.97 538.96L1407.23 537.88L1407.48 539.46L1407.73 539.26L1407.98 537.01L1408.23 538.93L1408.49 539.14L1408.74 539.90L1408.99 538.72L1409.24 540.36L1409.50 540.13L1409.75 539.20L1410.00 541.12L1410.26 539.62L1410.53 539.12L1410.79 539.00L1411.05 538.42L1411.32 539.10L1411.58 538.60L1411.85 538.33L1412.11 537.95L1412.37 537.72L1412.64 537.80L1412.90 536.47L1413.16 537.47L1413.43 536.85L1413.69 537.27L1413.95 538.87L1414.22 539.78L1414.48 540.48L1414.75 540.94L1415.01 541.18L1415.27 540.06L1415.54 541.65L1415.80 541.62L1416.06 543.55L1416.32 542.24L1416.58 541.62L1416.84 541.90L1417.10 541.18L1417.36 540.13L1417.62 541.06L1417.88 541.24L1418.14 542.12L1418.40 541.16L1418.66 540.53L1418.92 540.75L1419.18 539.90L1419.44 541.60L1419.70 540.14L1419.96 539.08L1420.22 539.55L1420.47 540.81L1420.73 540.30L1420.99 537.18L1421.25 538.17L1421.51 538.34L1421.76 539.13L1422.02 538.11L1422.28 539.68L1422.54 538.33L1422.79 538.89L1423.05 538.84L1423.31 537.89L1423.57 537.82L1423.83 538.52L1424.08 538.00L1424.34 538.62L1424.60 536.89L1424.86 536.99L1425.12 536.86L1425.38 536.57L1425.64 536.94L1425.90 537.07L1426.16 538.13L1426.42 537.36L1426.68 536.16L1426.94 535.53L1427.20 536.68L1427.46 537.49L1427.72 538.04L1427.98 535.98L1428.24 536.16L1428.50 537.29L1428.75 537.23L1429.00 536.84L1429.25 535.81L1429.50 536.60L1429.75 534.29L1430.00 535.78L1430.27 533.47L1430.53 532.90L1430.80 528.75L1431.07 526.44L1431.33 524.33L1431.60 524.04L1431.87 520.11L1432.13 518.29L1432.40 516.21L1432.65 515.85L1432.90 513.84L1433.15 512.70L1433.40 511.34L1433.65 511.16L1433.90 508.20L1434.15 508.28L1434.40 505.91L1434.65 504.67L1434.90 503.32L1435.17 502.80L1435.44 502.37L1435.71 501.85L1435.99 500.79L1436.26 498.99L1436.53 499.49L1436.80 497.95L1437.08 499.75L1437.36 501.17L1437.64 503.72L1437.91 504.14L1438.19 507.40L1438.47 509.55L1438.75 512.45L1439.02 509.15L1439.29 506.15L1439.55 505.11L1439.82 502.62L1440.09 502.43L1440.36 498.60L1440.63 496.65L1440.90 495.80L1441.16 492.80L1441.43 491.07L1441.70 489.12L1441.95 490.00L1442.21 488.56L1442.46 491.44L1442.71 491.19L1442.96 490.87L1443.22 491.53L1443.47 490.84L1443.72 493.55L1443.98 492.84L1444.23 495.01L1444.48 493.86L1444.74 495.23L1444.99 495.29L1445.24 496.36L1445.49 496.16L1445.75 497.42L1446.00 497.36L1446.26 496.86L1446.52 495.74L1446.78 495.15L1447.04 494.31L1447.29 492.15L1447.55 489.48L1447.81 490.96L1448.07 490.30L1448.33 489.04L1448.59 488.25L1448.85 487.89L1449.11 485.79L1449.36 483.53L1449.62 485.03L1449.88 481.44L1450.14 480.24L1450.40 480.81L1450.66 481.24L1450.93 482.29L1451.19 483.38L1451.45 483.66L1451.72 483.77L1451.98 486.26L1452.25 486.13L1452.51 487.38L1452.77 487.71L1453.04 488.25L1453.30 489.01L1453.55 488.76L1453.80 486.98L1454.05 485.41L1454.30 485.03L1454.55 482.04L1454.80 481.33L1455.05 479.99L1455.30 480.27L1455.55 481.52L1455.80 481.63L1456.06 482.66L1456.31 482.57L1456.56 482.31L1456.81 483.37L1457.07 484.67L1457.32 485.18L1457.57 487.30L1457.82 489.10L1458.07 488.89L1458.33 490.39L1458.58 491.22L1458.83 491.24L1459.08 492.06L1459.33 492.22L1459.59 493.14L1459.84 493.91L1460.09 495.62L1460.34 495.46L1460.60 498.01L1460.85 497.48L1461.10 499.15L1461.36 500.09L1461.62 504.57L1461.88 505.38L1462.15 506.95L1462.41 509.41L1462.67 510.47L1462.93 513.38L1463.19 515.33L1463.45 518.03L1463.72 519.83L1463.98 521.77L1464.24 523.64L1464.50 524.89L1464.77 527.69L1465.03 528.28L1465.30 530.90L1465.57 532.40L1465.83 534.18L1466.10 534.39L1466.37 533.93L1466.63 537.27L1466.90 539.50L1467.15 538.56L1467.40 539.94L1467.65 539.35L1467.90 539.20L1468.15 539.94L1468.40 540.52L1468.65 540.08L1468.90 539.36L1469.15 539.80L1469.40 540.25L1469.65 539.36L1469.90 539.77L1470.16 541.12L1470.42 543.60L1470.68 544.38L1470.95 544.82L1471.21 545.39L1471.47 546.71L1471.73 547.67L1471.99 549.83L1472.25 550.53L1472.52 552.25L1472.78 552.03L1473.04 554.58L1473.30 555.10L1473.55 555.31L1473.80 556.56L1474.06 558.23L1474.31 559.17L1474.56 558.37L1474.81 558.90L1475.06 560.75L1475.32 561.17L1475.57 561.04L1475.82 562.45L1476.07 562.67L1476.32 564.06L1476.58 564.88L1476.83 565.68L1477.08 567.67L1477.33 566.79L1477.58 567.70L1477.84 568.09L1478.09 569.08L1478.34 569.92L1478.59 570.17L1478.84 570.97L1479.10 570.85L1479.35 570.87L1479.60 573.93L1479.85 574.03L1480.11 573.49L1480.36 571.64L1480.61 571.35L1480.86 572.78L1481.12 569.99L1481.37 570.10L1481.62 570.72L1481.87 571.30L1482.13 569.29L1482.38 568.58L1482.63 568.72L1482.88 568.11L1483.14 568.82L1483.39 567.78L1483.64 566.14L1483.89 566.87L1484.15 565.88L1484.40 564.94L1484.66 564.21L1484.92 562.55L1485.17 559.45L1485.43 559.47L1485.69 557.80L1485.95 556.25L1486.21 554.58L1486.46 552.72L1486.72 551.41L1486.98 549.20L1487.24 547.27L1487.49 545.91L1487.75 544.22L1488.01 542.63L1488.27 539.05L1488.53 539.26L1488.78 536.33L1489.04 536.10L1489.30 533.74L1489.55 534.55L1489.80 531.28L1490.05 531.67L1490.30 530.52L1490.55 529.04L1490.80 527.89L1491.25 562.30L1491.70 528.92L1491.95 527.17L1492.20 525.90L1492.45 528.00L1492.70 532.78L1492.95 536.16L1493.20 539.08L1493.45 541.75L1493.70 546.75L1493.98 540.60L1494.26 533.11L1494.54 528.11L1494.82 521.60L1495.10 516.07L1495.36 515.11L1495.62 511.50L1495.87 509.46L1496.13 509.08L1496.39 506.38L1496.65 504.48L1496.91 503.25L1497.16 501.91L1497.42 499.42L1497.68 497.44L1497.94 494.91L1498.19 493.32L1498.45 492.31L1498.71 491.00L1498.97 489.69L1499.23 486.78L1499.48 484.09L1499.74 482.60L1500.00 481.17L1500.26 481.67L1500.52 480.13L1500.78 480.03L1501.04 481.20L1501.30 480.87L1501.56 479.33L1501.82 479.40L1502.08 480.01L1502.34 479.48L1502.60 478.75L1502.86 479.13L1503.12 478.64L1503.38 477.52L1503.64 477.92L1503.90 477.82L1504.16 476.67L1504.43 478.35L1504.69 477.06L1504.95 475.86L1505.22 477.45L1505.48 474.80L1505.75 475.49L1506.01 476.28L1506.27 476.79L1506.54 475.79L1506.80 476.27L1507.07 475.39L1507.33 476.96L1507.60 475.63L1507.87 475.94L1508.13 476.31L1508.40 477.48L1508.67 477.98L1508.93 478.66L1509.20 477.51L1509.46 477.29L1509.72 476.46L1509.98 475.94L1510.25 475.10L1510.51 474.25L1510.77 472.99L1511.03 472.99L1511.29 472.28L1511.55 470.08L1511.82 469.87L1512.08 467.95L1512.34 466.87L1512.60 466.26L1512.85 469.58L1513.10 470.41L1513.35 471.51L1513.60 473.17L1513.85 474.73L1514.10 476.07L1514.35 476.41L1514.60 476.26L1514.87 480.80L1515.13 486.17L1515.40 490.09L1515.67 495.46L1515.93 499.02L1516.20 499.71L1516.47 508.07L1516.73 510.69L1517.00 516.10L1517.25 518.27L1517.50 524.66L1517.75 528.63L1518.00 532.73L1518.25 535.59L1518.50 539.48L1518.77 547.23L1519.04 555.25L1519.31 560.83L1519.59 568.05L1519.86 574.58L1520.13 581.15L1520.40 589.03L1520.65 599.37L1520.90 608.50L1521.17 616.09L1521.43 621.85L1521.70 627.21L1521.97 633.08L1522.23 639.69L1522.50 645.53L1522.76 647.45L1523.02 649.98L1523.28 650.70L1523.53 654.80L1523.79 656.54L1524.05 659.66L1524.31 661.60L1524.57 663.70L1524.82 665.06L1525.08 668.62L1525.34 670.60L1525.60 672.29L1525.86 674.06L1526.12 676.43L1526.38 676.63L1526.64 678.90L1526.90 679.07L1527.16 680.87L1527.42 682.16L1527.68 683.50L1527.94 686.68L1528.20 687.85L1528.46 688.95L1528.73 687.02L1528.99 687.03L1529.26 689.64L1529.52 689.66L1529.79 691.17L1530.05 692.22L1530.31 691.14L1530.58 693.40L1530.84 692.13L1531.11 694.28L1531.37 693.24L1531.64 693.78L1531.90 696.50L1532.16 694.39L1532.41 695.34L1532.67 695.60L1532.93 696.10L1533.19 697.29L1533.44 697.95L1533.70 697.22L1533.96 697.33L1534.21 698.85L1534.47 698.41L1534.73 699.45L1534.99 699.15L1535.24 699.58L1535.50 700.12L1535.76 701.03L1536.02 701.75L1536.28 702.61L1536.54 703.96L1536.80 704.38L1537.06 705.72L1537.32 707.74L1537.58 708.17L1537.84 707.32L1538.10 709.78L1538.36 708.38L1538.62 708.71L1538.89 709.22L1539.15 709.74L1539.41 709.84L1539.67 708.84L1539.94 708.35L1540.20 708.53L1540.46 708.66L1540.72 708.89L1540.99 709.23L1541.25 708.40L1541.51 708.03L1541.77 706.72L1542.03 707.61L1542.29 705.95L1542.55 706.01L1542.81 706.46L1543.07 705.28L1543.33 703.06L1543.58 703.73L1543.84 703.40L1544.10 703.46L1544.36 702.77L1544.62 702.09L1544.88 702.05L1545.14 700.90L1545.40 699.43L1545.66 701.21L1545.92 699.71L1546.18 699.50L1546.44 698.91L1546.70 698.85L1546.96 697.64L1547.22 697.19L1547.48 696.15L1547.74 697.51L1548.00 694.68L1548.27 696.42L1548.53 699.32L1548.80 699.24L1549.07 701.72L1549.33 704.47L1549.60 706.14L1549.86 704.10L1550.12 701.16L1550.39 700.45L1550.65 698.48L1550.91 696.00L1551.17 693.83L1551.44 689.65L1551.70 689.16L1551.96 687.99L1552.22 687.77L1552.48 688.28L1552.74 685.61L1553.00 684.84L1553.26 683.79L1553.52 685.29L1553.78 682.66L1554.04 684.10L1554.30 682.12L1554.56 681.85L1554.82 681.60L1555.08 680.14L1555.34 681.00L1555.60 679.49L1555.86 677.55L1556.12 677.99L1556.38 678.28L1556.64 676.61L1556.90 675.12L1557.16 676.77L1557.42 676.84L1557.68 676.22L1557.94 678.19L1558.20 679.89L1558.46 680.49L1558.72 680.92L1558.98 682.51L1559.24 681.73L1559.50 683.44L1559.76 683.36L1560.02 682.04L1560.28 681.91L1560.54 682.64L1560.80 683.73L1561.06 682.46L1561.32 681.59L1561.58 681.10L1561.84 681.43L1562.10 679.62L1562.36 680.76L1562.62 680.84L1562.88 683.21L1563.14 683.34L1563.40 684.12L1563.66 683.55L1563.92 684.43L1564.17 684.73L1564.43 684.64L1564.69 686.00L1564.95 685.39L1565.21 686.89L1565.47 688.02L1565.73 688.03L1565.99 687.73L1566.25 688.56L1566.51 689.38L1566.77 687.94L1567.03 687.71L1567.28 691.57L1567.54 690.53L1567.80 689.88L1568.06 690.13L1568.32 689.41L1568.58 688.84L1568.83 690.75L1569.09 691.04L1569.35 690.75L1569.61 689.65L1569.87 691.05L1570.12 692.63L1570.38 690.97L1570.64 691.39L1570.90 691.54L1571.16 692.72L1571.43 691.11L1571.69 691.29L1571.95 690.73L1572.21 690.34L1572.47 690.33L1572.74 689.95L1573.00 689.72L1573.26 690.31L1573.53 689.94L1573.79 690.45L1574.05 689.43L1574.31 689.82L1574.57 689.48L1574.84 689.38L1575.10 689.44L1575.36 687.69L1575.62 687.55L1575.88 686.30L1576.14 686.08L1576.41 685.36L1576.67 684.47L1576.93 685.77L1577.19 683.17L1577.45 681.92L1577.71 681.80L1577.97 681.11L1578.23 679.70L1578.49 680.02L1578.76 677.85L1579.02 677.99L1579.28 676.97L1579.54 675.73L1579.80 675.97L1580.06 674.26L1580.33 673.10L1580.59 671.49L1580.85 671.83L1581.11 669.32L1581.38 669.42L1581.64 668.80L1581.90 666.01L1582.16 665.16L1582.42 664.52L1582.69 663.94L1582.95 662.38L1583.21 661.87L1583.47 659.91L1583.74 659.53L1584.00 656.62L1584.26 656.41L1584.52 655.26L1584.78 654.54L1585.04 654.04L1585.30 651.13L1585.56 651.86L1585.82 648.45L1586.08 649.63L1586.34 647.25L1586.60 646.94L1586.86 645.56L1587.12 645.76L1587.38 643.09L1587.64 643.10L1587.90 640.90L1588.16 640.67L1588.42 639.63L1588.68 637.93L1588.94 636.02L1589.20 636.04L1589.46 636.53L1589.72 635.06L1589.97 631.63L1590.23 631.96L1590.49 631.62L1590.75 631.15L1591.01 629.38L1591.27 626.83L1591.53 627.75L1591.78 625.78L1592.04 624.98L1592.30 624.00L1592.57 623.31L1592.83 621.35L1593.10 619.38L1593.37 617.81L1593.63 616.89L1593.90 614.86L1594.16 614.58L1594.41 616.06L1594.67 615.19L1594.92 616.38L1595.18 613.06L1595.43 613.45L1595.69 614.44L1595.94 613.68L1596.20 612.55L1596.46 613.87L1596.71 613.77L1596.97 613.19L1597.22 613.50L1597.48 611.16L1597.73 611.44L1597.99 611.55L1598.24 611.04L1598.50 610.62L1598.77 610.14L1599.03 610.69L1599.30 610.46L1599.57 609.61L1599.83 609.58L1600.10 608.88L1600.37 608.11L1600.63 608.13L1600.90 607.05L1601.17 606.95L1601.43 607.87L1601.70 607.45L1601.96 606.68L1602.21 608.52L1602.47 609.67L1602.73 609.52L1602.99 610.57L1603.24 610.38L1603.50 611.78L1603.76 613.21L1604.01 613.50L1604.27 614.65L1604.53 614.97L1604.79 614.96L1605.04 616.97L1605.30 618.74L1605.56 618.18L1605.83 616.59L1606.09 615.28L1606.35 613.84L1606.61 614.30L1606.88 614.15L1607.14 614.56L1607.40 611.92L1607.66 611.76L1607.92 611.10L1608.19 610.91L1608.45 610.18L1608.71 609.75L1608.97 608.68L1609.24 607.62L1609.50 606.29L1609.76 607.36L1610.01 608.07L1610.27 609.21L1610.53 608.29L1610.79 609.57L1611.04 609.45L1611.30 611.05L1611.56 611.17L1611.81 612.32L1612.07 612.05L1612.33 613.17L1612.59 613.28L1612.84 612.53L1613.10 614.25L1613.36 612.76L1613.62 614.08L1613.89 610.81L1614.15 611.53L1614.41 612.08L1614.67 610.97L1614.94 611.43L1615.20 610.99L1615.46 611.69L1615.72 611.00L1615.99 609.69L1616.25 609.11L1616.51 609.97L1616.77 610.14L1617.03 609.86L1617.29 609.90L1617.55 609.59L1617.81 609.63L1618.07 611.03L1618.33 609.69L1618.58 609.88L1618.84 610.16L1619.10 610.63L1619.36 610.32L1619.62 610.91L1619.88 609.66L1620.14 611.21L1620.40 610.70L1620.66 610.58L1620.93 610.23L1621.19 609.20L1621.45 608.69L1621.71 608.56L1621.97 608.11L1622.24 609.85L1622.50 607.79L1622.75 610.10L1623.00 612.65L1623.25 616.04L1623.50 618.03L1623.76 617.84L1624.03 616.63L1624.29 615.88L1624.56 613.93L1624.82 612.54L1625.09 613.18L1625.35 613.73L1625.61 612.78L1625.88 610.81L1626.14 610.89L1626.41 608.02L1626.67 609.36L1626.94 608.52L1627.20 607.18L1627.46 607.72L1627.71 609.96L1627.97 611.11L1628.23 612.63L1628.49 613.39L1628.74 615.18L1629.00 617.17L1629.26 617.30L1629.51 618.35L1629.77 619.88L1630.03 622.62L1630.29 622.53L1630.54 624.31L1630.80 625.91L1631.06 624.40L1631.33 623.38L1631.59 624.09L1631.85 621.56L1632.11 620.88L1632.38 620.05L1632.64 621.02L1632.90 620.10L1633.16 620.65L1633.43 620.64L1633.69 623.22L1633.95 624.83L1634.21 625.99L1634.47 628.42L1634.74 629.60L1635.00 632.08L1635.26 631.86L1635.53 632.31L1635.79 633.44L1636.05 633.58L1636.31 635.21L1636.58 633.10L1636.84 634.00L1637.10 635.22L1637.36 636.89L1637.62 635.89L1637.89 635.80L1638.15 637.20L1638.41 638.42L1638.67 638.70L1638.94 637.82L1639.20 637.46L1639.46 640.01L1639.71 640.94L1639.97 642.01L1640.22 643.44L1640.48 644.90L1640.74 645.79L1640.99 648.95L1641.25 648.27L1641.51 650.70L1641.76 651.09L1642.02 653.83L1642.28 653.97L1642.53 654.80L1642.79 656.64L1643.04 658.26L1643.30 660.60L1643.56 660.54L1643.83 661.86L1644.09 662.63L1644.35 664.69L1644.61 664.96L1644.88 665.50L1645.14 668.24L1645.40 670.58L1645.66 669.89L1645.92 672.03L1646.19 671.88L1646.45 674.64L1646.71 674.93L1646.97 674.73L1647.24 676.58L1647.50 677.68L1647.75 680.91L1648.01 680.55L1648.26 683.30L1648.52 685.31L1648.77 685.93L1649.02 688.22L1649.28 689.17L1649.53 690.52L1649.78 692.99L1650.04 692.40L1650.29 695.34L1650.55 696.44L1650.80 697.12L1651.07 700.19L1651.34 702.97L1651.61 704.53L1651.88 707.79L1652.15 709.81L1652.42 710.52L1652.69 713.30L1652.96 714.21L1653.23 717.49L1653.50 719.35L1653.75 720.11L1654.00 720.53L1654.25 720.29L1654.50 719.68L1654.75 722.03L1655.00 721.31L1655.25 724.17L1655.50 723.65L1655.75 724.65L1656.00 722.66L1656.25 723.55L1656.50 724.76L1656.75 724.19L1657.00 724.38L1657.25 724.98L1657.50 726.86L1657.75 725.52L1658.00 727.22L1658.26 727.53L1658.53 726.84L1658.79 727.29L1659.06 728.86L1659.32 730.08L1659.59 728.72L1659.85 731.54L1660.11 730.99L1660.38 731.12L1660.64 732.62L1660.91 732.54L1661.17 732.91L1661.44 734.12L1661.70 734.18L1661.96 736.53L1662.21 738.42L1662.47 740.41L1662.73 741.22L1662.99 743.12L1663.24 743.37L1663.50 746.42L1663.76 747.57L1664.01 749.19L1664.27 752.48L1664.53 752.13L1664.79 755.14L1665.04 755.15L1665.30 757.44L1665.56 759.36L1665.81 758.30L1666.07 760.14L1666.33 759.43L1666.59 762.92L1666.84 764.55L1667.10 763.27L1667.36 765.09L1667.61 765.71L1667.87 766.52L1668.13 767.42L1668.39 766.90L1668.64 768.99L1668.90 770.85L1669.16 771.62L1669.41 770.98L1669.67 773.51L1669.93 772.34L1670.19 777.57L1670.44 773.88L1670.70 776.72L1670.96 776.33L1671.21 777.13L1671.47 781.94L1671.73 780.38L1671.99 782.08L1672.24 782.28L1672.50 784.74L1672.76 782.99L1673.01 786.71L1673.27 784.89L1673.53 791.09L1673.79 789.12L1674.04 788.28L1674.30 787.66L1674.56 793.25L1674.81 791.26L1675.07 791.62L1675.33 793.90L1675.59 791.10L1675.84 792.80L1676.10 795.02L1676.36 793.81L1676.61 793.76L1676.87 793.31L1677.13 793.75L1677.39 791.61L1677.64 800.51L1677.90 796.02L1678.16 793.93L1678.41 794.21L1678.67 791.89L1678.93 792.16L1679.19 791.85L1679.44 793.62L1679.70 792.12L1679.96 788.88L1680.21 788.65L1680.47 788.77L1680.73 791.87L1680.99 788.24L1681.24 789.09L1681.50 787.89L1681.76 790.36L1682.01 787.52L1682.27 789.29L1682.53 791.18L1682.79 791.19L1683.04 793.51L1683.30 793.36L1683.56 791.58L1683.81 797.16L1684.07 796.33L1684.33 795.89L1684.59 798.81L1684.84 794.91L1685.10 796.82L1685.35 796.79L1685.60 799.22L1685.85 798.16L1686.10 798.89L1686.35 798.57L1686.60 800.88L1686.85 803.38L1687.10 800.29L1687.35 799.58L1687.60 800.20L1687.85 804.33L1688.10 805.40L1688.35 802.66L1688.60 805.19L1688.85 802.69L1689.10 805.33L1689.35 802.16L1689.60 805.45L1689.86 808.47L1690.11 804.02L1690.37 807.69L1690.62 806.62L1690.88 801.18L1691.13 805.62L1691.39 808.22L1691.64 809.37L1691.90 805.30L1692.16 804.90L1692.41 807.27L1692.67 806.81L1692.92 805.96L1693.18 806.97L1693.43 802.24L1693.69 805.37L1693.94 803.42L1694.20 808.29L1694.46 811.18L1694.72 806.69L1694.97 807.71L1695.23 808.70L1695.49 814.76L1695.75 811.39L1696.01 814.62L1696.27 816.19L1696.53 815.41L1696.78 813.34L1697.04 817.06L1697.30 818.40L1697.58 806.38L1697.86 794.55L1698.14 782.37L1698.42 772.16L1698.70 760.59L1698.96 754.06L1699.22 747.27L1699.48 741.04L1699.74 730.74L1700.00 724.52L1700.28 721.30L1700.56 714.50L1700.84 708.46L1701.12 703.53L1701.40 697.57L1701.67 657.83L1701.93 616.18L1702.20 575.41L1702.47 569.69L1702.73 561.34L1703.00 555.74L1703.26 554.13L1703.51 556.70L1703.77 556.19L1704.02 556.02L1704.28 559.56L1704.53 556.95L1704.79 558.51L1705.04 556.98L1705.30 560.35L1705.56 554.45L1705.81 550.18L1706.07 545.21L1706.32 538.66L1706.58 534.06L1706.83 528.48L1707.09 524.54L1707.34 520.60L1707.60 515.42L1707.86 509.25L1708.11 504.27L1708.37 499.60L1708.62 494.14L1708.88 489.50L1709.13 484.34L1709.39 479.38L1709.64 474.05L1709.90 468.87L1710.25 461.74L1710.60 456.12L1710.87 458.11L1711.13 459.19L1711.40 462.48L1711.67 465.08L1711.93 465.76L1712.20 468.60L1712.46 468.31L1712.71 470.38L1712.97 468.67L1713.22 469.00L1713.48 467.86L1713.73 466.45L1713.99 466.84L1714.24 467.33L1714.50 467.19L1714.75 468.74L1715.00 469.21L1715.25 470.37L1715.50 471.56L1715.75 475.11L1716.00 476.79L1716.25 476.84L1716.50 476.30L1716.75 480.23L1717.01 480.09L1717.26 479.31L1717.52 480.57L1717.78 480.41L1718.03 481.78L1718.29 480.81L1718.55 482.07L1718.80 482.44L1719.06 482.51L1719.32 482.60L1719.57 482.64L1719.83 481.77L1720.09 483.26L1720.34 484.92L1720.60 485.34L1720.86 489.86L1721.11 494.60L1721.37 499.28L1721.62 504.11L1721.88 508.70L1722.13 514.68L1722.39 520.16L1722.64 524.83L1722.90 528.18L1723.15 535.99L1723.40 542.51L1723.65 546.94L1723.90 552.87L1724.15 558.41L1724.40 564.68L1724.65 569.43L1724.90 576.58L1725.15 581.32L1725.40 586.22L1725.65 592.04L1725.90 597.56L1726.16 599.91L1726.42 602.78L1726.68 604.51L1726.93 606.16L1727.19 608.15L1727.45 610.30L1727.71 611.53L1727.97 614.54L1728.22 615.79L1728.48 617.44L1728.74 620.89L1729.00 621.19L1729.25 623.66L1729.50 624.28L1729.75 625.35L1730.00 627.28L1730.25 627.57L1730.50 630.13L1730.75 630.94L1731.00 632.64L1731.25 633.01L1731.50 634.41L1731.75 638.49L1732.00 637.60L1732.26 640.06L1732.51 640.99L1732.77 640.69L1733.02 643.90L1733.28 644.02L1733.53 645.63L1733.79 647.53L1734.04 647.87L1734.30 649.22L1734.56 646.09L1734.81 646.14L1735.07 642.44L1735.32 639.25L1735.58 636.68L1735.83 633.48L1736.09 633.55L1736.34 630.73L1736.60 629.18L1736.86 624.95L1737.11 623.58L1737.37 620.51L1737.62 618.06L1737.88 615.96L1738.13 613.18L1738.39 610.67L1738.64 608.13L1738.90 606.30L1739.16 604.86L1739.41 603.12L1739.67 601.67L1739.92 601.98L1740.18 600.53L1740.43 597.38L1740.69 597.56L1740.94 594.76L1741.20 594.32L1741.46 588.15L1741.72 583.32L1741.97 577.39L1742.23 572.82L1742.49 567.54L1742.75 563.71L1743.01 557.55L1743.27 550.99L1743.53 545.51L1743.78 540.58L1744.04 535.10L1744.30 529.82L1744.55 526.26L1744.80 523.97L1745.05 521.37L1745.30 517.70L1745.55 515.41L1745.80 510.24L1746.05 507.97L1746.30 503.96L1746.55 500.23L1746.80 498.38L1747.05 495.36L1747.30 490.78L1747.56 492.62L1747.81 491.82L1748.07 490.76L1748.32 490.66L1748.58 491.06L1748.83 490.94L1749.09 491.30L1749.34 490.48L1749.60 490.15L1749.86 491.45L1750.11 494.82L1750.37 497.88L1750.62 498.33L1750.88 502.71L1751.13 502.81L1751.39 506.49L1751.64 508.56L1751.90 511.80L1752.16 511.95L1752.41 514.41L1752.67 514.52L1752.93 514.73L1753.18 517.37L1753.44 516.20L1753.70 516.32L1753.95 518.38L1754.21 517.33L1754.47 519.68L1754.72 521.40L1754.98 521.71L1755.24 522.39L1755.49 523.13L1755.75 526.12L1756.00 527.61L1756.25 530.55L1756.50 533.65L1756.75 536.65L1757.00 539.15L1757.25 541.98L1757.50 546.77L1757.75 549.43L1758.00 552.59L1758.26 554.78L1758.52 557.62L1758.78 561.11L1759.04 560.87L1759.30 563.54L1759.56 565.67L1759.82 568.42L1760.08 568.41L1760.34 570.20L1760.60 572.14L1760.86 576.10L1761.12 577.10L1761.38 579.62L1761.64 582.16L1761.90 583.37L1762.15 581.95L1762.40 581.51L1762.65 581.49L1762.90 580.55L1763.15 579.34L1763.40 579.30L1763.65 577.83L1763.90 578.16L1764.15 577.56L1764.40 576.30L1764.65 575.20L1764.90 575.16L1765.16 574.43L1765.42 573.78L1765.68 575.76L1765.93 574.28L1766.19 574.16L1766.45 573.56L1766.71 575.26L1766.97 573.93L1767.22 574.67L1767.48 575.74L1767.74 576.22L1768.00 575.55L1768.25 570.79L1768.50 568.30L1768.75 562.19L1769.00 559.50L1769.25 555.61L1769.50 551.89L1769.75 548.53L1770.00 542.35L1770.25 538.81L1770.50 533.78L1770.75 531.40L1771.00 526.34L1771.26 533.47L1771.51 539.41L1771.77 544.81L1772.02 551.83L1772.28 557.84L1772.53 563.66L1772.79 568.58L1773.04 576.57L1773.30 583.11L1773.56 587.37L1773.81 593.75L1774.07 599.37L1774.32 607.10L1774.58 612.56L1774.83 620.52L1775.09 626.21L1775.34 632.03L1775.60 637.49L1775.86 633.41L1776.11 628.00L1776.37 624.11L1776.62 620.09L1776.88 615.38L1777.13 611.26L1777.39 606.58L1777.64 600.95L1777.90 595.82L1778.16 590.45L1778.41 585.26L1778.67 582.03L1778.92 576.12L1779.18 572.67L1779.43 567.40L1779.69 561.94L1779.94 558.15L1780.20 552.34L1780.46 549.33L1780.71 544.85L1780.97 541.30L1781.22 537.85L1781.48 534.94L1781.73 530.58L1781.99 527.14L1782.24 522.32L1782.50 518.80L1782.75 514.80L1783.01 515.67L1783.26 515.44L1783.51 513.31L1783.77 510.41L1784.02 509.40L1784.27 508.38L1784.53 508.93L1784.78 507.24L1785.03 505.78L1785.29 503.57L1785.54 502.28L1785.79 500.51L1786.05 498.82L1786.30 498.53L1786.65 497.09L1787.00 495.65L1787.25 506.04L1787.50 517.00L1787.75 505.80L1788.00 495.78L1788.26 492.73L1788.53 491.26L1788.79 488.47L1789.06 487.54L1789.32 485.42L1789.59 483.06L1789.85 480.22L1790.11 478.23L1790.38 476.57L1790.64 476.09L1790.91 473.33L1791.17 472.37L1791.44 468.40L1791.70 467.50L1791.95 466.55L1792.20 466.51L1792.46 466.87L1792.71 467.49L1792.96 465.62L1793.21 466.68L1793.47 465.84L1793.72 465.29L1793.97 465.20L1794.22 463.56L1794.48 464.89L1794.73 463.95L1794.98 463.86L1795.23 464.22L1795.49 464.06L1795.74 463.89L1795.99 462.45L1796.24 463.14L1796.50 462.60L1796.75 462.99L1797.00 462.28L1797.26 463.43L1797.52 461.85L1797.78 463.15L1798.03 461.28L1798.29 461.75L1798.55 462.75L1798.81 461.63L1799.07 462.94L1799.33 462.58L1799.58 460.21L1799.84 461.05L1800.10 461.75L1800.36 461.42L1800.62 460.50L1800.88 460.56L1801.13 460.95L1801.39 462.31L1801.65 460.59L1801.91 459.24L1802.17 460.60L1802.42 459.70L1802.68 460.81L1802.94 460.76L1803.20 458.87L1803.45 461.43L1803.71 460.67L1803.96 461.62L1804.22 461.26L1804.47 461.33L1804.72 461.14L1804.98 461.85L1805.23 463.00L1805.49 462.56L1805.74 461.49L1806.00 461.63L1806.25 463.86L1806.50 463.55L1806.76 465.19L1807.01 464.82L1807.27 465.68L1807.52 465.55L1807.78 465.48L1808.03 466.38L1808.28 466.78L1808.54 467.95L1808.79 465.46L1809.05 467.49L1809.30 466.72L1809.56 467.64L1809.82 468.11L1810.08 469.60L1810.34 468.49L1810.60 468.21L1810.85 468.29L1811.11 469.47L1811.37 468.59L1811.63 469.12L1811.89 469.00L1812.15 467.86L1812.41 469.26L1812.67 470.03L1812.93 471.04L1813.19 470.58L1813.45 471.06L1813.70 471.54L1813.96 472.79L1814.22 471.92L1814.48 471.82L1814.74 472.46L1815.00 472.84L1815.25 472.21L1815.51 471.77L1815.76 471.01L1816.02 470.99L1816.27 470.93L1816.53 470.30L1816.78 468.36L1817.04 469.49L1817.29 469.76L1817.55 468.13L1817.80 468.85L1818.05 467.23L1818.31 467.58L1818.56 468.96L1818.82 467.61L1819.07 467.09L1819.33 465.47L1819.58 466.51L1819.84 464.90L1820.09 464.36L1820.35 464.28L1820.60 464.99L1820.85 463.04L1821.10 463.78L1821.35 463.00L1821.61 463.54L1821.86 462.98L1822.11 460.52L1822.36 462.31L1822.61 462.62L1822.86 461.71L1823.12 462.50L1823.37 460.29L1823.62 458.95L1823.87 460.77L1824.12 461.02L1824.37 460.60L1824.62 460.20L1824.88 459.37L1825.13 458.78L1825.38 459.67L1825.63 459.71L1825.88 458.57L1826.13 458.53L1826.38 457.08L1826.64 456.42L1826.89 457.61L1827.14 455.83L1827.39 457.47L1827.64 456.13L1827.89 456.16L1828.15 455.37L1828.40 454.11L1828.65 455.38L1828.90 453.98L1829.15 453.18L1829.40 452.61L1829.65 451.16L1829.90 449.54L1830.15 449.59L1830.40 447.49L1830.65 446.88L1830.90 445.91L1831.15 444.29L1831.40 445.19L1831.65 442.50L1831.90 442.08L1832.15 440.85L1832.40 440.33L1832.65 438.35L1832.90 436.21L1833.15 435.76L1833.40 436.04L1833.65 432.76L1833.90 433.13L1834.15 432.43L1834.40 431.50L1834.66 429.51L1834.93 428.60L1835.19 428.96L1835.45 427.14L1835.71 428.41L1835.97 425.67L1836.24 425.01L1836.50 424.34L1836.76 423.14L1837.03 424.82L1837.29 422.11L1837.55 421.11L1837.81 421.35L1838.07 420.08L1838.34 419.90L1838.60 418.62L1838.86 417.50L1839.12 417.57L1839.39 415.56L1839.65 415.95L1839.91 414.73L1840.17 412.04L1840.44 413.43L1840.70 411.70L1840.96 410.90L1841.22 410.12L1841.49 411.19L1841.75 410.21L1842.01 408.44L1842.27 406.73L1842.54 406.82L1842.80 404.66L1843.06 405.21L1843.32 405.82L1843.58 405.61L1843.84 403.78L1844.10 403.74L1844.36 404.63L1844.62 402.77L1844.88 402.42L1845.14 402.17L1845.40 400.96L1845.66 401.11L1845.92 401.18L1846.18 400.46L1846.44 399.52L1846.70 399.27L1846.90 398.00L1847.00 60.00L1848.30 60.00L1848.60 333.00L1847.00 370.35L1847.30 339.95L1847.57 340.06L1847.84 341.01L1848.11 341.13L1848.39 339.53L1848.66 340.80L1848.93 340.48L1849.20 342.23L1849.50 339.02L1849.80 336.41L1850.10 334.93L1850.40 334.27L1850.65 334.37L1850.91 332.50L1851.16 331.70L1851.41 330.22L1851.67 330.26L1851.92 329.53L1852.17 328.52L1852.43 328.41L1852.68 326.02L1852.93 325.71L1853.19 324.83L1853.44 325.24L1853.69 324.15L1853.95 322.45L1854.20 322.21L1854.45 322.30L1854.70 322.02L1854.95 322.38L1855.20 324.10L1855.45 323.81L1855.70 323.92L1855.95 324.34L1856.20 322.67L1856.45 324.13L1856.70 326.03L1856.95 325.63L1857.20 326.82L1857.45 327.59L1857.70 328.61L1857.95 327.04L1858.20 328.19L1858.45 329.92L1858.70 328.38L1858.95 328.89L1859.20 330.30L1859.47 323.58L1859.73 317.69L1860.00 311.53L1860.28 314.00L1860.57 317.74L1860.85 321.46L1861.13 324.59L1861.42 327.26L1861.70 330.90L1861.97 327.33L1862.23 323.27L1862.50 318.49L1862.77 314.17L1863.03 309.63L1863.30 305.38L1863.58 306.70L1863.87 306.10L1864.15 307.05L1864.43 306.67L1864.72 306.28L1865.00 306.84L1865.25 306.93L1865.51 306.54L1865.76 307.04L1866.02 306.90L1866.27 307.69L1866.52 307.21L1866.78 306.57L1867.03 306.88L1867.28 308.61L1867.54 307.17L1867.79 307.47L1868.05 307.65L1868.30 308.08L1868.56 307.54L1868.82 307.11L1869.08 308.68L1869.35 307.17L1869.61 308.14L1869.87 309.06L1870.13 307.22L1870.39 307.12L1870.65 307.67L1870.92 307.52L1871.18 307.61L1871.44 307.79L1871.70 307.95L1871.96 307.93L1872.21 309.41L1872.47 308.79L1872.72 307.46L1872.98 309.94L1873.24 308.90L1873.49 310.00L1873.75 309.39L1874.00 308.57L1874.25 310.22L1874.50 310.48L1874.75 310.67L1875.00 310.67L1875.25 310.31L1875.50 310.85L1875.75 310.56L1876.00 310.76L1876.25 311.14L1876.50 311.18L1876.75 311.28L1877.00 311.13" stroke="#ff0000"/>
<path d="M280.50 344.66L280.75 345.24L281.00 345.69L281.25 345.81L281.50 347.86L281.75 349.10L282.00 348.73L282.25 351.05L282.50 349.72L282.75 351.91L283.00 352.37L283.25 352.88L283.50 353.76L283.75 355.49L284.00 356.62L284.25 357.64L284.50 357.70L284.75 360.85L285.00 361.65L285.25 364.25L285.50 364.09L285.75 365.13L286.00 367.19L286.26 367.25L286.52 365.71L286.77 365.60L287.03 365.21L287.29 365.23L287.55 364.57L287.81 365.50L288.07 363.32L288.33 363.64L288.58 362.33L288.84 364.16L289.10 362.57L289.37 360.95L289.64 361.64L289.91 358.58L290.19 357.05L290.46 357.16L290.73 355.95L291.00 355.99L291.26 357.70L291.52 359.19L291.78 358.63L292.04 359.71L292.30 360.09L292.56 358.63L292.81 357.68L293.07 357.22L293.33 353.16L293.59 353.66L293.84 353.23L294.10 350.95L294.37 351.43L294.64 352.77L294.91 352.15L295.19 353.06L295.46 355.70L295.73 354.04L296.00 355.81L296.27 355.79L296.54 354.86L296.81 354.70L297.09 352.01L297.36 353.40L297.63 351.61L297.90 352.55L298.15 354.42L298.40 357.78L298.65 358.59L298.90 363.62L299.15 363.56L299.40 366.24L299.65 368.72L299.90 371.66L300.15 374.07L300.40 376.12L300.66 375.60L300.93 378.25L301.19 377.43L301.46 377.69L301.72 379.88L301.99 380.03L302.25 380.09L302.51 381.54L302.78 383.16L303.04 382.39L303.31 384.92L303.57 386.35L303.84 385.81L304.10 386.20L304.36 385.77L304.63 388.11L304.89 387.23L305.15 387.25L305.42 387.33L305.68 387.77L305.95 390.13L306.21 390.06L306.47 390.86L306.74 390.11L307.00 391.45L307.30 391.04L307.60 388.32L307.90 387.84L308.16 386.97L308.42 387.03L308.67 387.81L308.93 386.68L309.19 387.26L309.45 387.18L309.71 386.59L309.97 388.56L310.23 387.95L310.48 387.67L310.74 386.60L311.00 387.10L311.26 391.89L311.51 391.55L311.77 395.43L312.02 398.07L312.28 399.06L312.53 403.51L312.79 404.25L313.04 408.61L313.30 410.52L313.57 415.94L313.83 421.24L314.10 427.07L314.37 432.63L314.63 438.05L314.90 444.56L315.16 448.61L315.41 452.57L315.67 458.78L315.92 462.68L316.18 467.13L316.43 474.05L316.69 478.86L316.94 483.99L317.20 488.04L317.46 490.94L317.72 493.29L317.98 495.80L318.25 498.56L318.51 501.75L318.77 503.65L319.03 507.79L319.29 510.76L319.55 512.61L319.82 514.74L320.08 518.88L320.34 520.83L320.60 523.92L320.86 527.63L321.12 529.89L321.38 533.58L321.65 537.34L321.91 541.27L322.17 543.48L322.43 546.85L322.69 547.57L322.95 553.70L323.22 557.15L323.48 558.58L323.74 563.17L324.00 566.25L324.26 567.58L324.51 570.65L324.77 571.77L325.02 572.87L325.28 575.03L325.53 577.68L325.79 578.53L326.04 579.48L326.30 582.15L326.56 585.39L326.81 586.64L327.07 588.52L327.32 590.86L327.58 593.33L327.83 595.10L328.09 596.50L328.34 597.88L328.60 600.18L328.86 601.06L329.11 604.71L329.37 604.32L329.62 605.07L329.88 604.68L330.13 607.12L330.39 608.01L330.64 608.48L330.90 611.23L331.16 609.47L331.41 612.66L331.67 613.49L331.92 614.84L332.18 616.25L332.43 617.09L332.69 618.79L332.94 619.61L333.20 620.63L333.46 622.44L333.71 622.79L333.97 622.19L334.22 624.69L334.48 625.41L334.73 627.09L334.99 628.17L335.24 629.97L335.50 629.54L335.75 631.75L336.00 634.27L336.25 634.61L336.50 638.77L336.75 643.43L337.00 643.89L337.25 647.62L337.50 648.01L337.75 651.82L338.00 654.54L338.25 656.85L338.50 658.44L338.76 660.56L339.02 660.18L339.28 662.65L339.54 662.78L339.80 663.75L340.06 666.02L340.32 666.03L340.58 667.52L340.84 668.00L341.10 669.44L341.36 672.14L341.62 671.04L341.88 673.24L342.14 674.66L342.40 675.94L342.66 677.42L342.92 678.66L343.18 678.99L343.45 678.64L343.71 678.05L343.97 679.55L344.23 680.98L344.49 679.05L344.75 682.11L345.02 683.30L345.28 684.42L345.54 683.58L345.80 685.09L346.06 684.87L346.31 685.75L346.57 686.05L346.82 686.94L347.08 685.12L347.33 684.95L347.59 686.05L347.84 686.59L348.10 687.11L348.36 690.22L348.61 692.18L348.87 695.57L349.12 696.39L349.38 701.23L349.63 705.14L349.89 707.49L350.14 709.43L350.40 713.13L350.66 712.98L350.92 714.04L351.18 715.06L351.45 714.72L351.71 715.66L351.97 716.96L352.23 716.75L352.49 720.07L352.75 719.25L353.02 718.41L353.28 722.48L353.54 720.59L353.80 722.91L354.06 723.25L354.32 723.06L354.58 721.88L354.85 721.39L355.11 721.18L355.37 721.33L355.63 720.75L355.89 720.54L356.15 720.52L356.42 719.98L356.68 720.05L356.94 718.96L357.20 719.10L357.45 718.63L357.70 719.17L357.95 717.28L358.20 718.43L358.45 716.11L358.70 716.35L358.95 715.46L359.20 715.26L359.45 716.00L359.70 715.38L359.95 712.74L360.20 714.64L360.45 712.11L360.70 712.93L360.96 714.06L361.22 715.83L361.48 716.38L361.75 716.41L362.01 719.05L362.27 719.90L362.53 720.04L362.79 723.22L363.05 722.00L363.32 721.90L363.58 723.96L363.84 726.39L364.10 726.06L364.36 724.33L364.61 723.47L364.87 722.79L365.12 721.44L365.38 719.43L365.63 719.97L365.89 717.95L366.14 716.40L366.40 715.67L366.66 717.45L366.91 717.24L367.17 719.33L367.42 718.81L367.68 718.87L367.93 720.43L368.19 721.33L368.44 724.56L368.70 724.03L368.97 723.57L369.24 722.24L369.51 722.59L369.78 721.93L370.05 721.69L370.32 723.01L370.59 720.76L370.86 720.73L371.13 720.87L371.40 720.40L371.67 722.06L371.93 723.96L372.20 725.58L372.47 727.82L372.73 730.39L373.00 730.89L373.27 734.60L373.53 733.65L373.80 738.81L374.07 740.84L374.33 741.73L374.60 744.16L374.86 745.04L375.12 746.96L375.38 747.69L375.64 750.29L375.90 752.12L376.16 753.08L376.42 755.14L376.68 757.24L376.94 760.16L377.20 759.36L377.46 760.30L377.72 763.76L377.98 764.64L378.24 767.30L378.50 768.90L378.76 771.33L379.02 771.61L379.28 775.16L379.54 774.03L379.80 777.27L380.06 779.82L380.32 782.67L380.59 785.90L380.85 789.07L381.11 791.25L381.38 795.44L381.64 797.48L381.90 800.02L382.16 801.63L382.41 803.45L382.67 805.60L382.92 806.64L383.18 806.77L383.44 810.66L383.69 811.16L383.95 813.65L384.21 813.95L384.46 816.54L384.72 817.47L384.98 817.74L385.23 820.30L385.49 821.91L385.74 825.03L386.00 825.23L386.26 826.86L386.52 828.97L386.79 831.98L387.05 832.71L387.31 836.16L387.58 838.12L387.84 839.60L388.10 841.30L388.36 844.21L388.62 846.42L388.89 847.62L389.15 848.90L389.41 850.85L389.68 852.61L389.94 855.21L390.20 857.56L390.46 858.54L390.73 861.42L390.99 863.54L391.25 864.87L391.51 867.64L391.78 868.29L392.04 870.42L392.30 873.00L392.56 875.44L392.82 876.82L393.08 877.88L393.34 879.71L393.60 880.09L393.86 882.60L394.12 883.56L394.38 884.13L394.64 887.94L394.90 888.37L395.16 889.94L395.42 891.08L395.68 892.80L395.94 895.18L396.20 897.02L396.46 898.85L396.72 899.70L396.98 901.39L397.24 903.65L397.50 904.27L397.76 904.86L398.02 906.03L398.29 906.86L398.55 906.70L398.81 907.13L399.07 908.91L399.34 910.45L399.60 909.58L399.86 909.98L400.12 911.54L400.39 913.80L400.65 914.12L400.91 913.00L401.18 916.56L401.44 912.91L401.70 916.29L401.96 917.22L402.22 919.39L402.48 919.29L402.73 919.37L402.99 918.91L403.25 921.81L403.51 921.57L403.77 923.33L404.02 922.43L404.28 925.69L404.54 925.31L404.80 927.55L405.06 930.06L405.32 927.98L405.58 926.02L405.84 925.46L406.10 924.24L406.36 924.16L406.62 920.82L406.88 923.88L407.14 926.07L407.40 918.45L407.66 917.84L407.92 925.19L408.18 920.20L408.44 921.16L408.70 917.76L408.96 920.89L409.22 920.45L409.48 922.17L409.74 925.28L410.00 919.55L410.26 921.55L410.52 926.53L410.79 923.78L411.05 925.55L411.31 924.08L411.57 927.36L411.84 929.72L412.10 933.04L412.36 932.33L412.62 934.18L412.89 935.40L413.15 934.24L413.41 936.78L413.68 933.34L413.94 942.55L414.20 940.11L414.46 942.87L414.72 940.03L414.98 947.14L415.24 944.67L415.50 948.37L415.76 939.49L416.02 942.84L416.28 943.91L416.54 942.35L416.80 946.74L417.06 949.22L417.32 949.53L417.58 946.98L417.84 947.10L418.10 943.34L418.36 947.98L418.62 946.04L418.88 944.74L419.14 944.97L419.40 950.37L419.66 954.70L419.91 949.55L420.17 948.91L420.42 945.93L420.68 945.96L420.94 946.02L421.19 952.40L421.45 945.57L421.71 947.18L421.96 945.95L422.22 942.92L422.48 945.18L422.73 944.67L422.99 944.40L423.24 943.37L423.50 941.72L423.77 943.55L424.03 946.02L424.30 944.43L424.57 946.72L424.83 942.32L425.10 945.36L425.37 945.22L425.63 951.65L425.90 952.23L426.17 955.69L426.43 953.49L426.70 956.49L426.96 958.10L427.22 953.64L427.48 954.45L427.74 959.54L428.00 965.32L428.26 955.19L428.52 955.54L428.78 954.96L429.04 954.42L429.30 953.89L429.56 957.95L429.82 957.24L430.08 954.71L430.34 955.52L430.60 953.62L430.86 960.46L431.12 949.35L431.38 956.49L431.64 956.35L431.90 956.31L432.16 956.94L432.42 950.57L432.68 958.70L432.94 957.48L433.20 955.98L433.46 961.47L433.72 964.38L433.98 960.31L434.24 962.61L434.50 966.39L434.76 962.51L435.02 960.06L435.28 965.48L435.54 963.99L435.80 965.38L436.06 962.58L436.32 962.15L436.58 965.26L436.84 964.94L437.10 965.98L437.36 963.90L437.62 962.96L437.88 962.91L438.14 964.26L438.40 961.72L438.66 959.30L438.92 959.60L439.18 953.87L439.44 953.43L439.70 953.31L439.96 955.28L440.22 959.51L440.48 952.79L440.74 958.81L441.00 953.98L441.26 949.46L441.52 949.08L441.78 951.07L442.04 950.48L442.30 946.96L442.56 945.70L442.82 946.27L443.09 954.49L443.35 955.97L443.61 948.11L443.88 946.44L444.14 946.56L444.40 948.14L444.66 951.65L444.93 950.04L445.19 950.92L445.45 950.71L445.71 953.54L445.98 959.50L446.24 953.08L446.50 954.70L446.76 954.71L447.02 950.66L447.28 956.00L447.54 956.88L447.80 960.38L448.06 960.79L448.32 960.81L448.58 957.65L448.84 962.26L449.10 963.25L449.36 960.22L449.62 961.58L449.88 960.98L450.14 963.81L450.40 969.18L450.66 970.63L450.92 965.31L451.18 968.71L451.44 967.96L451.70 970.62L451.96 971.36L452.22 972.72L452.48 970.62L452.74 975.23L453.00 974.09L453.26 967.70L453.52 974.38L453.78 974.06L454.04 971.27L454.30 971.32L454.56 976.27L454.82 970.02L455.08 971.68L455.34 978.63L455.60 974.61L455.86 972.61L456.12 975.50L456.38 976.82L456.64 974.75L456.90 975.32L457.16 975.93L457.42 976.15L457.67 972.77L457.93 969.02L458.19 967.17L458.45 967.86L458.71 967.46L458.97 964.60L459.23 966.09L459.48 962.73L459.74 963.34L460.00 962.93L460.26 967.62L460.52 967.15L460.79 966.47L461.05 960.47L461.31 965.14L461.57 963.33L461.84 967.63L462.10 966.30L462.36 965.86L462.62 970.27L462.89 967.87L463.15 970.37L463.41 962.69L463.68 966.47L463.94 966.91L464.20 970.77L464.46 974.87L464.72 973.05L464.98 968.40L465.24 974.61L465.50 974.01L465.76 970.73L466.02 980.62L466.28 974.43L466.54 981.88L466.80 983.61L467.06 984.62L467.32 983.06L467.58 986.75L467.84 989.68L468.10 987.55L468.36 992.07L468.62 993.02L468.88 991.23L469.14 989.49L469.40 992.04L469.66 993.92L469.92 994.37L470.18 992.12L470.44 994.28L470.70 993.80L470.96 994.18L471.22 992.31L471.48 991.52L471.74 990.80L472.00 990.05L472.26 992.99L472.52 993.09L472.78 991.70L473.04 991.13L473.30 986.77L473.56 991.06L473.82 996.75L474.08 989.68L474.34 987.91L474.60 990.66L474.86 990.13L475.12 986.61L475.38 996.20L475.64 995.34L475.90 992.78L476.16 989.78L476.42 988.59L476.68 992.94L476.93 991.19L477.19 989.25L477.45 991.51L477.71 989.68L477.97 983.30L478.23 988.27L478.49 987.49L478.75 990.22L479.01 986.36L479.26 990.52L479.52 992.35L479.78 986.23L480.03 990.02L480.29 991.92L480.55 988.41L480.80 990.15L481.06 987.56L481.32 989.38L481.57 987.45L481.83 990.16L482.09 981.63L482.35 988.95L482.60 987.50L482.86 988.79L483.12 986.66L483.37 983.78L483.63 986.83L483.89 990.74L484.14 987.92L484.40 988.76L484.66 993.73L484.92 994.36L485.17 988.26L485.43 991.44L485.69 994.46L485.95 985.87L486.21 991.26L486.47 984.94L486.73 983.55L486.98 983.04L487.24 992.75L487.50 991.82L487.76 990.49L488.02 986.91L488.27 992.99L488.53 991.31L488.79 994.93L489.05 993.50L489.31 992.40L489.57 997.13L489.83 995.84L490.08 993.18L490.34 992.79L490.60 996.72L490.85 998.11L491.10 993.85L491.36 997.94L491.61 994.72L491.86 1002.16L492.11 1005.14L492.36 997.36L492.62 997.92L492.87 999.28L493.12 1007.32L493.37 1000.69L493.62 1006.65L493.88 999.91L494.13 1001.02L494.38 999.47L494.63 1002.89L494.88 1004.01L495.14 1001.06L495.39 1008.09L495.64 1009.10L495.89 1001.56L496.14 1002.93L496.40 1004.96L496.65 1007.71L496.90 1007.63L497.15 1003.81L497.41 1006.64L497.66 1009.90L497.92 1011.42L498.17 1006.65L498.42 1008.24L498.68 1009.42L498.93 1010.66L499.19 1009.27L499.44 1009.79L499.70 1014.60L499.95 1016.17L500.20 1011.68L500.46 1018.61L500.71 1014.25L500.97 1014.39L501.22 1018.93L501.48 1022.45L501.73 1015.59L501.98 1015.69L502.24 1017.91L502.49 1019.84L502.75 1022.60L503.00 1020.75L503.26 1019.27L503.51 1021.52L503.77 1017.40L504.02 1017.53L504.28 1016.62L504.54 1019.82L504.79 1011.00L505.05 1011.51L505.30 1013.39L505.56 1010.62L505.82 1018.01L506.07 1012.75L506.33 1011.75L506.58 1010.09L506.84 1010.37L507.10 1008.90L507.35 1007.73L507.61 1006.88L507.86 1008.92L508.12 1009.03L508.38 1008.04L508.63 1009.89L508.89 1006.37L509.14 1002.88L509.40 1003.49L509.65 1003.43L509.90 1004.95L510.15 1004.17L510.41 1006.13L510.66 1005.87L510.91 1007.43L511.16 1007.86L511.41 1005.59L511.66 1002.17L511.92 1003.98L512.17 1004.60L512.42 1002.16L512.67 1002.31L512.92 1011.20L513.17 1006.67L513.43 1009.17L513.68 1008.72L513.93 1009.88L514.18 1009.21L514.43 1010.26L514.68 1007.63L514.94 1008.27L515.19 1008.34L515.44 1006.18L515.69 1012.44L515.94 1016.68L516.19 1010.98L516.45 1013.36L516.70 1007.29L516.95 1012.09L517.20 1008.48L517.46 1010.67L517.72 1012.78L517.98 1013.41L518.23 1010.91L518.49 1010.79L518.75 1011.26L519.01 1013.67L519.27 1014.34L519.52 1010.38L519.78 1006.42L520.04 1014.19L520.30 1014.27L520.56 1013.22L520.82 1014.01L521.08 1015.91L521.33 1014.00L521.59 1019.30L521.85 1013.85L522.11 1011.21L522.37 1017.43L522.62 1011.90L522.88 1017.47L523.14 1018.57L523.40 1019.41L523.66 1018.90L523.91 1022.66L524.17 1021.36L524.42 1022.21L524.68 1028.65L524.93 1022.77L525.19 1028.49L525.44 1022.64L525.70 1019.73L525.96 1022.13L526.21 1027.37L526.47 1026.22L526.72 1024.17L526.98 1018.56L527.23 1028.11L527.49 1026.36L527.74 1024.62L528.00 1027.53L528.25 1026.67L528.51 1023.60L528.76 1020.49L529.01 1018.15L529.26 1018.63L529.52 1017.17L529.77 1021.93L530.02 1017.44L530.27 1019.74L530.53 1017.31L530.78 1010.66L531.03 1015.51L531.28 1014.38L531.54 1007.22L531.79 1012.79L532.04 1010.66L532.29 1012.42L532.55 1011.32L532.80 1006.89L533.06 1004.21L533.32 1001.60L533.58 999.32L533.84 1002.91L534.11 1001.25L534.37 999.59L534.63 998.66L534.89 1000.40L535.15 1004.40L535.41 997.96L535.67 1004.87L535.93 999.98L536.19 1002.01L536.46 997.90L536.72 1001.56L536.98 998.01L537.24 993.32L537.50 996.21L537.75 995.89L538.00 993.28L538.25 994.20L538.50 986.89L538.75 999.74L539.00 995.24L539.25 994.19L539.50 991.79L539.75 992.66L540.00 991.73L540.25 994.37L540.50 996.08L540.75 999.10L541.00 994.33L541.25 990.85L541.50 987.68L541.75 991.25L542.00 990.13L542.25 993.04L542.50 991.43L542.75 993.50L543.00 983.18L543.25 989.94L543.50 990.36L543.75 991.48L544.00 991.99L544.25 988.84L544.50 992.72L544.75 986.77L545.00 988.84L545.25 991.44L545.50 990.56L545.75 990.05L546.00 992.30L546.25 985.43L546.50 985.88L546.75 989.87L547.00 988.35L547.25 986.90L547.50 986.15L547.75 988.07L548.00 985.07L548.25 986.04L548.50 986.93L548.75 986.58L549.00 982.59L549.25 990.18L549.50 986.45L549.75 988.08L550.00 986.02L550.25 986.00L550.50 988.81L550.75 983.38L551.00 989.30L551.25 981.15L551.50 990.11L551.75 993.53L552.00 990.45L552.25 992.05L552.50 993.33L552.75 992.12L553.00 995.15L553.25 991.47L553.50 993.28L553.75 995.59L554.00 993.35L554.25 1000.60L554.50 999.22L554.75 996.30L555.00 999.91L555.25 1002.60L555.50 996.95L555.75 995.31L556.00 1001.86L556.25 1001.93L556.50 1008.21L556.75 1002.10L557.00 1000.75L557.25 1002.51L557.50 1007.55L557.75 1008.65L558.00 997.51L558.25 1003.96L558.50 1005.01L558.75 1005.42L559.00 1009.18L559.25 1010.16L559.50 1001.51L559.75 1014.90L560.00 1004.78L560.25 1007.74L560.50 1010.40L560.75 1009.47L561.00 1010.24L561.25 1014.51L561.50 1015.94L561.75 1013.02L562.00 1016.65L562.25 1008.32L562.50 1010.05L562.75 1007.81L563.00 1012.45L563.25 1013.79L563.50 1008.19L563.75 1004.72L564.00 1010.64L564.25 1009.41L564.50 1008.72L564.75 1005.21L565.00 1007.22L565.25 1005.35L565.50 1008.14L565.75 1006.71L566.00 1005.75L566.25 1002.39L566.50 1004.58L566.75 1003.71L567.00 1004.27L567.25 1002.02L567.50 999.71L567.75 1007.03L568.00 1007.33L568.25 1000.60L568.50 1002.75L568.75 1002.14L569.00 1000.27L569.25 1000.20L569.50 998.75L569.75 995.79L570.00 1000.46L570.25 1000.72L570.50 1000.72L570.75 1002.92L571.00 1000.97L571.25 997.94L571.50 1000.37L571.75 999.00L572.00 999.36L572.25 997.45L572.50 995.03L572.75 1001.53L573.00 1003.63L573.25 1003.58L573.50 1003.13L573.75 1001.24L574.00 997.04L574.25 1003.26L574.50 1003.28L574.75 998.09L575.00 998.97L575.25 1002.64L575.50 999.10L575.75 996.20L576.00 1003.59L576.25 1004.79L576.50 1000.76L576.75 1004.14L577.00 999.01L577.25 1004.87L577.50 999.12L577.75 1006.30L578.00 1004.44L578.25 1005.65L578.50 1003.31L578.75 1004.30L579.00 1010.62L579.25 1008.88L579.50 1008.48L579.75 1015.86L580.00 1008.97L580.25 1009.25L580.50 1010.15L580.75 1001.74L581.00 1004.70L581.25 1007.85L581.50 1017.59L581.76 1011.14L582.01 1010.35L582.26 1009.22L582.51 1010.71L582.77 1009.95L583.02 1003.84L583.27 1011.34L583.52 1013.07L583.78 1012.00L584.03 998.90L584.28 1005.31L584.54 1006.90L584.79 1008.13L585.04 1008.92L585.29 1011.34L585.55 1008.09L585.80 1010.28L586.05 1006.19L586.30 1011.85L586.56 1008.82L586.81 1009.89L587.06 1009.19L587.31 1006.19L587.57 1009.85L587.82 1008.58L588.07 1009.57L588.33 1004.93L588.58 1007.79L588.83 1010.19L589.08 1005.54L589.34 1010.84L589.59 1003.15L589.84 1010.05L590.09 1008.00L590.35 1006.04L590.60 1007.77L590.85 1008.54L591.10 1003.36L591.36 1007.49L591.61 1006.16L591.86 1003.53L592.11 1012.20L592.36 1002.87L592.62 1009.35L592.87 1013.91L593.12 1008.48L593.37 1014.75L593.62 1007.00L593.88 1005.71L594.13 1005.49L594.38 1001.03L594.63 1013.31L594.88 1009.05L595.14 1010.55L595.39 1013.05L595.64 1006.25L595.89 1014.57L596.14 1009.05L596.40 1009.02L596.65 1010.03L596.90 1009.23L597.15 1011.63L597.40 1009.65L597.65 1008.59L597.91 1008.85L598.16 1004.93L598.41 1006.55L598.66 1012.41L598.91 1003.82L599.16 1006.04L599.42 1006.00L599.67 1005.43L599.92 1007.97L600.17 1006.70L600.42 1006.41L600.67 1008.37L600.93 1005.53L601.18 1008.37L601.43 1006.24L601.68 1011.52L601.93 1001.00L602.18 1006.76L602.44 1002.34L602.69 1004.24L602.94 1003.91L603.19 1008.57L603.44 999.63L603.69 1006.36L603.95 1005.92L604.20 1005.10L604.45 1007.31L604.70 1002.81L604.96 1001.23L605.22 1001.13L605.48 1007.79L605.74 1009.51L606.01 1009.31L606.27 1007.63L606.53 1012.75L606.79 1008.19L607.05 1006.70L607.31 1009.65L607.57 1007.62L607.83 1012.74L608.09 1007.78L608.36 1006.49L608.62 1002.93L608.88 1012.70L609.14 1014.07L609.40 1013.14L609.66 1015.39L609.92 1013.34L610.17 1011.76L610.43 1013.03L610.69 1011.13L610.95 1018.61L611.21 1016.38L611.47 1018.83L611.73 1017.95L611.98 1015.91L612.24 1017.87L612.50 1021.39L612.76 1019.12L613.02 1021.95L613.27 1017.97L613.53 1024.17L613.79 1025.13L614.05 1021.69L614.31 1027.84L614.57 1028.88L614.83 1014.84L615.08 1021.28L615.34 1022.48L615.60 1025.99L615.86 1025.59L616.12 1023.93L616.38 1025.87L616.64 1026.35L616.89 1025.78L617.15 1029.87L617.41 1028.58L617.67 1030.75L617.93 1024.24L618.19 1033.45L618.45 1029.27L618.71 1030.87L618.96 1028.86L619.22 1034.04L619.48 1035.99L619.74 1026.90L620.00 1031.75L620.26 1026.16L620.52 1029.49L620.79 1030.45L621.05 1024.79L621.31 1031.17L621.58 1029.61L621.84 1029.63L622.10 1023.98L622.36 1024.66L622.62 1022.90L622.89 1023.15L623.15 1023.28L623.41 1020.69L623.68 1018.91L623.94 1017.84L624.20 1018.28L624.46 1016.68L624.71 1018.03L624.97 1020.60L625.23 1024.54L625.48 1025.20L625.74 1019.69L625.99 1026.93L626.25 1028.33L626.51 1031.39L626.76 1029.18L627.02 1031.60L627.27 1031.18L627.53 1035.57L627.79 1032.51L628.04 1034.77L628.30 1038.64L628.56 1039.90L628.82 1039.57L629.09 1033.36L629.35 1035.40L629.61 1036.61L629.88 1036.80L630.14 1032.32L630.40 1036.89L630.66 1038.46L630.92 1035.02L631.19 1034.98L631.45 1032.03L631.71 1027.01L631.98 1033.53L632.24 1030.40L632.50 1031.79L632.75 1041.54L633.01 1035.69L633.26 1036.84L633.52 1034.76L633.77 1040.03L634.02 1039.92L634.28 1045.06L634.53 1042.94L634.78 1040.01L635.04 1044.20L635.29 1041.61L635.55 1046.37L635.80 1049.01L636.06 1050.56L636.32 1047.69L636.59 1050.11L636.85 1056.26L637.11 1052.36L637.38 1054.12L637.64 1053.56L637.90 1058.11L638.16 1052.04L638.42 1051.75L638.69 1055.09L638.95 1054.21L639.21 1055.91L639.48 1058.80L639.74 1050.79L640.00 1057.67L640.26 1056.39L640.52 1048.72L640.79 1059.66L641.05 1063.38L641.31 1059.78L641.58 1057.84L641.84 1061.59L642.10 1055.93L642.36 1067.27L642.62 1058.47L642.89 1062.45L643.15 1061.95L643.41 1070.63L643.68 1063.73L643.94 1067.39L644.20 1063.83L644.46 1061.66L644.71 1067.26L644.97 1067.86L645.23 1069.35L645.48 1073.42L645.74 1071.51L645.99 1072.45L646.25 1070.81L646.51 1073.79L646.76 1074.64L647.02 1077.07L647.27 1080.55L647.53 1076.43L647.79 1076.27L648.04 1079.53L648.30 1078.57L648.56 1081.72L648.82 1081.16L649.08 1077.62L649.35 1077.83L649.61 1079.02L649.87 1079.61L650.13 1077.30L650.39 1081.25L650.65 1080.77L650.92 1075.38L651.18 1074.06L651.44 1071.89L651.70 1075.17L651.95 1072.25L652.21 1072.82L652.46 1072.47L652.72 1073.37L652.97 1069.57L653.22 1072.67L653.48 1067.17L653.73 1067.37L653.98 1063.14L654.24 1062.41L654.49 1061.71L654.75 1054.26L655.00 1057.81L655.25 1061.93L655.50 1059.38L655.75 1057.27L656.00 1057.61L656.25 1054.77L656.50 1056.20L656.75 1057.14L657.00 1051.07L657.25 1053.82L657.50 1050.99L657.75 1053.85L658.00 1052.37L658.25 1053.08L658.50 1057.06L658.75 1051.35L659.00 1046.77L659.25 1047.19L659.50 1050.59L659.75 1049.79L660.00 1046.80L660.25 1044.27L660.50 1043.85L660.75 1042.36L661.00 1044.50L661.25 1039.00L661.50 1038.99L661.75 1040.07L662.00 1038.30L662.25 1041.73L662.50 1038.62L662.75 1039.03L663.00 1040.77L663.25 1035.44L663.50 1028.57L663.75 1033.78L664.00 1029.86L664.25 1031.20L664.50 1031.59L664.75 1024.89L665.00 1027.85L665.25 1026.25L665.50 1029.98L665.75 1032.43L666.00 1033.60L666.25 1030.63L666.50 1035.83L666.75 1034.18L667.00 1032.11L667.25 1031.93L667.50 1037.09L667.75 1038.73L668.00 1034.44L668.25 1040.17L668.50 1036.55L668.75 1037.57L669.00 1037.78L669.25 1036.45L669.50 1036.37L669.75 1037.60L670.00 1039.41L670.28 1044.34L670.57 1042.24L670.85 1049.50L671.13 1048.06L671.42 1053.57L671.70 1054.25L671.95 1052.47L672.21 1055.92L672.46 1048.46L672.72 1052.54L672.97 1052.71L673.22 1054.51L673.48 1059.25L673.73 1059.96L673.98 1054.95L674.24 1054.98L674.49 1050.97L674.75 1047.54L675.00 1056.34L675.25 1053.04L675.51 1054.70L675.76 1051.99L676.02 1050.55L676.27 1054.27L676.52 1058.08L676.78 1058.99L677.03 1060.82L677.28 1057.37L677.54 1055.91L677.79 1056.35L678.05 1062.12L678.30 1058.17L678.55 1059.47L678.80 1059.52L679.05 1069.37L679.30 1063.08L679.55 1074.77L679.80 1072.96L680.05 1075.48L680.30 1079.89L680.55 1077.65L680.80 1084.72L681.05 1087.16L681.30 1084.02L681.55 1090.98L681.80 1083.99L682.05 1091.19L682.30 1087.59L682.55 1082.54L682.80 1087.73L683.05 1092.91L683.30 1083.85L683.55 1088.23L683.80 1088.21L684.05 1094.60L684.30 1089.57L684.55 1092.68L684.80 1094.15L685.05 1093.47L685.30 1093.86L685.55 1092.36L685.80 1095.83L686.06 1091.83L686.32 1088.84L686.59 1092.56L686.85 1101.95L687.11 1095.84L687.38 1095.14L687.64 1095.31L687.90 1096.44L688.16 1096.88L688.42 1094.76L688.69 1093.46L688.95 1096.79L689.21 1096.37L689.48 1090.19L689.74 1094.33L690.00 1094.06L690.26 1089.05L690.52 1090.46L690.79 1090.84L691.05 1094.23L691.31 1086.22L691.58 1091.26L691.84 1087.23L692.10 1087.36L692.36 1084.92L692.62 1081.78L692.89 1087.22L693.15 1080.01L693.41 1084.30L693.68 1083.06L693.94 1078.58L694.20 1079.14L694.45 1080.80L694.71 1082.17L694.96 1082.90L695.22 1084.38L695.47 1089.98L695.72 1085.15L695.98 1088.66L696.23 1089.63L696.48 1083.78L696.74 1090.41L696.99 1090.03L697.25 1091.46L697.50 1090.53L697.75 1093.98L698.00 1088.87L698.25 1097.52L698.50 1084.84L698.75 1091.49L699.00 1096.41L699.25 1094.33L699.50 1099.00L699.75 1098.26L700.00 1100.78L700.25 1099.39L700.50 1100.12L700.75 1099.70L701.00 1099.49L701.25 1107.94L701.50 1101.33L701.75 1105.71L702.00 1106.54L702.25 1107.16L702.50 1106.04L702.76 1108.21L703.02 1102.49L703.29 1109.59L703.55 1101.49L703.81 1104.46L704.08 1103.20L704.34 1103.48L704.60 1100.46L704.86 1096.10L705.12 1098.26L705.39 1094.17L705.65 1098.18L705.91 1093.14L706.18 1091.05L706.44 1096.04L706.70 1095.09L706.96 1096.74L707.21 1095.52L707.47 1091.83L707.73 1093.65L707.98 1093.01L708.24 1093.16L708.49 1095.18L708.75 1101.08L709.01 1098.71L709.26 1099.77L709.52 1097.71L709.77 1093.71L710.03 1097.42L710.29 1103.93L710.54 1100.39L710.80 1099.64L711.05 1097.08L711.30 1095.44L711.55 1100.68L711.80 1097.68L712.05 1103.07L712.30 1104.63L712.55 1105.39L712.80 1109.58L713.05 1104.69L713.30 1106.50L713.55 1100.54L713.80 1110.46L714.05 1108.10L714.30 1112.52L714.55 1108.05L714.80 1111.82L715.05 1112.57L715.30 1115.25L715.55 1116.18L715.80 1112.86L716.06 1106.70L716.32 1114.71L716.57 1117.66L716.83 1108.14L717.09 1115.60L717.35 1114.82L717.60 1114.25L717.86 1118.77L718.12 1116.34L718.38 1111.98L718.63 1114.30L718.89 1114.88L719.15 1113.38L719.41 1115.71L719.67 1113.10L719.92 1111.84L720.18 1112.30L720.44 1115.70L720.70 1120.59L720.95 1113.25L721.21 1118.14L721.47 1109.96L721.73 1114.80L721.98 1111.56L722.24 1117.25L722.50 1117.88L722.75 1118.45L723.00 1112.51L723.25 1118.19L723.50 1116.45L723.75 1112.61L724.00 1116.17L724.25 1112.31L724.50 1118.02L724.75 1114.78L725.00 1114.38L725.25 1116.41L725.50 1112.14L725.75 1119.64L726.00 1115.05L726.25 1118.36L726.50 1115.47L726.75 1115.88L727.00 1114.96L727.25 1109.47L727.50 1113.78L727.76 1116.35L728.01 1115.86L728.27 1112.97L728.52 1116.31L728.78 1118.77L729.03 1118.30L729.29 1118.41L729.54 1121.04L729.80 1119.50L730.06 1120.54L730.31 1122.51L730.57 1123.19L730.82 1124.40L731.08 1123.51L731.33 1118.43L731.59 1127.82L731.84 1126.17L732.10 1125.81L732.35 1131.45L732.60 1137.54L732.85 1146.94L733.10 1153.23L733.35 1157.61L733.60 1164.15L733.86 1165.31L734.12 1163.92L734.38 1165.26L734.64 1166.11L734.91 1166.51L735.17 1166.25L735.43 1166.93L735.69 1167.01L735.95 1169.93L736.21 1168.01L736.47 1161.79L736.73 1164.74L736.99 1161.95L737.26 1164.41L737.52 1163.83L737.78 1163.31L738.04 1163.51L738.30 1166.09L738.55 1167.37L738.80 1159.52L739.06 1166.81L739.31 1165.45L739.56 1163.91L739.81 1168.22L740.06 1166.37L740.32 1165.65L740.57 1166.36L740.82 1163.05L741.07 1159.20L741.32 1165.56L741.58 1160.54L741.83 1162.93L742.08 1163.65L742.33 1159.71L742.58 1161.31L742.84 1163.75L743.09 1155.18L743.34 1156.62L743.59 1161.98L743.84 1161.87L744.10 1158.52L744.35 1157.67L744.60 1158.98L744.86 1161.90L745.12 1157.23L745.38 1156.97L745.63 1158.18L745.89 1157.86L746.15 1156.85L746.41 1164.70L746.67 1156.40L746.92 1162.10L747.18 1163.22L747.44 1160.59L747.70 1166.58L747.96 1159.26L748.22 1161.30L748.48 1161.54L748.73 1163.71L748.99 1160.04L749.25 1160.00L749.51 1158.85L749.77 1163.18L750.02 1162.90L750.28 1163.26L750.54 1156.12L750.80 1163.44L751.05 1160.16L751.30 1166.34L751.56 1163.85L751.81 1160.68L752.06 1171.26L752.31 1169.66L752.56 1167.23L752.82 1162.27L753.07 1162.62L753.32 1163.14L753.57 1163.03L753.82 1167.82L754.08 1168.88L754.33 1170.55L754.58 1170.18L754.83 1166.50L755.08 1163.26L755.34 1160.14L755.59 1170.68L755.84 1169.77L756.09 1170.55L756.34 1174.56L756.60 1166.77L756.85 1174.38L757.10 1169.81L757.36 1169.49L757.62 1169.57L757.88 1169.45L758.13 1173.37L758.39 1169.37L758.65 1172.81L758.91 1166.98L759.17 1167.49L759.42 1169.58L759.68 1168.45L759.94 1167.98L760.20 1169.01L760.46 1166.58L760.72 1160.83L760.98 1168.91L761.23 1164.27L761.49 1165.53L761.75 1160.80L762.01 1165.73L762.27 1164.33L762.52 1163.45L762.78 1163.67L763.04 1168.77L763.30 1161.48L763.56 1160.14L763.82 1158.17L764.08 1163.47L764.34 1160.58L764.60 1164.34L764.86 1160.30L765.12 1158.67L765.38 1159.92L765.64 1153.30L765.90 1159.90L766.16 1161.93L766.42 1157.58L766.68 1157.04L766.94 1150.90L767.20 1161.99L767.46 1158.94L767.72 1158.39L767.98 1157.64L768.24 1154.72L768.50 1158.22L768.75 1159.57L769.00 1155.84L769.25 1153.82L769.50 1151.16L769.75 1154.05L770.00 1158.44L770.25 1155.98L770.50 1156.55L770.75 1154.59L771.00 1154.16L771.25 1154.63L771.50 1152.17L771.75 1156.89L772.00 1153.38L772.25 1150.47L772.50 1150.30L772.75 1151.58L773.00 1154.87L773.25 1153.66L773.50 1149.46L773.75 1156.67L774.00 1156.97L774.25 1153.26L774.50 1144.97L774.75 1146.49L775.00 1152.98L775.25 1152.32L775.50 1146.95L775.75 1149.71L776.00 1151.03L776.25 1151.71L776.50 1150.87L776.75 1147.64L777.00 1143.63L777.25 1146.56L777.50 1147.76L777.75 1149.35L778.00 1149.21L778.25 1148.02L778.50 1147.07L778.75 1149.78L779.00 1146.93L779.25 1150.94L779.50 1144.56L779.75 1149.07L780.00 1147.32L780.25 1152.02L780.50 1148.60L780.75 1145.96L781.00 1145.80L781.25 1149.30L781.50 1150.42L781.75 1151.42L782.00 1154.46L782.25 1150.84L782.50 1144.43L782.75 1144.65L783.00 1155.92L783.25 1149.49L783.50 1149.86L783.75 1148.49L784.00 1151.28L784.25 1153.33L784.50 1153.37L784.75 1149.83L785.00 1151.73L785.25 1154.76L785.50 1156.74L785.75 1149.51L786.00 1147.22L786.25 1151.17L786.50 1151.56L786.75 1150.11L787.00 1155.19L787.25 1149.02L787.50 1147.30L787.75 1154.05L788.00 1146.12L788.25 1146.80L788.50 1151.67L788.75 1149.86L789.00 1146.41L789.25 1147.70L789.50 1145.55L789.75 1144.09L790.00 1146.06L790.25 1144.00L790.50 1142.98L790.75 1143.71L791.00 1143.01L791.25 1146.62L791.50 1144.43L791.75 1144.45L792.00 1141.75L792.25 1137.13L792.50 1142.47L792.75 1144.60L793.00 1147.00L793.25 1147.43L793.51 1140.99L793.76 1142.24L794.01 1140.33L794.26 1142.45L794.51 1145.24L794.76 1140.64L795.02 1141.87L795.27 1143.20L795.52 1138.85L795.77 1143.22L796.02 1138.97L796.27 1143.27L796.52 1142.14L796.78 1139.29L797.03 1150.15L797.28 1142.72L797.53 1144.50L797.78 1139.67L798.03 1140.87L798.28 1143.40L798.54 1143.38L798.79 1135.78L799.04 1140.31L799.29 1141.13L799.54 1145.66L799.79 1137.46L800.05 1139.43L800.30 1140.86L800.55 1142.74L800.80 1139.88L801.06 1142.41L801.32 1139.41L801.57 1138.68L801.83 1140.83L802.09 1140.49L802.35 1145.43L802.61 1137.62L802.87 1145.21L803.12 1141.69L803.38 1138.28L803.64 1137.24L803.90 1142.52L804.16 1142.22L804.42 1140.00L804.67 1138.96L804.93 1141.72L805.19 1142.48L805.45 1144.43L805.71 1143.09L805.97 1144.37L806.23 1143.27L806.48 1145.07L806.74 1141.17L807.00 1143.37L807.25 1146.94L807.50 1141.75L807.76 1138.93L808.01 1139.95L808.26 1145.30L808.51 1140.74L808.76 1140.10L809.02 1143.79L809.27 1144.70L809.52 1139.89L809.77 1139.02L810.02 1139.95L810.28 1133.34L810.53 1141.82L810.78 1134.33L811.03 1139.92L811.28 1133.44L811.54 1136.24L811.79 1135.09L812.04 1128.52L812.29 1132.55L812.54 1133.13L812.80 1130.16L813.05 1133.86L813.30 1132.91L813.55 1129.60L813.80 1130.42L814.06 1131.69L814.31 1130.63L814.56 1130.15L814.81 1130.76L815.06 1129.57L815.31 1131.76L815.57 1132.76L815.82 1127.15L816.07 1131.68L816.32 1130.81L816.57 1133.78L816.82 1131.87L817.08 1133.42L817.33 1128.97L817.58 1130.05L817.83 1130.01L818.08 1124.77L818.33 1126.75L818.59 1128.98L818.84 1128.74L819.09 1130.55L819.34 1123.53L819.59 1124.87L819.84 1131.37L820.10 1125.72L820.35 1139.81L820.60 1128.62L820.86 1126.10L821.12 1128.14L821.38 1126.95L821.64 1131.20L821.90 1127.45L822.16 1131.63L822.42 1126.81L822.68 1127.74L822.94 1133.31L823.20 1131.16L823.46 1129.97L823.72 1129.86L823.98 1127.73L824.24 1132.84L824.50 1124.60L824.76 1131.50L825.02 1129.43L825.28 1133.47L825.54 1133.20L825.80 1131.69L826.05 1131.78L826.31 1132.30L826.56 1137.89L826.82 1132.36L827.07 1128.95L827.33 1132.37L827.58 1135.08L827.84 1139.27L828.09 1132.41L828.35 1136.39L828.60 1132.77L828.85 1132.42L829.11 1139.36L829.36 1133.37L829.62 1140.74L829.87 1134.55L830.13 1136.10L830.38 1132.66L830.64 1134.21L830.89 1138.27L831.15 1135.60L831.40 1132.81L831.65 1135.61L831.91 1137.49L832.16 1138.91L832.42 1143.64L832.67 1136.21L832.93 1137.63L833.18 1136.02L833.44 1135.31L833.69 1140.60L833.95 1143.53L834.20 1137.97L834.45 1139.28L834.70 1139.86L834.95 1139.50L835.21 1138.49L835.46 1135.88L835.71 1138.86L835.96 1139.88L836.21 1136.41L836.46 1139.98L836.72 1141.19L836.97 1130.84L837.22 1137.88L837.47 1133.80L837.72 1142.63L837.97 1136.05L838.22 1134.80L838.48 1139.91L838.73 1139.50L838.98 1139.18L839.23 1137.97L839.48 1143.50L839.73 1136.54L839.98 1136.30L840.24 1142.33L840.49 1139.37L840.74 1139.39L840.99 1138.74L841.24 1139.92L841.49 1134.42L841.75 1129.26L842.00 1136.77L842.25 1131.26L842.50 1138.92L842.75 1136.72L843.00 1138.67L843.25 1137.91L843.50 1134.09L843.75 1139.03L844.00 1140.43L844.25 1137.63L844.50 1140.66L844.75 1138.41L845.00 1139.38L845.25 1139.70L845.50 1139.25L845.75 1137.66L846.00 1137.39L846.25 1136.74L846.50 1141.24L846.75 1137.34L847.00 1143.47L847.25 1134.98L847.50 1147.65L847.75 1138.48L848.00 1141.20L848.25 1142.43L848.50 1141.27L848.75 1139.88L849.00 1137.10L849.25 1137.21L849.50 1137.96L849.75 1143.37L850.00 1142.10L850.25 1144.14L850.50 1138.44L850.75 1144.73L851.00 1140.53L851.25 1137.65L851.50 1145.37L851.75 1143.24L852.00 1137.85L852.25 1142.18L852.50 1143.04L852.75 1141.30L853.00 1142.90L853.25 1143.26L853.50 1144.89L853.75 1143.20L854.00 1145.25L854.25 1144.42L854.50 1142.41L854.75 1146.64L855.00 1141.11L855.25 1142.18L855.50 1148.12L855.75 1141.15L856.00 1148.95L856.25 1148.32L856.50 1141.07L856.75 1151.01L857.00 1146.92L857.25 1148.05L857.50 1142.68L857.76 1152.26L858.01 1148.08L858.26 1143.73L858.51 1149.24L858.76 1146.77L859.02 1149.39L859.27 1151.05L859.52 1148.67L859.77 1150.36L860.02 1149.52L860.28 1147.76L860.53 1148.58L860.78 1151.71L861.03 1152.45L861.28 1152.65L861.54 1150.60L861.79 1153.76L862.04 1147.35L862.29 1149.39L862.54 1148.24L862.80 1149.97L863.05 1152.40L863.30 1152.55L863.55 1153.16L863.80 1146.64L864.06 1151.08L864.31 1149.14L864.56 1155.32L864.81 1149.09L865.06 1150.85L865.31 1147.66L865.57 1150.51L865.82 1151.83L866.07 1147.74L866.32 1143.57L866.57 1150.44L866.82 1156.57L867.08 1154.41L867.33 1144.40L867.58 1152.79L867.83 1146.33L868.08 1150.17L868.33 1150.45L868.59 1146.05L868.84 1146.61L869.09 1146.33L869.34 1155.78L869.59 1148.46L869.84 1146.11L870.10 1148.50L870.35 1150.67L870.60 1147.90L870.85 1150.37L871.11 1146.36L871.36 1144.94L871.62 1142.23L871.87 1145.04L872.13 1145.83L872.38 1144.04L872.64 1145.96L872.89 1143.87L873.15 1146.87L873.40 1141.08L873.65 1142.09L873.91 1144.71L874.16 1132.16L874.42 1143.14L874.67 1141.51L874.93 1140.94L875.18 1144.31L875.44 1135.76L875.69 1139.45L875.95 1139.84L876.20 1137.32L876.45 1134.45L876.71 1140.00L876.96 1139.81L877.22 1139.32L877.47 1136.88L877.73 1130.21L877.98 1134.83L878.24 1136.00L878.49 1132.80L878.75 1132.47L879.00 1134.25L879.25 1138.14L879.51 1129.97L879.76 1137.06L880.02 1133.92L880.27 1136.53L880.52 1129.19L880.78 1135.47L881.03 1135.88L881.28 1136.77L881.54 1133.65L881.79 1136.07L882.05 1131.11L882.30 1137.54L882.55 1130.97L882.81 1135.89L883.06 1140.34L883.32 1133.81L883.57 1135.81L883.82 1129.86L884.08 1132.94L884.33 1129.02L884.58 1130.56L884.84 1137.98L885.09 1136.04L885.35 1135.47L885.60 1136.26L885.86 1133.94L886.12 1133.75L886.38 1133.65L886.64 1135.86L886.90 1135.24L887.16 1138.44L887.42 1134.54L887.68 1129.74L887.94 1130.88L888.20 1134.35L888.46 1130.54L888.72 1129.44L888.98 1125.95L889.24 1128.74L889.50 1129.90L889.76 1130.40L890.02 1131.63L890.28 1126.26L890.54 1130.61L890.80 1129.79L891.05 1129.41L891.31 1128.39L891.56 1130.21L891.82 1123.29L892.07 1129.96L892.33 1124.16L892.58 1126.75L892.84 1133.48L893.09 1130.48L893.35 1125.74L893.60 1127.37L893.85 1126.14L894.11 1123.67L894.36 1121.72L894.62 1127.40L894.87 1122.44L895.13 1125.86L895.38 1124.85L895.64 1123.21L895.89 1123.08L896.15 1114.67L896.40 1123.50L896.65 1123.93L896.91 1120.24L897.16 1123.74L897.42 1117.85L897.67 1119.59L897.93 1118.21L898.18 1119.46L898.44 1116.12L898.69 1123.98L898.95 1119.53L899.20 1117.23L899.46 1120.10L899.72 1120.44L899.98 1114.61L900.23 1120.18L900.49 1115.97L900.75 1119.28L901.01 1116.95L901.27 1118.04L901.52 1123.52L901.78 1116.81L902.04 1117.56L902.30 1119.82L902.56 1120.58L902.82 1114.24L903.08 1118.13L903.33 1114.45L903.59 1119.01L903.85 1118.22L904.11 1114.78L904.37 1120.32L904.62 1117.40L904.88 1118.59L905.14 1119.81L905.40 1116.49L905.66 1116.39L905.92 1119.03L906.19 1120.85L906.45 1115.80L906.71 1118.55L906.98 1118.66L907.24 1110.56L907.50 1114.52L907.76 1111.62L908.02 1117.10L908.29 1113.45L908.55 1111.44L908.81 1117.92L909.08 1105.88L909.34 1109.35L909.60 1109.39L909.86 1110.61L910.12 1108.89L910.38 1111.75L910.64 1104.21L910.90 1108.68L911.16 1110.47L911.42 1105.97L911.67 1107.47L911.93 1106.41L912.19 1103.18L912.45 1107.79L912.71 1103.39L912.97 1107.45L913.23 1105.93L913.49 1100.15L913.75 1101.76L914.00 1101.91L914.25 1105.57L914.50 1101.51L914.75 1099.77L915.00 1099.13L915.25 1101.79L915.50 1101.12L915.75 1099.30L916.00 1096.82L916.25 1105.49L916.50 1101.01L916.75 1099.82L917.00 1100.95L917.25 1094.52L917.50 1100.32L917.75 1096.87L918.00 1099.68L918.25 1093.89L918.50 1097.44L918.75 1096.24L919.00 1101.28L919.25 1096.25L919.50 1096.12L919.75 1091.48L920.00 1094.94L920.25 1092.57L920.50 1093.61L920.75 1093.85L921.01 1094.98L921.26 1095.01L921.51 1093.97L921.76 1095.48L922.01 1090.91L922.26 1096.08L922.52 1092.13L922.77 1087.03L923.02 1092.22L923.27 1093.70L923.52 1094.28L923.77 1090.13L924.02 1094.47L924.28 1091.53L924.53 1092.90L924.78 1089.81L925.03 1094.54L925.28 1095.69L925.53 1089.15L925.78 1092.07L926.04 1093.83L926.29 1096.08L926.54 1090.62L926.79 1091.10L927.04 1092.45L927.29 1092.83L927.55 1094.01L927.80 1091.01L928.05 1093.63L928.30 1091.62L928.55 1088.07L928.81 1091.79L929.06 1091.82L929.32 1088.26L929.57 1091.17L929.83 1089.18L930.08 1092.90L930.34 1090.51L930.59 1089.02L930.85 1090.21L931.10 1085.26L931.35 1086.66L931.61 1091.86L931.86 1090.35L932.12 1085.58L932.37 1085.67L932.63 1085.63L932.88 1087.08L933.14 1085.80L933.39 1086.74L933.65 1093.32L933.90 1089.91L934.15 1087.67L934.41 1086.29L934.66 1082.92L934.92 1088.24L935.17 1086.15L935.43 1081.33L935.68 1085.70L935.94 1082.63L936.19 1086.42L936.45 1085.40L936.70 1084.56L936.95 1082.12L937.20 1084.69L937.46 1088.56L937.71 1085.08L937.96 1083.64L938.21 1087.97L938.46 1083.30L938.72 1086.66L938.97 1086.22L939.22 1075.82L939.47 1089.88L939.72 1084.46L939.98 1083.53L940.23 1080.56L940.48 1084.83L940.73 1081.80L940.98 1085.32L941.24 1089.07L941.49 1086.33L941.74 1085.68L941.99 1084.14L942.24 1083.17L942.50 1086.75L942.75 1081.80L943.00 1085.65L943.25 1081.83L943.50 1083.05L943.75 1087.21L944.00 1083.95L944.25 1081.69L944.50 1082.38L944.75 1079.09L945.00 1082.01L945.25 1081.53L945.50 1082.70L945.75 1089.60L946.00 1081.92L946.25 1080.23L946.50 1083.77L946.75 1077.91L947.00 1085.12L947.25 1082.90L947.50 1080.98L947.75 1083.89L948.00 1083.75L948.25 1082.59L948.50 1080.94L948.75 1084.88L949.00 1081.95L949.25 1080.25L949.50 1079.43L949.75 1077.76L950.00 1081.42L950.25 1083.88L950.50 1072.40L950.75 1083.16L951.00 1079.83L951.25 1079.30L951.50 1079.87L951.75 1076.35L952.00 1082.29L952.25 1078.73L952.50 1081.77L952.75 1079.95L953.00 1079.94L953.25 1072.86L953.50 1081.24L953.75 1074.71L954.00 1079.81L954.25 1073.30L954.50 1077.36L954.75 1076.34L955.00 1079.12L955.25 1081.05L955.50 1076.28L955.75 1078.93L956.00 1075.04L956.25 1074.11L956.50 1078.51L956.75 1078.91L957.00 1081.96L957.25 1073.10L957.50 1076.65L957.75 1074.17L958.00 1080.83L958.25 1079.12L958.50 1075.24L958.75 1073.44L959.00 1075.61L959.26 1075.71L959.51 1076.59L959.76 1077.73L960.01 1071.54L960.26 1075.96L960.51 1074.63L960.77 1075.13L961.02 1078.37L961.27 1075.90L961.52 1075.63L961.77 1075.96L962.02 1070.03L962.28 1075.46L962.53 1071.42L962.78 1073.95L963.03 1070.68L963.28 1072.56L963.53 1074.90L963.79 1075.33L964.04 1072.18L964.29 1081.73L964.54 1075.33L964.79 1078.04L965.04 1077.51L965.30 1073.47L965.55 1073.98L965.80 1075.78L966.05 1077.72L966.31 1072.02L966.56 1075.32L966.82 1075.62L967.07 1074.94L967.33 1079.54L967.58 1082.68L967.84 1068.36L968.09 1075.91L968.35 1072.27L968.60 1072.85L968.85 1076.81L969.11 1076.41L969.36 1075.50L969.62 1067.35L969.87 1070.56L970.13 1079.95L970.38 1071.31L970.64 1075.09L970.89 1072.59L971.15 1071.15L971.40 1071.93L971.65 1077.65L971.91 1075.17L972.16 1073.89L972.42 1077.22L972.67 1070.40L972.93 1065.72L973.18 1074.64L973.44 1072.70L973.69 1071.47L973.95 1073.64L974.20 1072.86L974.45 1072.77L974.70 1074.72L974.95 1070.83L975.21 1073.37L975.46 1068.95L975.71 1077.70L975.96 1073.56L976.21 1074.05L976.46 1078.11L976.71 1070.19L976.96 1069.37L977.22 1073.35L977.47 1073.72L977.72 1075.51L977.97 1074.04L978.22 1071.17L978.47 1072.72L978.72 1076.27L978.98 1065.96L979.23 1076.31L979.48 1074.42L979.73 1072.89L979.98 1082.43L980.23 1073.98L980.48 1072.82L980.74 1077.41L980.99 1077.51L981.24 1076.60L981.49 1075.84L981.74 1075.13L981.99 1078.78L982.24 1072.91L982.49 1078.99L982.75 1080.21L983.00 1071.61L983.25 1072.90L983.50 1076.05L983.75 1080.01L984.01 1075.47L984.26 1070.85L984.52 1078.66L984.77 1072.28L985.02 1071.15L985.28 1076.42L985.53 1067.11L985.79 1075.93L986.04 1071.91L986.29 1072.08L986.55 1073.95L986.80 1069.48L987.06 1074.77L987.31 1070.32L987.56 1074.75L987.82 1073.10L988.07 1074.52L988.33 1072.45L988.58 1072.79L988.84 1065.27L989.09 1068.56L989.34 1074.39L989.60 1066.27L989.85 1074.75L990.11 1072.62L990.36 1070.02L990.61 1068.50L990.87 1069.48L991.12 1067.93L991.38 1076.25L991.63 1066.39L991.88 1071.02L992.14 1071.65L992.39 1073.89L992.65 1064.22L992.90 1068.95L993.15 1062.77L993.40 1067.83L993.66 1066.32L993.91 1065.26L994.16 1065.18L994.41 1068.46L994.66 1067.49L994.92 1062.74L995.17 1068.33L995.42 1068.25L995.67 1062.68L995.92 1065.68L996.18 1062.48L996.43 1062.89L996.68 1056.58L996.93 1062.24L997.18 1061.57L997.44 1060.70L997.69 1063.07L997.94 1055.74L998.19 1058.28L998.44 1059.99L998.70 1051.15L998.95 1057.07L999.20 1058.23L999.46 1058.90L999.72 1057.83L999.98 1058.59L1000.23 1053.29L1000.49 1060.12L1000.75 1056.29L1001.01 1058.49L1001.27 1055.60L1001.52 1052.90L1001.78 1060.57L1002.04 1055.60L1002.30 1058.18L1002.56 1055.53L1002.82 1046.75L1003.08 1055.73L1003.33 1054.60L1003.59 1057.25L1003.85 1050.63L1004.11 1052.32L1004.37 1053.10L1004.62 1058.54L1004.88 1053.17L1005.14 1051.56L1005.40 1053.15L1005.65 1052.09L1005.90 1048.38L1006.16 1049.59L1006.41 1055.72L1006.66 1052.69L1006.91 1051.81L1007.16 1053.70L1007.42 1054.97L1007.67 1053.68L1007.92 1052.34L1008.17 1050.47L1008.42 1051.79L1008.68 1050.01L1008.93 1053.53L1009.18 1054.38L1009.43 1054.80L1009.68 1050.41L1009.94 1053.71L1010.19 1046.29L1010.44 1048.85L1010.69 1056.37L1010.94 1047.49L1011.20 1050.67L1011.45 1049.97L1011.70 1049.41L1011.95 1054.89L1012.20 1044.79L1012.45 1051.46L1012.71 1044.43L1012.96 1046.35L1013.21 1048.79L1013.46 1046.55L1013.71 1052.10L1013.96 1050.14L1014.22 1048.13L1014.47 1042.32L1014.72 1047.32L1014.97 1053.09L1015.22 1049.00L1015.47 1048.13L1015.72 1049.86L1015.98 1050.99L1016.23 1050.48L1016.48 1044.96L1016.73 1046.16L1016.98 1051.91L1017.23 1048.57L1017.48 1044.63L1017.74 1048.85L1017.99 1048.37L1018.24 1050.48L1018.49 1045.17L1018.74 1052.58L1018.99 1050.23L1019.25 1046.67L1019.50 1046.42L1019.75 1050.83L1020.00 1048.78L1020.25 1048.02L1020.50 1049.20L1020.75 1043.96L1021.01 1044.94L1021.26 1042.99L1021.51 1046.00L1021.76 1040.80L1022.01 1046.39L1022.26 1046.73L1022.52 1048.48L1022.77 1045.50L1023.02 1042.95L1023.27 1045.32L1023.52 1054.50L1023.77 1048.46L1024.02 1050.20L1024.28 1036.93L1024.53 1046.42L1024.78 1048.89L1025.03 1048.34L1025.28 1048.33L1025.53 1045.65L1025.78 1038.59L1026.04 1042.54L1026.29 1043.73L1026.54 1044.32L1026.79 1045.32L1027.04 1047.42L1027.29 1044.48L1027.55 1044.79L1027.80 1040.93L1028.05 1044.70L1028.30 1042.23L1028.55 1045.48L1028.81 1046.27L1029.06 1042.53L1029.32 1041.27L1029.57 1043.08L1029.83 1044.53L1030.08 1040.41L1030.34 1039.17L1030.59 1039.19L1030.85 1033.41L1031.10 1040.76L1031.35 1035.52L1031.61 1039.50L1031.86 1038.38L1032.12 1040.37L1032.37 1042.32L1032.63 1037.79L1032.88 1038.74L1033.14 1037.82L1033.39 1040.54L1033.65 1036.58L1033.90 1036.48L1034.15 1033.94L1034.41 1029.00L1034.66 1032.59L1034.92 1035.65L1035.17 1039.62L1035.43 1033.92L1035.68 1033.52L1035.94 1035.16L1036.19 1030.84L1036.45 1033.80L1036.70 1033.04L1036.95 1036.23L1037.20 1030.17L1037.45 1036.77L1037.71 1033.55L1037.96 1026.44L1038.21 1035.23L1038.46 1029.45L1038.71 1031.09L1038.96 1026.88L1039.22 1024.65L1039.47 1034.68L1039.72 1030.02L1039.97 1035.69L1040.22 1037.00L1040.47 1030.68L1040.72 1027.41L1040.98 1026.98L1041.23 1024.57L1041.48 1024.61L1041.73 1023.82L1041.98 1027.69L1042.23 1023.93L1042.48 1033.15L1042.74 1029.59L1042.99 1023.91L1043.24 1034.29L1043.49 1025.77L1043.74 1028.56L1043.99 1028.54L1044.25 1025.60L1044.50 1027.06L1044.75 1025.12L1045.00 1026.81L1045.25 1026.88L1045.50 1026.68L1045.75 1026.63L1046.01 1026.47L1046.26 1025.49L1046.51 1023.54L1046.76 1027.22L1047.01 1022.86L1047.26 1023.93L1047.52 1021.44L1047.77 1024.36L1048.02 1025.38L1048.27 1026.30L1048.52 1024.84L1048.77 1030.06L1049.02 1026.33L1049.28 1025.13L1049.53 1029.43L1049.78 1019.31L1050.03 1023.15L1050.28 1020.25L1050.53 1023.62L1050.78 1024.92L1051.04 1022.32L1051.29 1027.11L1051.54 1019.67L1051.79 1024.00L1052.04 1025.04L1052.29 1026.21L1052.55 1025.03L1052.80 1026.85L1053.05 1021.49L1053.30 1021.00L1053.55 1021.06L1053.80 1022.69L1054.06 1022.81L1054.31 1015.22L1054.56 1023.71L1054.81 1022.85L1055.06 1020.25L1055.32 1020.06L1055.57 1015.70L1055.82 1015.20L1056.07 1019.99L1056.32 1016.01L1056.58 1017.75L1056.83 1019.67L1057.08 1019.24L1057.33 1014.97L1057.58 1016.39L1057.84 1011.27L1058.09 1013.77L1058.34 1016.37L1058.59 1011.85L1058.84 1016.38L1059.10 1017.54L1059.35 1013.30L1059.60 1012.36L1059.85 1013.49L1060.10 1011.74L1060.35 1011.22L1060.61 1014.77L1060.86 1014.59L1061.11 1011.90L1061.36 1014.59L1061.61 1016.81L1061.86 1011.34L1062.12 1017.57L1062.37 1011.10L1062.62 1008.92L1062.87 1010.45L1063.12 1007.09L1063.37 1008.50L1063.62 1012.61L1063.88 1013.17L1064.13 1010.94L1064.38 1004.67L1064.63 1003.88L1064.88 1005.70L1065.13 1011.12L1065.38 1007.95L1065.64 1008.57L1065.89 1009.91L1066.14 1008.80L1066.39 1009.16L1066.64 1002.69L1066.89 1008.89L1067.15 1001.79L1067.40 1002.54L1067.65 1001.12L1067.90 1007.07L1068.16 1003.77L1068.43 1003.43L1068.69 1005.58L1068.95 1003.16L1069.21 1006.78L1069.47 1003.63L1069.74 1000.86L1070.00 998.74L1070.26 995.16L1070.52 994.74L1070.77 998.04L1071.03 996.10L1071.29 1000.16L1071.55 1001.13L1071.80 990.37L1072.06 997.42L1072.32 991.20L1072.58 993.66L1072.83 994.46L1073.09 1000.29L1073.35 994.51L1073.61 999.24L1073.87 991.64L1074.12 993.85L1074.38 1000.24L1074.64 996.03L1074.90 993.74L1075.15 991.08L1075.41 992.72L1075.67 995.16L1075.93 993.00L1076.18 1000.25L1076.44 993.57L1076.70 994.89L1076.95 991.27L1077.21 993.53L1077.46 995.25L1077.72 989.27L1077.97 989.03L1078.22 991.12L1078.48 995.70L1078.73 989.88L1078.98 992.01L1079.24 992.88L1079.49 989.94L1079.75 988.06L1080.00 989.73L1080.25 988.66L1080.51 988.38L1080.76 990.41L1081.02 989.56L1081.27 988.41L1081.52 986.57L1081.78 986.96L1082.03 987.79L1082.28 983.15L1082.54 983.81L1082.79 987.52L1083.05 984.05L1083.30 988.11L1083.55 988.21L1083.80 985.96L1084.05 987.70L1084.30 986.35L1084.55 985.40L1084.80 983.36L1085.05 984.81L1085.30 985.56L1085.55 984.23L1085.80 987.16L1086.05 981.63L1086.30 982.79L1086.55 983.85L1086.80 978.42L1087.05 982.18L1087.30 977.23L1087.55 979.48L1087.80 978.10L1088.05 979.67L1088.30 977.61L1088.55 978.44L1088.80 981.00L1089.05 979.00L1089.30 979.26L1089.55 976.23L1089.80 976.68L1090.05 972.09L1090.30 976.24L1090.55 973.26L1090.80 971.57L1091.05 977.40L1091.30 971.28L1091.55 972.92L1091.80 972.56L1092.05 974.90L1092.30 969.60L1092.55 969.74L1092.80 971.13L1093.05 970.57L1093.30 970.38L1093.55 970.35L1093.81 966.54L1094.06 966.96L1094.32 968.42L1094.57 972.36L1094.83 968.92L1095.08 968.16L1095.34 967.70L1095.59 963.33L1095.85 966.86L1096.10 969.01L1096.35 969.44L1096.61 969.36L1096.86 967.64L1097.12 965.80L1097.37 965.76L1097.63 968.50L1097.88 967.60L1098.14 966.07L1098.39 960.37L1098.65 961.88L1098.90 964.86L1099.15 963.29L1099.41 961.97L1099.66 966.08L1099.92 963.53L1100.17 961.07L1100.43 965.46L1100.68 961.84L1100.94 965.37L1101.19 961.48L1101.45 959.96L1101.70 961.27L1101.95 960.67L1102.20 962.21L1102.45 961.81L1102.70 961.61L1102.95 959.38L1103.20 958.32L1103.45 958.89L1103.70 959.52L1103.95 957.73L1104.20 957.26L1104.45 959.81L1104.70 957.57L1104.95 955.67L1105.20 956.40L1105.45 952.97L1105.70 955.91L1105.95 955.34L1106.20 957.04L1106.45 959.39L1106.70 954.10L1106.95 955.07L1107.20 958.01L1107.45 952.90L1107.70 953.66L1107.95 954.35L1108.20 953.09L1108.45 946.61L1108.70 951.91L1108.95 954.69L1109.20 950.34L1109.45 952.16L1109.70 953.61L1109.95 950.30L1110.20 952.68L1110.45 950.93L1110.70 946.22L1110.95 947.25L1111.20 951.17L1111.45 951.60L1111.70 948.94L1111.95 944.69L1112.20 948.49L1112.45 950.56L1112.70 947.57L1112.95 948.72L1113.20 948.61L1113.45 950.08L1113.70 947.52L1113.95 948.22L1114.20 947.72L1114.45 942.01L1114.70 944.17L1114.95 948.05L1115.20 948.06L1115.45 949.11L1115.70 945.05L1115.95 944.34L1116.20 941.50L1116.45 942.55L1116.70 941.14L1116.95 942.96L1117.20 939.43L1117.45 945.96L1117.70 939.73L1117.95 945.87L1118.20 944.37L1118.45 943.32L1118.70 941.03L1118.95 944.16L1119.20 943.80L1119.45 945.05L1119.70 942.43L1119.95 942.22L1120.20 946.47L1120.45 941.86L1120.70 943.86L1120.95 941.64L1121.20 942.42L1121.45 938.95L1121.70 939.92L1121.96 937.82L1122.22 941.74L1122.48 937.00L1122.74 942.31L1123.00 942.81L1123.30 952.15L1123.55 947.53L1123.80 937.76L1124.05 937.28L1124.30 936.26L1124.55 933.77L1124.80 931.11L1125.05 930.46L1125.30 931.52L1125.55 926.14L1125.80 929.04L1126.06 929.87L1126.31 929.23L1126.57 927.56L1126.83 930.49L1127.08 927.64L1127.34 923.11L1127.60 927.29L1127.85 921.83L1128.11 927.03L1128.37 924.68L1128.62 925.10L1128.88 923.51L1129.13 925.32L1129.39 922.98L1129.65 921.28L1129.90 920.74L1130.16 920.63L1130.42 924.60L1130.67 922.53L1130.93 922.64L1131.19 920.05L1131.44 924.90L1131.70 919.81L1131.96 920.04L1132.21 914.48L1132.47 921.52L1132.72 913.40L1132.98 916.53L1133.24 917.13L1133.49 917.24L1133.75 915.10L1134.01 917.50L1134.26 911.35L1134.52 911.06L1134.78 913.02L1135.03 908.74L1135.29 910.06L1135.54 907.34L1135.80 906.33L1136.05 907.42L1136.30 906.06L1136.55 905.26L1136.80 898.81L1137.05 901.83L1137.30 898.64L1137.55 898.52L1137.80 897.80L1138.05 895.53L1138.30 896.83L1138.55 895.25L1138.80 895.22L1139.05 892.53L1139.30 893.33L1139.55 892.89L1139.80 890.86L1140.05 886.80L1140.30 889.48L1140.55 884.04L1140.80 887.26L1141.05 887.32L1141.30 887.17L1141.55 886.34L1141.80 882.28L1142.05 885.73L1142.30 884.70L1142.55 881.89L1142.80 881.15L1143.05 879.11L1143.30 877.37L1143.55 877.75L1143.80 875.47L1144.05 874.35L1144.30 874.05L1144.55 871.28L1144.80 872.16L1145.05 870.59L1145.30 869.07L1145.55 871.67L1145.80 868.52L1146.05 868.05L1146.30 868.45L1146.55 865.51L1146.80 865.97L1147.05 862.68L1147.30 863.12L1147.55 864.31L1147.80 863.87L1148.05 861.71L1148.30 859.54L1148.55 859.75L1148.80 861.61L1149.05 860.47L1149.30 859.29L1149.55 858.45L1149.80 856.54L1150.05 856.71L1150.30 855.05L1150.55 852.04L1150.80 854.98L1151.05 854.34L1151.30 851.14L1151.55 853.25L1151.80 853.25L1152.05 851.43L1152.30 850.83L1152.55 851.86L1152.80 848.67L1153.05 847.96L1153.30 848.06L1153.55 849.09L1153.80 847.39L1154.05 843.94L1154.30 843.62L1154.55 843.80L1154.80 844.60L1155.05 841.25L1155.30 842.36L1155.55 840.48L1155.80 838.71L1156.05 839.61L1156.30 839.53L1156.55 837.11L1156.80 837.67L1157.05 838.26L1157.30 835.31L1157.55 837.66L1157.80 833.31L1158.05 833.47L1158.30 833.23L1158.56 831.93L1158.82 835.60L1159.07 833.49L1159.33 831.95L1159.59 833.16L1159.85 834.41L1160.10 830.85L1160.36 833.66L1160.62 832.29L1160.88 831.46L1161.13 832.04L1161.39 829.38L1161.65 828.32L1161.91 830.90L1162.17 830.03L1162.42 829.60L1162.68 829.87L1162.94 830.15L1163.20 832.29L1163.45 830.28L1163.71 830.58L1163.97 830.03L1164.23 830.55L1164.48 827.46L1164.74 829.06L1165.00 828.85L1165.25 827.66L1165.50 823.96L1165.76 828.17L1166.01 824.95L1166.26 824.75L1166.51 821.55L1166.77 820.83L1167.02 821.62L1167.27 821.07L1167.52 819.49L1167.77 817.35L1168.03 820.11L1168.28 815.70L1168.53 816.20L1168.78 814.08L1169.03 815.28L1169.29 813.66L1169.54 812.08L1169.79 809.55L1170.04 811.38L1170.30 809.54L1170.55 810.21L1170.80 808.44L1171.06 809.75L1171.33 807.27L1171.59 806.97L1171.85 807.00L1172.11 806.44L1172.38 805.00L1172.64 804.48L1172.90 804.40L1173.16 805.73L1173.42 804.47L1173.69 804.61L1173.95 801.35L1174.21 801.84L1174.47 800.90L1174.74 800.85L1175.00 800.32L1175.25 799.85L1175.50 797.89L1175.75 795.14L1176.00 795.31L1176.25 793.41L1176.50 793.04L1176.75 787.38L1177.00 789.72L1177.25 785.83L1177.50 786.87L1177.77 785.45L1178.03 785.63L1178.30 782.54L1178.57 783.09L1178.83 782.36L1179.10 781.09L1179.37 781.56L1179.63 780.27L1179.90 776.38L1180.17 776.28L1180.43 776.35L1180.70 774.88L1180.96 773.76L1181.23 772.49L1181.49 773.31L1181.75 770.21L1182.02 770.11L1182.28 769.19L1182.55 766.36L1182.81 765.55L1183.07 765.92L1183.34 765.81L1183.60 762.99L1183.86 762.80L1184.12 761.83L1184.37 758.61L1184.63 761.73L1184.89 760.73L1185.15 758.62L1185.41 760.53L1185.66 758.27L1185.92 758.06L1186.18 758.47L1186.44 753.95L1186.69 757.92L1186.95 756.18L1187.21 756.11L1187.47 754.89L1187.73 754.00L1187.98 754.29L1188.24 754.67L1188.50 753.29L1188.76 754.19L1189.03 750.39L1189.29 749.55L1189.55 751.13L1189.82 749.14L1190.08 747.63L1190.35 749.25L1190.61 748.34L1190.87 746.85L1191.14 745.48L1191.40 745.27L1191.66 744.92L1191.93 743.92L1192.19 741.94L1192.45 740.29L1192.72 740.87L1192.98 736.57L1193.25 738.13L1193.51 739.79L1193.77 735.17L1194.04 735.76L1194.30 734.09L1194.56 734.23L1194.82 731.91L1195.08 732.75L1195.34 731.51L1195.60 731.28L1195.86 729.78L1196.12 730.60L1196.38 729.50L1196.64 728.90L1196.90 729.86L1197.16 728.34L1197.42 728.09L1197.68 726.79L1197.94 726.11L1198.20 726.40L1198.45 726.95L1198.71 723.36L1198.96 723.63L1199.21 723.85L1199.46 722.75L1199.72 722.79L1199.97 720.76L1200.22 718.91L1200.47 720.01L1200.73 718.10L1200.98 717.15L1201.23 716.52L1201.48 717.31L1201.74 714.55L1201.99 713.49L1202.24 713.79L1202.49 712.45L1202.75 710.20L1203.00 711.62L1203.26 711.15L1203.52 710.42L1203.78 710.81L1204.04 709.09L1204.30 707.88L1204.56 707.49L1204.82 708.84L1205.08 709.29L1205.34 708.92L1205.60 705.41L1205.86 707.10L1206.12 707.36L1206.38 707.44L1206.64 704.66L1206.90 705.09L1207.16 704.47L1207.43 704.54L1207.69 703.84L1207.95 704.28L1208.22 702.69L1208.48 703.18L1208.75 700.63L1209.01 702.15L1209.27 698.39L1209.54 701.49L1209.80 700.31L1210.06 700.13L1210.32 700.71L1210.57 701.13L1210.83 700.17L1211.09 701.59L1211.35 700.59L1211.61 699.02L1211.86 700.89L1212.12 699.31L1212.38 699.01L1212.64 699.08L1212.89 697.06L1213.15 699.51L1213.41 698.82L1213.67 699.12L1213.93 697.56L1214.18 697.41L1214.44 696.56L1214.70 697.22L1214.95 697.72L1215.20 694.98L1215.46 694.82L1215.71 694.91L1215.96 695.90L1216.21 696.53L1216.47 695.66L1216.72 695.72L1216.97 695.75L1217.22 692.73L1217.47 693.19L1217.73 694.02L1217.98 694.27L1218.23 694.96L1218.48 693.66L1218.73 693.60L1218.99 692.72L1219.24 690.65L1219.49 694.47L1219.74 693.56L1220.00 693.37L1220.25 692.38L1220.50 692.12L1220.76 693.44L1221.02 691.68L1221.27 692.91L1221.53 692.18L1221.79 692.02L1222.05 692.62L1222.31 691.07L1222.56 692.59L1222.82 693.95L1223.08 692.68L1223.34 691.48L1223.59 692.13L1223.85 694.26L1224.11 692.31L1224.37 692.28L1224.63 694.59L1224.88 695.09L1225.14 691.62L1225.40 693.12L1225.66 692.78L1225.92 694.49L1226.18 693.05L1226.44 692.26L1226.70 690.64L1226.96 690.77L1227.22 692.26L1227.48 691.34L1227.74 691.41L1228.00 692.16L1228.26 691.17L1228.52 690.34L1228.78 690.93L1229.04 689.56L1229.30 690.00L1229.55 688.93L1229.81 690.25L1230.06 692.17L1230.31 693.10L1230.56 692.23L1230.82 692.64L1231.07 690.02L1231.32 691.70L1231.57 690.64L1231.83 690.44L1232.08 691.95L1232.33 694.29L1232.58 695.10L1232.84 691.20L1233.09 692.15L1233.34 693.10L1233.59 693.72L1233.85 694.12L1234.10 693.59L1234.36 693.16L1234.61 693.89L1234.87 693.40L1235.13 689.52L1235.38 692.62L1235.64 693.00L1235.90 691.68L1236.15 692.89L1236.41 692.07L1236.67 690.59L1236.92 692.94L1237.18 690.21L1237.43 689.88L1237.69 690.39L1237.95 690.38L1238.20 690.91L1238.46 691.02L1238.72 690.23L1238.97 688.05L1239.23 690.04L1239.49 689.68L1239.74 686.54L1240.00 688.26L1240.25 688.08L1240.50 687.12L1240.76 688.68L1241.01 690.30L1241.26 686.88L1241.51 689.57L1241.77 690.85L1242.02 692.30L1242.27 690.51L1242.52 692.56L1242.77 689.66L1243.03 692.42L1243.28 693.18L1243.53 693.78L1243.78 694.06L1244.03 693.50L1244.29 694.42L1244.54 694.68L1244.79 692.59L1245.04 694.50L1245.30 696.85L1245.55 698.16L1245.80 696.21L1246.06 698.20L1246.32 697.98L1246.58 698.01L1246.84 697.93L1247.10 698.37L1247.36 700.11L1247.62 701.90L1247.88 700.09L1248.14 700.82L1248.40 702.19L1248.66 702.75L1248.92 704.10L1249.18 703.91L1249.44 704.85L1249.70 705.50L1249.95 706.15L1250.20 707.11L1250.46 707.94L1250.71 706.89L1250.96 707.88L1251.21 707.77L1251.47 710.09L1251.72 710.77L1251.97 708.86L1252.22 710.63L1252.47 710.42L1252.73 711.84L1252.98 712.76L1253.23 712.43L1253.48 711.82L1253.73 713.67L1253.99 715.39L1254.24 712.36L1254.49 715.62L1254.74 714.11L1255.00 714.26L1255.25 716.41L1255.50 715.62L1255.76 717.16L1256.02 716.84L1256.28 716.68L1256.54 717.70L1256.80 718.42L1257.06 716.53L1257.32 717.37L1257.58 715.93L1257.84 717.41L1258.10 718.41L1258.36 717.31L1258.62 716.06L1258.88 718.10L1259.14 717.18L1259.40 717.99L1259.66 718.47L1259.92 717.10L1260.17 718.14L1260.43 717.62L1260.69 717.08L1260.95 716.15L1261.21 718.44L1261.46 717.87L1261.72 715.63L1261.98 716.90L1262.24 716.07L1262.49 716.30L1262.75 716.06L1263.01 714.39L1263.27 714.35L1263.53 713.90L1263.78 716.29L1264.04 714.50L1264.30 714.05L1264.55 713.29L1264.81 713.55L1265.06 712.47L1265.31 712.20L1265.56 712.81L1265.82 712.83L1266.07 711.60L1266.32 713.71L1266.57 711.77L1266.83 710.91L1267.08 711.81L1267.33 711.11L1267.58 710.16L1267.84 711.03L1268.09 710.96L1268.34 708.38L1268.59 711.08L1268.85 707.74L1269.10 708.41L1269.35 708.82L1269.60 708.07L1269.85 706.16L1270.10 703.61L1270.35 702.14L1270.60 703.39L1270.85 701.83L1271.10 700.50L1271.36 699.86L1271.62 700.97L1271.88 701.21L1272.15 700.70L1272.41 700.36L1272.67 698.79L1272.93 699.29L1273.19 698.07L1273.45 697.67L1273.72 698.49L1273.98 697.90L1274.24 696.58L1274.50 697.53L1274.78 695.22L1275.06 686.53L1275.34 680.68L1275.62 674.94L1275.90 669.62L1276.17 664.88L1276.43 662.68L1276.70 661.03L1276.97 655.17L1277.23 653.29L1277.50 651.28L1277.77 646.68L1278.03 642.08L1278.30 640.28L1278.56 635.95L1278.82 633.02L1279.08 629.14L1279.35 623.77L1279.61 622.95L1279.87 618.59L1280.13 617.06L1280.39 611.35L1280.65 608.32L1280.92 604.24L1281.18 601.58L1281.44 597.72L1281.70 594.15L1281.96 594.47L1282.23 592.84L1282.49 592.85L1282.75 594.79L1283.02 591.35L1283.28 591.50L1283.55 591.41L1283.81 589.97L1284.07 590.85L1284.34 591.62L1284.60 590.32L1284.85 591.23L1285.11 590.17L1285.36 588.53L1285.61 590.43L1285.86 588.91L1286.12 589.14L1286.37 587.17L1286.62 588.52L1286.87 587.73L1287.13 589.86L1287.38 588.19L1287.63 588.22L1287.88 587.25L1288.14 585.36L1288.39 587.54L1288.64 587.19L1288.89 586.80L1289.15 585.26L1289.40 585.57L1289.67 585.74L1289.93 585.49L1290.20 585.18L1290.47 586.53L1290.73 584.50L1291.00 584.87L1291.40 601.34L1291.80 585.06L1292.05 585.20L1292.30 584.39L1292.55 585.88L1292.80 583.79L1293.05 584.46L1293.30 585.06L1293.56 583.65L1293.82 584.95L1294.07 585.48L1294.33 583.75L1294.59 584.94L1294.85 583.66L1295.11 584.32L1295.36 585.68L1295.62 583.96L1295.88 585.15L1296.14 583.92L1296.39 585.79L1296.65 584.80L1296.91 584.05L1297.17 584.78L1297.43 583.52L1297.68 584.25L1297.94 583.03L1298.20 583.43L1298.46 584.98L1298.72 584.06L1298.98 583.12L1299.24 584.40L1299.50 584.89L1299.76 585.19L1300.02 583.38L1300.28 584.95L1300.54 586.02L1300.80 585.70L1301.06 584.37L1301.32 585.48L1301.58 584.19L1301.84 585.30L1302.10 586.30L1302.35 585.51L1302.61 585.85L1302.86 585.06L1303.11 585.19L1303.36 584.92L1303.62 584.34L1303.87 583.11L1304.12 584.74L1304.37 583.69L1304.63 585.32L1304.88 583.29L1305.13 583.94L1305.38 584.26L1305.64 584.03L1305.89 585.03L1306.14 582.91L1306.39 582.25L1306.65 583.31L1306.90 582.49L1307.16 582.72L1307.42 583.92L1307.68 582.83L1307.95 581.87L1308.21 583.26L1308.47 583.46L1308.73 583.28L1308.99 583.24L1309.25 584.21L1309.52 582.38L1309.78 583.40L1310.04 583.73L1310.30 583.39L1310.56 582.97L1310.81 581.85L1311.07 581.39L1311.33 583.43L1311.59 580.66L1311.84 581.62L1312.10 580.80L1312.36 578.10L1312.61 576.72L1312.87 578.59L1313.13 577.69L1313.39 578.93L1313.64 576.93L1313.90 575.17L1314.16 574.63L1314.41 575.57L1314.67 576.34L1314.93 574.16L1315.19 574.45L1315.44 573.22L1315.70 573.20L1315.96 574.10L1316.22 573.55L1316.48 572.78L1316.74 574.27L1317.00 574.65L1317.26 572.80L1317.52 573.20L1317.78 572.41L1318.04 571.96L1318.30 573.62L1318.56 573.77L1318.82 573.28L1319.08 571.96L1319.34 573.80L1319.60 572.48L1319.85 572.84L1320.11 573.07L1320.36 572.88L1320.61 573.04L1320.86 569.85L1321.12 572.08L1321.37 570.40L1321.62 571.34L1321.87 569.79L1322.13 569.54L1322.38 570.26L1322.63 569.55L1322.88 568.52L1323.14 568.04L1323.39 568.52L1323.64 568.31L1323.89 567.27L1324.15 566.67L1324.40 567.55L1324.66 568.46L1324.92 567.57L1325.17 569.15L1325.43 566.23L1325.69 568.54L1325.95 566.42L1326.21 567.43L1326.46 570.08L1326.72 567.81L1326.98 569.43L1327.24 569.39L1327.49 568.96L1327.75 569.40L1328.01 569.48L1328.27 570.10L1328.53 569.04L1328.78 570.59L1329.04 569.64L1329.30 571.17L1329.55 571.46L1329.80 571.53L1330.06 571.48L1330.31 570.92L1330.56 572.92L1330.81 573.30L1331.06 573.81L1331.31 573.74L1331.57 573.96L1331.82 573.65L1332.07 574.11L1332.32 574.57L1332.57 574.91L1332.83 575.24L1333.08 574.82L1333.33 577.84L1333.58 576.96L1333.83 576.70L1334.09 576.17L1334.34 576.31L1334.59 576.81L1334.84 576.61L1335.09 577.14L1335.34 577.36L1335.60 577.84L1335.85 578.07L1336.10 578.93L1336.36 579.00L1336.63 578.81L1336.89 578.94L1337.15 577.75L1337.42 578.10L1337.68 579.97L1337.95 579.04L1338.21 579.05L1338.47 580.24L1338.74 581.50L1339.00 579.66L1339.26 580.10L1339.52 579.92L1339.77 577.97L1340.03 578.05L1340.29 578.78L1340.55 578.25L1340.81 577.80L1341.06 579.34L1341.32 578.37L1341.58 580.39L1341.84 578.31L1342.09 577.57L1342.35 580.40L1342.61 578.85L1342.87 577.31L1343.13 579.18L1343.38 579.30L1343.64 577.89L1343.90 577.56L1344.15 577.58L1344.40 575.47L1344.66 574.68L1344.91 573.84L1345.16 574.46L1345.41 575.39L1345.67 574.94L1345.92 572.78L1346.17 571.91L1346.42 571.44L1346.67 570.41L1346.93 570.79L1347.18 569.27L1347.43 568.28L1347.68 568.16L1347.93 567.93L1348.19 567.39L1348.44 567.65L1348.69 568.00L1348.94 566.97L1349.20 565.60L1349.45 564.91L1349.70 563.90L1349.96 562.94L1350.23 563.53L1350.49 559.77L1350.75 557.54L1351.02 556.55L1351.28 556.45L1351.55 555.87L1351.81 556.15L1352.07 552.58L1352.34 551.06L1352.60 549.31L1352.86 549.63L1353.12 548.78L1353.37 549.29L1353.63 549.96L1353.89 548.26L1354.15 548.43L1354.41 548.91L1354.66 548.61L1354.92 549.09L1355.18 547.92L1355.44 548.56L1355.69 547.72L1355.95 549.56L1356.21 548.23L1356.47 549.84L1356.73 547.70L1356.98 547.22L1357.24 548.80L1357.50 547.72L1357.76 547.49L1358.03 547.91L1358.29 547.02L1358.55 545.82L1358.82 545.53L1359.08 546.21L1359.35 546.13L1359.61 544.89L1359.87 543.57L1360.14 543.80L1360.40 542.59L1360.66 542.21L1360.92 543.23L1361.17 542.25L1361.43 541.77L1361.69 543.23L1361.95 540.32L1362.21 541.38L1362.46 542.68L1362.72 542.04L1362.98 540.92L1363.24 541.52L1363.49 542.08L1363.75 540.77L1364.01 541.24L1364.27 540.42L1364.53 540.96L1364.78 538.33L1365.04 538.90L1365.30 539.70L1365.56 540.01L1365.82 539.76L1366.08 539.90L1366.34 540.78L1366.60 541.65L1366.86 542.57L1367.12 541.17L1367.38 540.84L1367.64 541.88L1367.90 541.84L1368.16 542.08L1368.42 542.92L1368.68 543.88L1368.94 542.93L1369.20 543.36L1369.46 543.58L1369.72 543.59L1369.98 544.11L1370.24 543.32L1370.50 543.74L1370.76 543.54L1371.02 544.87L1371.28 543.18L1371.54 545.86L1371.80 544.57L1372.06 543.59L1372.32 545.26L1372.58 545.57L1372.84 545.69L1373.10 544.74L1373.35 544.83L1373.60 544.37L1373.85 544.87L1374.10 545.89L1374.35 546.18L1374.60 545.82L1375.00 566.26L1375.40 545.92L1375.65 546.91L1375.90 547.00L1376.15 547.06L1376.40 547.54L1376.65 547.45L1376.90 547.86L1377.16 548.51L1377.42 548.79L1377.67 547.12L1377.93 547.00L1378.19 546.07L1378.45 546.84L1378.71 545.95L1378.96 546.47L1379.22 545.73L1379.48 546.19L1379.74 547.08L1379.99 546.53L1380.25 546.29L1380.51 543.76L1380.77 545.78L1381.03 543.25L1381.28 545.34L1381.54 543.84L1381.80 544.70L1382.05 544.10L1382.30 544.53L1382.55 543.87L1382.81 545.10L1383.06 544.49L1383.31 545.73L1383.56 544.83L1383.81 543.80L1384.06 543.77L1384.32 544.19L1384.57 543.34L1384.82 544.93L1385.07 545.06L1385.32 545.02L1385.57 544.24L1385.83 543.40L1386.08 545.17L1386.33 544.69L1386.58 545.17L1386.83 544.21L1387.08 546.03L1387.34 544.84L1387.59 545.61L1387.84 543.96L1388.09 544.56L1388.34 545.39L1388.59 543.44L1388.85 544.04L1389.10 544.22L1389.35 545.30L1389.60 544.84L1389.85 544.55L1390.10 543.36L1390.36 542.30L1390.61 542.74L1390.86 542.23L1391.11 543.94L1391.37 540.50L1391.62 542.00L1391.87 542.16L1392.12 541.82L1392.37 540.86L1392.63 540.23L1392.88 540.50L1393.13 539.30L1393.38 540.12L1393.63 539.03L1393.89 538.30L1394.14 538.63L1394.39 539.41L1394.64 538.49L1394.90 534.73L1395.15 537.14L1395.40 536.77L1395.66 536.86L1395.92 536.38L1396.17 535.34L1396.43 535.78L1396.69 536.40L1396.95 535.74L1397.21 535.26L1397.46 535.51L1397.72 535.95L1397.98 534.65L1398.24 532.54L1398.49 534.72L1398.75 533.43L1399.01 534.69L1399.27 533.06L1399.53 534.36L1399.78 534.34L1400.04 533.37L1400.30 534.11L1400.56 533.86L1400.82 534.18L1401.08 535.18L1401.34 535.33L1401.60 535.30L1401.86 536.05L1402.12 536.73L1402.38 537.02L1402.64 537.42L1402.90 538.73L1403.16 537.01L1403.42 538.39L1403.68 538.93L1403.94 540.91L1404.20 538.24L1404.45 538.52L1404.70 540.48L1404.96 540.05L1405.21 539.83L1405.46 539.78L1405.71 540.77L1405.97 538.35L1406.22 540.37L1406.47 540.42L1406.72 539.62L1406.97 539.43L1407.23 539.97L1407.48 540.10L1407.73 540.95L1407.98 540.33L1408.23 541.06L1408.49 540.36L1408.74 541.26L1408.99 542.35L1409.24 541.21L1409.50 541.73L1409.75 541.87L1410.00 541.73L1410.26 542.02L1410.53 541.87L1410.79 541.20L1411.05 542.77L1411.32 541.03L1411.58 540.16L1411.85 541.10L1412.11 541.56L1412.37 539.26L1412.64 539.81L1412.90 538.84L1413.16 539.63L1413.43 541.42L1413.69 542.04L1413.95 540.61L1414.22 541.47L1414.48 540.90L1414.75 543.18L1415.01 543.40L1415.27 544.24L1415.54 544.18L1415.80 544.02L1416.06 543.81L1416.32 543.95L1416.58 542.64L1416.84 543.83L1417.10 543.87L1417.36 544.04L1417.62 543.49L1417.88 543.25L1418.14 542.56L1418.40 541.90L1418.66 542.57L1418.92 542.60L1419.18 540.41L1419.44 541.58L1419.70 541.77L1419.96 541.69L1420.22 540.86L1420.47 541.48L1420.73 540.39L1420.99 541.51L1421.25 539.68L1421.51 541.11L1421.76 541.13L1422.02 540.28L1422.28 540.85L1422.54 539.99L1422.79 540.28L1423.05 539.41L1423.31 541.20L1423.57 539.58L1423.83 539.83L1424.08 537.63L1424.34 539.41L1424.60 538.72L1424.86 538.01L1425.12 539.51L1425.38 538.55L1425.64 539.15L1425.90 540.22L1426.16 538.12L1426.42 537.09L1426.68 538.10L1426.94 538.21L1427.20 539.11L1427.46 539.08L1427.72 538.42L1427.98 538.95L1428.24 538.77L1428.50 538.95L1428.75 538.56L1429.00 536.37L1429.25 538.10L1429.50 539.49L1429.75 539.45L1430.00 536.92L1430.27 535.86L1430.53 532.47L1430.80 531.35L1431.07 528.26L1431.33 527.73L1431.60 523.42L1431.87 523.90L1432.13 520.72L1432.40 518.25L1432.65 515.20L1432.90 515.25L1433.15 514.10L1433.40 513.71L1433.65 512.45L1433.90 511.41L1434.15 509.45L1434.40 508.61L1434.65 506.46L1434.90 505.67L1435.17 503.91L1435.44 504.39L1435.71 502.43L1435.99 503.33L1436.26 500.85L1436.53 501.24L1436.80 499.44L1437.08 501.32L1437.36 503.00L1437.64 505.75L1437.91 507.33L1438.19 508.93L1438.47 510.66L1438.75 513.42L1439.02 511.56L1439.29 510.10L1439.55 506.07L1439.82 505.06L1440.09 502.16L1440.36 500.43L1440.63 497.89L1440.90 498.27L1441.16 494.20L1441.43 493.47L1441.70 490.54L1441.95 490.97L1442.21 491.00L1442.46 491.61L1442.71 494.10L1442.96 493.64L1443.22 493.90L1443.47 495.14L1443.72 495.68L1443.98 495.15L1444.23 495.71L1444.48 496.75L1444.74 497.44L1444.99 497.55L1445.24 498.28L1445.49 498.29L1445.75 498.65L1446.00 499.47L1446.26 497.56L1446.52 496.07L1446.78 496.12L1447.04 495.23L1447.29 496.79L1447.55 493.36L1447.81 491.92L1448.07 492.17L1448.33 490.49L1448.59 489.93L1448.85 489.94L1449.11 486.71L1449.36 487.83L1449.62 485.29L1449.88 484.58L1450.14 483.08L1450.40 482.26L1450.66 482.26L1450.93 482.69L1451.19 484.87L1451.45 486.01L1451.72 485.72L1451.98 486.55L1452.25 487.01L1452.51 488.52L1452.77 489.03L1453.04 488.96L1453.30 490.71L1453.55 490.15L1453.80 487.23L1454.05 487.69L1454.30 484.52L1454.55 485.06L1454.80 483.18L1455.05 482.77L1455.30 480.81L1455.55 482.82L1455.80 483.27L1456.06 485.95L1456.31 483.61L1456.56 484.50L1456.81 485.77L1457.07 486.70L1457.32 487.92L1457.57 487.94L1457.82 490.09L1458.07 491.01L1458.33 491.63L1458.58 491.69L1458.83 493.31L1459.08 494.80L1459.33 493.77L1459.59 496.56L1459.84 497.07L1460.09 497.65L1460.34 498.15L1460.60 498.47L1460.85 498.57L1461.10 500.55L1461.36 503.01L1461.62 504.39L1461.88 506.81L1462.15 508.61L1462.41 509.13L1462.67 513.37L1462.93 514.48L1463.19 517.76L1463.45 520.18L1463.72 522.39L1463.98 521.64L1464.24 525.43L1464.50 527.83L1464.77 529.53L1465.03 530.89L1465.30 531.43L1465.57 532.86L1465.83 536.23L1466.10 536.68L1466.37 536.67L1466.63 538.71L1466.90 540.41L1467.15 541.43L1467.40 542.55L1467.65 541.40L1467.90 542.17L1468.15 541.48L1468.40 542.26L1468.65 541.77L1468.90 542.00L1469.15 542.18L1469.40 542.50L1469.65 541.04L1469.90 542.37L1470.16 544.19L1470.42 545.11L1470.68 546.19L1470.95 547.13L1471.21 547.26L1471.47 548.83L1471.73 550.07L1471.99 549.99L1472.25 552.40L1472.52 555.11L1472.78 554.43L1473.04 556.35L1473.30 556.68L1473.55 557.42L1473.80 558.13L1474.06 558.20L1474.31 561.39L1474.56 559.82L1474.81 561.84L1475.06 563.38L1475.32 562.08L1475.57 563.55L1475.82 564.21L1476.07 565.19L1476.32 566.07L1476.58 566.97L1476.83 568.94L1477.08 567.95L1477.33 566.65L1477.58 569.35L1477.84 569.42L1478.09 571.10L1478.34 571.08L1478.59 572.87L1478.84 574.17L1479.10 572.81L1479.35 575.46L1479.60 575.77L1479.85 575.04L1480.11 575.31L1480.36 573.89L1480.61 575.04L1480.86 575.12L1481.12 573.20L1481.37 571.72L1481.62 572.82L1481.87 571.86L1482.13 571.03L1482.38 571.03L1482.63 570.76L1482.88 570.27L1483.14 569.42L1483.39 569.04L1483.64 569.10L1483.89 568.95L1484.15 568.97L1484.40 567.56L1484.66 566.11L1484.92 563.52L1485.17 563.16L1485.43 561.59L1485.69 558.46L1485.95 557.36L1486.21 555.47L1486.46 553.78L1486.72 551.76L1486.98 550.64L1487.24 548.19L1487.49 546.00L1487.75 545.99L1488.01 544.78L1488.27 543.96L1488.53 540.47L1488.78 538.70L1489.04 534.42L1489.30 535.65L1489.55 532.45L1489.80 533.57L1490.05 532.90L1490.30 532.94L1490.55 531.65L1490.80 529.55L1491.25 564.36L1491.70 529.72L1491.95 527.52L1492.20 526.83L1492.45 529.30L1492.70 534.41L1492.95 537.87L1493.20 541.55L1493.45 544.00L1493.70 548.13L1493.98 541.53L1494.26 536.35L1494.54 530.83L1494.82 524.55L1495.10 517.96L1495.36 516.91L1495.62 513.04L1495.87 512.57L1496.13 511.28L1496.39 509.83L1496.65 506.21L1496.91 504.84L1497.16 502.63L1497.42 500.94L1497.68 499.14L1497.94 497.94L1498.19 495.90L1498.45 493.99L1498.71 491.43L1498.97 490.04L1499.23 488.30L1499.48 487.42L1499.74 484.76L1500.00 482.92L1500.26 482.07L1500.52 480.46L1500.78 482.41L1501.04 482.70L1501.30 482.85L1501.56 481.80L1501.82 481.91L1502.08 479.30L1502.34 481.39L1502.60 481.29L1502.86 479.59L1503.12 479.43L1503.38 480.53L1503.64 479.66L1503.90 478.81L1504.16 479.37L1504.43 480.04L1504.69 476.44L1504.95 479.01L1505.22 480.41L1505.48 476.95L1505.75 477.12L1506.01 478.12L1506.27 476.11L1506.54 476.88L1506.80 477.09L1507.07 477.58L1507.33 477.68L1507.60 478.20L1507.87 477.55L1508.13 478.23L1508.40 480.22L1508.67 479.16L1508.93 481.59L1509.20 480.16L1509.46 480.03L1509.72 477.47L1509.98 478.02L1510.25 474.80L1510.51 475.58L1510.77 476.25L1511.03 474.69L1511.29 473.70L1511.55 471.35L1511.82 473.26L1512.08 470.89L1512.34 468.92L1512.60 469.13L1512.85 471.11L1513.10 472.26L1513.35 473.49L1513.60 475.32L1513.85 476.87L1514.10 478.44L1514.35 477.92L1514.60 479.45L1514.87 482.81L1515.13 489.14L1515.40 493.27L1515.67 495.83L1515.93 499.92L1516.20 505.57L1516.47 509.89L1516.73 513.24L1517.00 518.11L1517.25 523.41L1517.50 525.20L1517.75 530.77L1518.00 535.24L1518.25 538.06L1518.50 542.87L1518.77 548.44L1519.04 556.02L1519.31 562.71L1519.59 568.95L1519.86 575.79L1520.13 584.25L1520.40 589.93L1520.65 599.75L1520.90 611.34L1521.17 617.17L1521.43 625.16L1521.70 630.50L1521.97 635.52L1522.23 641.27L1522.50 647.36L1522.76 649.19L1523.02 650.91L1523.28 654.79L1523.53 656.51L1523.79 659.01L1524.05 661.60L1524.31 663.97L1524.57 664.86L1524.82 666.87L1525.08 668.97L1525.34 670.79L1525.60 673.90L1525.86 675.71L1526.12 676.42L1526.38 678.32L1526.64 679.34L1526.90 682.77L1527.16 683.80L1527.42 684.38L1527.68 686.42L1527.94 687.09L1528.20 689.24L1528.46 689.68L1528.73 690.39L1528.99 690.62L1529.26 692.00L1529.52 691.73L1529.79 691.63L1530.05 693.71L1530.31 693.37L1530.58 694.56L1530.84 695.80L1531.11 696.05L1531.37 694.92L1531.64 695.32L1531.90 696.70L1532.16 696.06L1532.41 697.23L1532.67 696.46L1532.93 697.94L1533.19 699.42L1533.44 698.96L1533.70 699.65L1533.96 698.48L1534.21 700.58L1534.47 700.32L1534.73 700.76L1534.99 700.50L1535.24 702.05L1535.50 701.97L1535.76 702.69L1536.02 702.45L1536.28 706.14L1536.54 705.49L1536.80 706.49L1537.06 707.34L1537.32 706.76L1537.58 709.01L1537.84 709.58L1538.10 710.83L1538.36 711.45L1538.62 710.45L1538.89 710.81L1539.15 712.23L1539.41 709.58L1539.67 709.74L1539.94 710.87L1540.20 711.05L1540.46 710.93L1540.72 709.83L1540.99 709.75L1541.25 710.16L1541.51 709.99L1541.77 708.67L1542.03 708.17L1542.29 709.04L1542.55 707.87L1542.81 708.28L1543.07 706.72L1543.33 707.21L1543.58 706.64L1543.84 706.27L1544.10 704.63L1544.36 706.04L1544.62 703.76L1544.88 702.77L1545.14 704.04L1545.40 703.07L1545.66 703.97L1545.92 702.65L1546.18 702.33L1546.44 701.28L1546.70 700.41L1546.96 700.47L1547.22 698.99L1547.48 698.33L1547.74 697.12L1548.00 696.73L1548.27 699.86L1548.53 700.14L1548.80 702.73L1549.07 704.92L1549.33 706.20L1549.60 707.70L1549.86 706.50L1550.12 704.28L1550.39 701.63L1550.65 700.23L1550.91 697.17L1551.17 695.55L1551.44 692.65L1551.70 690.67L1551.96 688.25L1552.22 689.05L1552.48 687.89L1552.74 688.16L1553.00 689.09L1553.26 685.66L1553.52 687.08L1553.78 684.79L1554.04 684.40L1554.30 683.52L1554.56 683.05L1554.82 683.43L1555.08 682.20L1555.34 681.70L1555.60 681.46L1555.86 680.50L1556.12 679.95L1556.38 678.50L1556.64 679.60L1556.90 677.86L1557.16 677.97L1557.42 678.98L1557.68 680.61L1557.94 680.92L1558.20 680.89L1558.46 682.98L1558.72 683.47L1558.98 683.73L1559.24 683.55L1559.50 685.10L1559.76 685.39L1560.02 685.91L1560.28 683.95L1560.54 684.59L1560.80 682.81L1561.06 683.71L1561.32 683.82L1561.58 684.85L1561.84 682.69L1562.10 683.69L1562.36 682.81L1562.62 684.70L1562.88 685.83L1563.14 684.60L1563.40 684.76L1563.66 685.21L1563.92 684.15L1564.17 687.33L1564.43 686.98L1564.69 687.20L1564.95 688.40L1565.21 688.93L1565.47 688.00L1565.73 690.63L1565.99 690.30L1566.25 690.40L1566.51 690.58L1566.77 690.13L1567.03 689.21L1567.28 691.48L1567.54 691.97L1567.80 691.26L1568.06 691.58L1568.32 692.03L1568.58 692.04L1568.83 691.75L1569.09 691.76L1569.35 692.12L1569.61 692.64L1569.87 693.05L1570.12 692.25L1570.38 693.75L1570.64 692.99L1570.90 693.00L1571.16 693.65L1571.43 693.22L1571.69 693.07L1571.95 693.18L1572.21 693.02L1572.47 692.75L1572.74 691.34L1573.00 689.27L1573.26 693.93L1573.53 691.24L1573.79 689.32L1574.05 690.65L1574.31 689.75L1574.57 691.78L1574.84 690.30L1575.10 690.38L1575.36 689.34L1575.62 690.76L1575.88 688.90L1576.14 688.28L1576.41 686.60L1576.67 687.29L1576.93 686.02L1577.19 685.77L1577.45 684.83L1577.71 682.80L1577.97 681.72L1578.23 681.75L1578.49 681.54L1578.76 681.13L1579.02 678.86L1579.28 678.72L1579.54 677.62L1579.80 677.38L1580.06 677.39L1580.33 674.72L1580.59 674.35L1580.85 673.43L1581.11 673.43L1581.38 671.03L1581.64 669.45L1581.90 667.69L1582.16 666.31L1582.42 665.42L1582.69 665.21L1582.95 664.81L1583.21 662.20L1583.47 659.66L1583.74 660.68L1584.00 659.58L1584.26 659.52L1584.52 657.39L1584.78 655.42L1585.04 655.08L1585.30 654.69L1585.56 653.05L1585.82 652.13L1586.08 651.08L1586.34 652.20L1586.60 649.36L1586.86 647.53L1587.12 646.96L1587.38 647.59L1587.64 643.78L1587.90 644.31L1588.16 642.77L1588.42 640.92L1588.68 641.71L1588.94 639.26L1589.20 638.37L1589.46 637.32L1589.72 634.39L1589.97 635.67L1590.23 635.58L1590.49 630.95L1590.75 632.48L1591.01 631.10L1591.27 630.38L1591.53 630.35L1591.78 627.86L1592.04 627.76L1592.30 626.14L1592.57 624.37L1592.83 622.28L1593.10 620.61L1593.37 620.31L1593.63 619.82L1593.90 617.62L1594.16 617.56L1594.41 617.92L1594.67 616.76L1594.92 617.58L1595.18 614.67L1595.43 615.86L1595.69 616.78L1595.94 614.62L1596.20 616.35L1596.46 615.18L1596.71 614.68L1596.97 615.31L1597.22 613.46L1597.48 614.27L1597.73 611.72L1597.99 614.16L1598.24 613.64L1598.50 613.12L1598.77 612.70L1599.03 612.48L1599.30 612.58L1599.57 610.52L1599.83 612.06L1600.10 609.05L1600.37 609.18L1600.63 609.40L1600.90 610.12L1601.17 608.56L1601.43 609.76L1601.70 608.33L1601.96 609.09L1602.21 609.07L1602.47 609.25L1602.73 611.40L1602.99 611.73L1603.24 611.40L1603.50 614.13L1603.76 613.31L1604.01 616.05L1604.27 615.06L1604.53 616.63L1604.79 618.31L1605.04 620.01L1605.30 619.80L1605.56 618.18L1605.83 616.59L1606.09 618.77L1606.35 617.83L1606.61 615.82L1606.88 615.82L1607.14 614.65L1607.40 614.25L1607.66 613.28L1607.92 614.33L1608.19 612.14L1608.45 610.88L1608.71 611.12L1608.97 610.92L1609.24 609.39L1609.50 609.37L1609.76 609.46L1610.01 611.27L1610.27 611.26L1610.53 611.04L1610.79 612.86L1611.04 611.13L1611.30 611.77L1611.56 612.85L1611.81 611.04L1612.07 614.41L1612.33 613.88L1612.59 614.02L1612.84 614.86L1613.10 615.14L1613.36 613.66L1613.62 615.63L1613.89 613.43L1614.15 614.01L1614.41 613.16L1614.67 614.37L1614.94 611.03L1615.20 613.52L1615.46 612.68L1615.72 612.74L1615.99 610.21L1616.25 611.10L1616.51 612.32L1616.77 611.43L1617.03 613.23L1617.29 612.34L1617.55 612.42L1617.81 611.82L1618.07 613.43L1618.33 614.13L1618.58 612.44L1618.84 612.91L1619.10 611.61L1619.36 615.32L1619.62 612.21L1619.88 613.03L1620.14 615.06L1620.40 612.99L1620.66 613.26L1620.93 612.58L1621.19 611.37L1621.45 609.99L1621.71 610.27L1621.97 609.95L1622.24 610.13L1622.50 609.05L1622.75 611.93L1623.00 614.44L1623.25 616.03L1623.50 619.42L1623.76 618.39L1624.03 619.41L1624.29 616.73L1624.56 615.47L1624.82 616.37L1625.09 614.47L1625.35 612.35L1625.61 615.54L1625.88 612.19L1626.14 612.71L1626.41 611.87L1626.67 610.54L1626.94 609.96L1627.20 608.97L1627.46 609.47L1627.71 613.37L1627.97 614.11L1628.23 613.42L1628.49 616.73L1628.74 616.79L1629.00 619.96L1629.26 620.11L1629.51 620.79L1629.77 621.86L1630.03 623.54L1630.29 624.64L1630.54 624.91L1630.80 626.90L1631.06 626.19L1631.33 626.19L1631.59 624.93L1631.85 624.44L1632.11 624.56L1632.38 622.91L1632.64 622.32L1632.90 621.52L1633.16 622.80L1633.43 625.33L1633.69 625.44L1633.95 628.02L1634.21 630.34L1634.47 630.49L1634.74 632.00L1635.00 633.07L1635.26 633.04L1635.53 634.49L1635.79 634.08L1636.05 636.49L1636.31 635.11L1636.58 635.13L1636.84 636.62L1637.10 636.21L1637.36 635.72L1637.62 637.84L1637.89 637.75L1638.15 639.34L1638.41 640.19L1638.67 639.17L1638.94 640.65L1639.20 640.54L1639.46 641.51L1639.71 643.67L1639.97 643.11L1640.22 645.05L1640.48 647.19L1640.74 648.30L1640.99 649.62L1641.25 649.25L1641.51 652.04L1641.76 651.98L1642.02 652.82L1642.28 656.41L1642.53 656.97L1642.79 656.98L1643.04 661.47L1643.30 661.06L1643.56 663.83L1643.83 663.93L1644.09 666.01L1644.35 667.28L1644.61 667.22L1644.88 669.44L1645.14 669.66L1645.40 670.71L1645.66 671.38L1645.92 673.52L1646.19 674.96L1646.45 675.53L1646.71 676.14L1646.97 676.68L1647.24 680.13L1647.50 679.99L1647.75 680.79L1648.01 681.57L1648.26 682.91L1648.52 689.34L1648.77 686.83L1649.02 689.23L1649.28 688.58L1649.53 690.53L1649.78 695.46L1650.04 696.80L1650.29 695.94L1650.55 699.44L1650.80 699.86L1651.07 703.57L1651.34 704.74L1651.61 706.58L1651.88 709.51L1652.15 711.65L1652.42 713.16L1652.69 717.40L1652.96 718.69L1653.23 719.36L1653.50 721.80L1653.75 722.88L1654.00 721.30L1654.25 723.19L1654.50 723.42L1654.75 723.31L1655.00 723.67L1655.25 724.75L1655.50 723.99L1655.75 723.39L1656.00 725.44L1656.25 725.46L1656.50 725.33L1656.75 726.28L1657.00 725.86L1657.25 729.20L1657.50 731.06L1657.75 729.34L1658.00 729.33L1658.26 731.19L1658.53 730.54L1658.79 728.69L1659.06 730.88L1659.32 735.19L1659.59 734.96L1659.85 731.72L1660.11 732.42L1660.38 733.47L1660.64 733.63L1660.91 735.02L1661.17 735.27L1661.44 735.99L1661.70 736.14L1661.96 737.04L1662.21 739.82L1662.47 740.15L1662.73 742.74L1662.99 744.18L1663.24 748.26L1663.50 747.61L1663.76 749.33L1664.01 749.65L1664.27 751.85L1664.53 751.91L1664.79 757.79L1665.04 756.33L1665.30 759.40L1665.56 757.81L1665.81 762.71L1666.07 762.77L1666.33 761.94L1666.59 765.28L1666.84 763.86L1667.10 766.90L1667.36 766.90L1667.61 768.48L1667.87 768.32L1668.13 769.19L1668.39 770.71L1668.64 772.52L1668.90 770.76L1669.16 771.56L1669.41 773.79L1669.67 775.81L1669.93 774.73L1670.19 777.55L1670.44 776.38L1670.70 780.18L1670.96 779.71L1671.21 782.57L1671.47 785.54L1671.73 783.21L1671.99 782.03L1672.24 782.93L1672.50 786.58L1672.76 786.75L1673.01 789.47L1673.27 789.11L1673.53 787.16L1673.79 790.43L1674.04 793.19L1674.30 793.70L1674.56 793.67L1674.81 794.42L1675.07 795.65L1675.33 796.53L1675.59 795.65L1675.84 795.34L1676.10 795.01L1676.36 795.83L1676.61 795.86L1676.87 798.12L1677.13 797.37L1677.39 798.70L1677.64 799.06L1677.90 798.01L1678.16 798.60L1678.41 796.39L1678.67 799.75L1678.93 796.62L1679.19 791.38L1679.44 798.13L1679.70 793.78L1679.96 793.87L1680.21 794.84L1680.47 789.38L1680.73 791.82L1680.99 791.25L1681.24 792.94L1681.50 791.04L1681.76 793.22L1682.01 789.90L1682.27 795.19L1682.53 795.20L1682.79 795.71L1683.04 796.37L1683.30 793.59L1683.56 796.14L1683.81 798.56L1684.07 796.53L1684.33 793.95L1684.59 800.72L1684.84 800.38L1685.10 800.88L1685.35 800.20L1685.60 801.60L1685.85 801.83L1686.10 805.77L1686.35 802.22L1686.60 802.65L1686.85 805.68L1687.10 806.27L1687.35 807.30L1687.60 803.66L1687.85 805.63L1688.10 809.57L1688.35 806.63L1688.60 805.93L1688.85 809.28L1689.10 809.47L1689.35 806.39L1689.60 808.71L1689.86 805.90L1690.11 808.68L1690.37 810.81L1690.62 811.63L1690.88 810.01L1691.13 809.92L1691.39 807.61L1691.64 809.01L1691.90 808.08L1692.16 811.31L1692.41 809.65L1692.67 809.59L1692.92 810.11L1693.18 805.89L1693.43 807.44L1693.69 809.98L1693.94 808.29L1694.20 809.57L1694.46 811.07L1694.72 811.14L1694.97 811.66L1695.23 811.81L1695.49 813.69L1695.75 815.90L1696.01 816.73L1696.27 818.33L1696.53 819.54L1696.78 819.31L1697.04 821.86L1697.30 821.27L1697.58 809.21L1697.86 797.54L1698.14 787.17L1698.42 774.41L1698.70 763.62L1698.96 756.18L1699.22 748.08L1699.48 741.86L1699.74 734.86L1700.00 727.13L1700.28 722.86L1700.56 717.03L1700.84 709.61L1701.12 704.94L1701.40 700.08L1701.67 657.49L1701.93 616.97L1702.20 577.53L1702.47 570.39L1702.73 563.41L1703.00 556.25L1703.26 557.15L1703.51 557.65L1703.77 558.51L1704.02 559.49L1704.28 558.96L1704.53 560.28L1704.79 559.83L1705.04 560.38L1705.30 560.71L1705.56 556.38L1705.81 549.98L1706.07 544.69L1706.32 540.45L1706.58 535.77L1706.83 532.04L1707.09 525.40L1707.34 522.24L1707.60 516.87L1707.86 511.95L1708.11 507.22L1708.37 500.68L1708.62 496.29L1708.88 491.21L1709.13 485.93L1709.39 481.60L1709.64 475.19L1709.90 470.74L1710.25 464.80L1710.60 457.45L1710.87 459.77L1711.13 462.19L1711.40 465.01L1711.67 465.47L1711.93 469.52L1712.20 470.22L1712.46 471.67L1712.71 471.76L1712.97 470.47L1713.22 469.66L1713.48 469.53L1713.73 471.56L1713.99 469.95L1714.24 469.21L1714.50 468.71L1714.75 471.14L1715.00 470.53L1715.25 473.15L1715.50 474.40L1715.75 476.38L1716.00 476.19L1716.25 477.93L1716.50 478.97L1716.75 481.38L1717.01 480.23L1717.26 481.26L1717.52 481.70L1717.78 481.88L1718.03 482.96L1718.29 483.80L1718.55 483.39L1718.80 484.55L1719.06 483.92L1719.32 484.49L1719.57 484.86L1719.83 485.25L1720.09 483.98L1720.34 486.04L1720.60 486.07L1720.86 491.44L1721.11 494.58L1721.37 503.04L1721.62 506.78L1721.88 511.58L1722.13 516.72L1722.39 521.16L1722.64 526.29L1722.90 532.04L1723.15 538.90L1723.40 543.35L1723.65 548.84L1723.90 556.07L1724.15 559.62L1724.40 565.71L1724.65 570.49L1724.90 576.77L1725.15 583.50L1725.40 589.15L1725.65 594.46L1725.90 600.36L1726.16 602.83L1726.42 603.54L1726.68 605.44L1726.93 608.71L1727.19 609.73L1727.45 612.67L1727.71 615.24L1727.97 617.51L1728.22 617.94L1728.48 620.47L1728.74 621.82L1729.00 622.74L1729.25 625.59L1729.50 627.22L1729.75 626.83L1730.00 628.76L1730.25 630.70L1730.50 631.76L1730.75 632.40L1731.00 633.44L1731.25 636.77L1731.50 637.16L1731.75 639.23L1732.00 640.68L1732.26 641.74L1732.51 642.03L1732.77 644.02L1733.02 644.11L1733.28 646.83L1733.53 647.64L1733.79 649.61L1734.04 648.81L1734.30 650.90L1734.56 648.86L1734.81 645.91L1735.07 643.40L1735.32 641.34L1735.58 639.29L1735.83 636.40L1736.09 633.59L1736.34 632.23L1736.60 629.98L1736.86 627.82L1737.11 624.86L1737.37 622.29L1737.62 620.14L1737.88 618.00L1738.13 616.00L1738.39 613.12L1738.64 610.09L1738.90 608.04L1739.16 606.61L1739.41 604.70L1739.67 604.99L1739.92 603.17L1740.18 602.54L1740.43 600.48L1740.69 597.81L1740.94 598.32L1741.20 596.13L1741.46 590.33L1741.72 585.84L1741.97 580.30L1742.23 575.16L1742.49 569.44L1742.75 563.76L1743.01 558.98L1743.27 554.30L1743.53 548.16L1743.78 542.93L1744.04 538.32L1744.30 532.00L1744.55 529.65L1744.80 524.40L1745.05 522.52L1745.30 519.74L1745.55 515.41L1745.80 511.96L1746.05 510.52L1746.30 505.51L1746.55 503.04L1746.80 498.59L1747.05 495.69L1747.30 493.18L1747.56 493.69L1747.81 493.42L1748.07 493.18L1748.32 492.64L1748.58 492.07L1748.83 492.62L1749.09 493.70L1749.34 491.31L1749.60 491.88L1749.86 492.82L1750.11 498.44L1750.37 499.49L1750.62 501.68L1750.88 503.27L1751.13 506.58L1751.39 509.29L1751.64 511.01L1751.90 513.31L1752.16 513.81L1752.41 514.90L1752.67 515.89L1752.93 516.19L1753.18 517.86L1753.44 519.89L1753.70 519.94L1753.95 520.51L1754.21 521.02L1754.47 521.61L1754.72 521.94L1754.98 524.15L1755.24 524.82L1755.49 525.52L1755.75 525.59L1756.00 529.40L1756.25 530.82L1756.50 535.34L1756.75 538.89L1757.00 541.19L1757.25 544.72L1757.50 548.77L1757.75 552.00L1758.00 554.81L1758.26 557.23L1758.52 559.34L1758.78 560.96L1759.04 561.87L1759.30 565.57L1759.56 567.52L1759.82 569.09L1760.08 572.10L1760.34 573.51L1760.60 574.85L1760.86 576.64L1761.12 578.46L1761.38 581.14L1761.64 583.89L1761.90 584.89L1762.15 584.82L1762.40 582.27L1762.65 582.26L1762.90 582.62L1763.15 582.91L1763.40 581.05L1763.65 580.58L1763.90 578.16L1764.15 577.84L1764.40 577.08L1764.65 577.54L1764.90 576.45L1765.16 576.35L1765.42 576.73L1765.68 575.93L1765.93 576.20L1766.19 576.11L1766.45 577.03L1766.71 579.18L1766.97 577.94L1767.22 576.97L1767.48 578.08L1767.74 578.29L1768.00 577.78L1768.25 572.61L1768.50 569.62L1768.75 565.54L1769.00 561.91L1769.25 556.56L1769.50 552.99L1769.75 549.84L1770.00 544.99L1770.25 540.83L1770.50 537.86L1770.75 531.62L1771.00 528.43L1771.26 534.77L1771.51 541.11L1771.77 547.75L1772.02 552.94L1772.28 558.50L1772.53 565.47L1772.79 571.64L1773.04 576.53L1773.30 583.30L1773.56 589.30L1773.81 597.18L1774.07 602.87L1774.32 609.14L1774.58 617.22L1774.83 621.90L1775.09 627.63L1775.34 633.35L1775.60 640.62L1775.86 636.72L1776.11 631.10L1776.37 626.62L1776.62 621.71L1776.88 617.19L1777.13 610.65L1777.39 606.32L1777.64 601.33L1777.90 598.16L1778.16 591.64L1778.41 589.19L1778.67 583.70L1778.92 578.88L1779.18 572.71L1779.43 569.15L1779.69 564.78L1779.94 558.53L1780.20 554.55L1780.46 551.64L1780.71 546.86L1780.97 543.12L1781.22 540.05L1781.48 536.22L1781.73 532.48L1781.99 527.62L1782.24 525.66L1782.50 521.12L1782.75 519.38L1783.01 517.42L1783.26 516.52L1783.51 516.62L1783.77 513.89L1784.02 512.88L1784.27 509.15L1784.53 509.92L1784.78 508.18L1785.03 506.01L1785.29 506.18L1785.54 505.02L1785.79 502.01L1786.05 502.03L1786.30 499.61L1786.65 497.18L1787.00 497.27L1787.25 508.36L1787.50 519.91L1787.75 509.19L1788.00 497.24L1788.26 494.45L1788.53 492.57L1788.79 490.65L1789.06 488.71L1789.32 487.09L1789.59 484.67L1789.85 483.59L1790.11 481.40L1790.38 478.40L1790.64 477.61L1790.91 475.83L1791.17 472.67L1791.44 469.97L1791.70 469.23L1791.95 467.93L1792.20 468.97L1792.46 467.43L1792.71 467.33L1792.96 468.74L1793.21 466.87L1793.47 465.96L1793.72 467.13L1793.97 466.63L1794.22 466.75L1794.48 466.28L1794.73 466.06L1794.98 467.24L1795.23 466.09L1795.49 465.23L1795.74 465.71L1795.99 465.99L1796.24 465.73L1796.50 463.83L1796.75 464.90L1797.00 464.27L1797.26 463.56L1797.52 464.18L1797.78 464.75L1798.03 463.63L1798.29 463.48L1798.55 463.70L1798.81 463.84L1799.07 463.87L1799.33 464.87L1799.58 462.90L1799.84 464.07L1800.10 462.84L1800.36 462.66L1800.62 463.06L1800.88 461.47L1801.13 461.06L1801.39 460.55L1801.65 460.89L1801.91 463.86L1802.17 461.59L1802.42 460.11L1802.68 460.52L1802.94 462.16L1803.20 461.34L1803.45 462.19L1803.71 461.56L1803.96 462.93L1804.22 461.90L1804.47 462.87L1804.72 462.48L1804.98 464.88L1805.23 464.46L1805.49 463.42L1805.74 464.49L1806.00 465.98L1806.25 465.24L1806.50 465.48L1806.76 466.41L1807.01 466.45L1807.27 464.81L1807.52 466.60L1807.78 466.54L1808.03 466.74L1808.28 469.15L1808.54 469.01L1808.79 469.90L1809.05 469.39L1809.30 468.81L1809.56 468.24L1809.82 470.92L1810.08 470.65L1810.34 469.60L1810.60 471.53L1810.85 471.09L1811.11 471.79L1811.37 471.62L1811.63 469.69L1811.89 470.44L1812.15 471.95L1812.41 471.83L1812.67 471.61L1812.93 472.63L1813.19 472.44L1813.45 474.05L1813.70 473.27L1813.96 473.34L1814.22 473.31L1814.48 473.79L1814.74 473.68L1815.00 474.29L1815.25 473.89L1815.51 472.76L1815.76 473.69L1816.02 472.78L1816.27 474.35L1816.53 473.15L1816.78 472.51L1817.04 472.25L1817.29 469.91L1817.55 469.80L1817.80 470.04L1818.05 467.93L1818.31 469.87L1818.56 468.67L1818.82 469.03L1819.07 467.61L1819.33 468.51L1819.58 469.25L1819.84 466.52L1820.09 465.73L1820.35 467.16L1820.60 466.19L1820.85 465.13L1821.10 466.15L1821.35 465.60L1821.61 463.63L1821.86 464.96L1822.11 464.11L1822.36 464.97L1822.61 464.02L1822.86 462.75L1823.12 463.44L1823.37 460.58L1823.62 464.11L1823.87 462.02L1824.12 461.40L1824.37 461.79L1824.62 460.26L1824.88 462.01L1825.13 461.23L1825.38 459.41L1825.63 461.55L1825.88 460.55L1826.13 460.86L1826.38 459.34L1826.64 458.34L1826.89 460.23L1827.14 456.22L1827.39 457.51L1827.64 458.65L1827.89 458.25L1828.15 458.78L1828.40 457.58L1828.65 457.69L1828.90 456.29L1829.15 454.20L1829.40 454.49L1829.65 453.03L1829.90 452.55L1830.15 451.16L1830.40 448.80L1830.65 447.77L1830.90 448.20L1831.15 446.87L1831.40 446.13L1831.65 444.48L1831.90 444.05L1832.15 442.49L1832.40 442.89L1832.65 441.63L1832.90 440.31L1833.15 437.91L1833.40 437.24L1833.65 435.59L1833.90 434.58L1834.15 433.36L1834.40 432.77L1834.66 432.53L1834.93 432.16L1835.19 429.00L1835.45 429.45L1835.71 429.49L1835.97 427.52L1836.24 428.74L1836.50 426.65L1836.76 425.51L1837.03 424.11L1837.29 424.86L1837.55 422.67L1837.81 423.93L1838.07 422.75L1838.34 420.45L1838.60 420.22L1838.86 420.81L1839.12 419.08L1839.39 417.33L1839.65 415.56L1839.91 416.64L1840.17 415.31L1840.44 414.91L1840.70 413.30L1840.96 412.00L1841.22 414.46L1841.49 411.74L1841.75 410.20L1842.01 410.65L1842.27 408.37L1842.54 409.54L1842.80 408.23L1843.06 406.43L1843.32 407.59L1843.58 406.80L1843.84 405.81L1844.10 405.87L1844.36 403.96L1844.62 403.88L1844.88 404.63L1845.14 402.71L1845.40 403.62L1845.66 402.60L1845.92 401.95L1846.18 402.64L1846.44 403.89L1846.70 400.31L1847.00 369.61L1847.30 342.33L1847.57 342.00L1847.84 342.65L1848.11 341.69L1848.39 342.12L1848.66 342.54L1848.93 342.60L1849.20 342.70L1849.50 341.54L1849.80 339.58L1850.10 337.21L1850.40 335.65L1850.65 335.65L1850.91 334.39L1851.16 335.36L1851.41 331.95L1851.67 331.89L1851.92 330.72L1852.17 329.94L1852.43 328.61L1852.68 327.40L1852.93 327.54L1853.19 328.09L1853.44 326.28L1853.69 325.94L1853.95 325.78L1854.20 322.91L1854.45 322.59L1854.70 324.03L1854.95 323.58L1855.20 325.30L1855.45 325.68L1855.70 326.24L1855.95 326.93L1856.20 326.14L1856.45 327.04L1856.70 327.63L1856.95 326.66L1857.20 329.01L1857.45 327.90L1857.70 329.27L1857.95 329.06L1858.20 330.33L1858.45 330.79L1858.70 331.02L1858.95 330.51L1859.20 331.29L1859.47 325.85L1859.73 319.72L1860.00 312.99L1860.28 315.98L1860.57 320.08L1860.85 325.41L1861.13 325.85L1861.42 330.15L1861.70 332.90L1861.97 330.51L1862.23 322.74L1862.50 320.08L1862.77 316.08L1863.03 310.69L1863.30 307.40L1863.58 307.66L1863.87 307.44L1864.15 309.79L1864.43 309.47L1864.72 307.50L1865.00 308.86L1865.25 308.42L1865.51 309.82L1865.76 307.56L1866.02 309.37L1866.27 310.01L1866.52 308.85L1866.78 309.71L1867.03 310.40L1867.28 308.43L1867.54 308.36L1867.79 310.05L1868.05 308.43L1868.30 309.71L1868.56 309.70L1868.82 310.95L1869.08 310.35L1869.35 307.41L1869.61 309.38L1869.87 310.24L1870.13 309.61L1870.39 310.46L1870.65 311.17L1870.92 309.16L1871.18 310.61L1871.44 309.83L1871.70 309.06L1871.96 309.50L1872.21 309.32L1872.47 312.51L1872.72 311.09L1872.98 309.28L1873.24 311.51L1873.49 312.22L1873.75 311.57L1874.00 315.55L1874.25 312.64L1874.50 311.63L1874.75 311.96L1875.00 311.97L1875.25 312.06L1875.50 311.84L1875.75 314.14L1876.00 312.15L1876.25 314.25L1876.50 312.65L1876.75 314.47L1877.00 313.24" stroke="#000000"/>
</g>
<rect x="280.50" y="112.40" width="1595.00" height="1065.00" fill="none" stroke="#000" stroke-width="3.333" stroke-linejoin="miter"/>
<path d="M457.45 1177.40V1191.98M639.88 1177.40V1191.98M822.31 1177.40V1191.98M1004.74 1177.40V1191.98M1187.17 1177.40V1191.98M1369.60 1177.40V1191.98M1552.03 1177.40V1191.98M1734.46 1177.40V1191.98M280.50 973.45H265.92" stroke="#000" stroke-width="3.333" fill="none"/>
<path d="M280.50 197.50H272.17M280.50 1092.40H272.17" stroke="#000" stroke-width="2.5" fill="none"/>
<text x="379.04" y="87.20" font-family="Liberation Sans, sans-serif" font-size="53" textLength="118.42" lengthAdjust="spacingAndGlyphs">Peak</text>
<text x="513.88" y="87.20" font-family="Liberation Sans, sans-serif" font-size="53" textLength="107.39" lengthAdjust="spacingAndGlyphs">field</text>
<text x="637.65" y="87.20" font-family="Liberation Sans, sans-serif" font-size="53" textLength="132.66" lengthAdjust="spacingAndGlyphs">sums</text>
<text x="786.36" y="87.20" font-family="Liberation Sans, sans-serif" font-size="53" textLength="69.65" lengthAdjust="spacingAndGlyphs">for</text>
<text x="870.37" y="87.20" font-family="Liberation Sans, sans-serif" font-size="53" textLength="195.05" lengthAdjust="spacingAndGlyphs">KR0039</text>
<text x="1065.18" y="87.20" font-family="Liberation Sans, sans-serif" font-size="53" textLength="25.23" lengthAdjust="spacingAndGlyphs">_</text>
<text x="1089.94" y="87.20" font-family="Liberation Sans, sans-serif" font-size="53" textLength="254.18" lengthAdjust="spacingAndGlyphs">20250516</text>
<text x="1344.18" y="87.20" font-family="Liberation Sans, sans-serif" font-size="53" textLength="25.13" lengthAdjust="spacingAndGlyphs">_</text>
<text x="1370.22" y="87.20" font-family="Liberation Sans, sans-serif" font-size="53" textLength="188.19" lengthAdjust="spacingAndGlyphs">110135</text>
<text x="1559.68" y="87.20" font-family="Liberation Sans, sans-serif" font-size="53" textLength="25.32" lengthAdjust="spacingAndGlyphs">_</text>
<text x="1585.13" y="87.20" font-family="Liberation Sans, sans-serif" font-size="53" textLength="189.89" lengthAdjust="spacingAndGlyphs">964060</text>
<text x="1025.88" y="1386.50" font-family="Liberation Sans, sans-serif" font-size="44.3" textLength="101.57" lengthAdjust="spacingAndGlyphs">Time</text>
<text transform="translate(82.2,690.5) rotate(-90)" x="-0.09" y="0" font-family="Liberation Sans, sans-serif" font-size="44.3" textLength="89.77" lengthAdjust="spacingAndGlyphs">ADU</text>
<text x="109.83" y="212.50" font-family="Liberation Sans, sans-serif" font-size="43.5">2</text>
<text x="145.70" y="216.12" font-family="Liberation Sans, sans-serif" font-size="50">×</text>
<text x="186.99" y="212.50" font-family="Liberation Sans, sans-serif" font-size="43.5">1</text>
<text x="213.90" y="212.50" font-family="Liberation Sans, sans-serif" font-size="43.5">0</text>
<text x="239.62" y="195.60" font-family="Liberation Sans, sans-serif" font-size="27.4">8</text>
<text x="179.99" y="989.40" font-family="Liberation Sans, sans-serif" font-size="43.5">1</text>
<text x="206.10" y="989.40" font-family="Liberation Sans, sans-serif" font-size="43.5">0</text>
<text x="232.82" y="973.00" font-family="Liberation Sans, sans-serif" font-size="27.4">8</text>
<text transform="translate(454.55,1268.50) rotate(-30)" x="0" y="0" font-family="Liberation Sans, sans-serif" font-size="44.3" text-anchor="middle" dominant-baseline="central" textLength="186" lengthAdjust="spacingAndGlyphs">05-16 12</text>
<text transform="translate(636.98,1268.50) rotate(-30)" x="0" y="0" font-family="Liberation Sans, sans-serif" font-size="44.3" text-anchor="middle" dominant-baseline="central" textLength="186" lengthAdjust="spacingAndGlyphs">05-16 13</text>
<text transform="translate(819.41,1268.50) rotate(-30)" x="0" y="0" font-family="Liberation Sans, sans-serif" font-size="44.3" text-anchor="middle" dominant-baseline="central" textLength="186" lengthAdjust="spacingAndGlyphs">05-16 14</text>
<text transform="translate(1001.84,1268.50) rotate(-30)" x="0" y="0" font-family="Liberation Sans, sans-serif" font-size="44.3" text-anchor="middle" dominant-baseline="central" textLength="186" lengthAdjust="spacingAndGlyphs">05-16 15</text>
<text transform="translate(1184.27,1268.50) rotate(-30)" x="0" y="0" font-family="Liberation Sans, sans-serif" font-size="44.3" text-anchor="middle" dominant-baseline="central" textLength="186" lengthAdjust="spacingAndGlyphs">05-16 16</text>
<text transform="translate(1366.70,1268.50) rotate(-30)" x="0" y="0" font-family="Liberation Sans, sans-serif" font-size="44.3" text-anchor="middle" dominant-baseline="central" textLength="186" lengthAdjust="spacingAndGlyphs">05-16 17</text>
<text transform="translate(1549.13,1268.50) rotate(-30)" x="0" y="0" font-family="Liberation Sans, sans-serif" font-size="44.3" text-anchor="middle" dominant-baseline="central" textLength="186" lengthAdjust="spacingAndGlyphs">05-16 18</text>
<text transform="translate(1731.56,1268.50) rotate(-30)" x="0" y="0" font-family="Liberation Sans, sans-serif" font-size="44.3" text-anchor="middle" dominant-baseline="central" textLength="186" lengthAdjust="spacingAndGlyphs">05-16 19</text>
<rect x="299.9" y="132.9" width="320.7" height="137.6" rx="8.3" ry="8.3" fill="#ffffff" fill-opacity="0.8" stroke="#d6d6d6" stroke-width="3.333"/>
<path d="M315.7 167.8H401" stroke="#ff0000" stroke-width="2.083"/>
<path d="M315.7 231H401" stroke="#000000" stroke-width="2.083"/>
<text x="433.50" y="182.80" font-family="Liberation Sans, sans-serif" font-size="44.3" textLength="97.27" lengthAdjust="spacingAndGlyphs">Peak</text>
<text x="434.21" y="244.70" font-family="Liberation Sans, sans-serif" font-size="44.3" textLength="169.53" lengthAdjust="spacingAndGlyphs">Average</text>
<rect x="1846.2" y="112.2" width="2.6" height="2.0" fill="#ff0000"/>
</svg>
</body></html>
